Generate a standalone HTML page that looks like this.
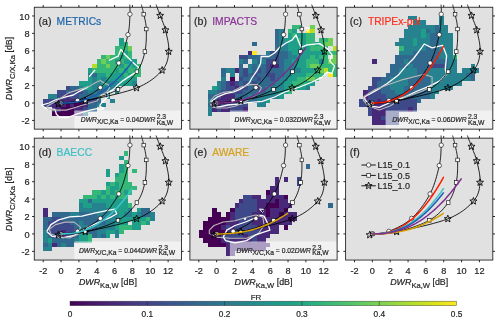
<!DOCTYPE html><html><head><meta charset="utf-8"><style>html,body{margin:0;padding:0;width:500px;height:322px;overflow:hidden;background:#fff}</style></head><body><svg width="500" height="322" viewBox="0 0 500 322" style="position:absolute;left:0;top:0;will-change:transform;font-family:'Liberation Sans', sans-serif">
<rect width="500" height="322" fill="#fff"/>
<rect x="34.30" y="7.25" width="147.20" height="121.90" fill="#e1e1e1"/>
<g shape-rendering="crispEdges">
<rect x="119.05" y="37.73" width="4.46" height="4.35" fill="#1f9e89"/>
<rect x="119.05" y="42.08" width="4.46" height="4.35" fill="#1f9e89"/>
<rect x="123.51" y="42.08" width="4.46" height="4.35" fill="#35b779"/>
<rect x="114.59" y="46.43" width="4.46" height="4.35" fill="#35b779"/>
<rect x="119.05" y="46.43" width="4.46" height="4.35" fill="#35b779"/>
<rect x="123.51" y="46.43" width="4.46" height="4.35" fill="#35b779"/>
<rect x="127.97" y="46.43" width="4.46" height="4.35" fill="#6ece58"/>
<rect x="114.59" y="50.79" width="4.46" height="4.35" fill="#35b779"/>
<rect x="119.05" y="50.79" width="4.46" height="4.35" fill="#35b779"/>
<rect x="123.51" y="50.79" width="4.46" height="4.35" fill="#1f9e89"/>
<rect x="127.97" y="50.79" width="4.46" height="4.35" fill="#35b779"/>
<rect x="101.21" y="55.14" width="4.46" height="4.35" fill="#35b779"/>
<rect x="105.67" y="55.14" width="4.46" height="4.35" fill="#6ece58"/>
<rect x="110.13" y="55.14" width="4.46" height="4.35" fill="#35b779"/>
<rect x="114.59" y="55.14" width="4.46" height="4.35" fill="#35b779"/>
<rect x="119.05" y="55.14" width="4.46" height="4.35" fill="#1f9e89"/>
<rect x="123.51" y="55.14" width="4.46" height="4.35" fill="#35b779"/>
<rect x="127.97" y="55.14" width="4.46" height="4.35" fill="#35b779"/>
<rect x="96.75" y="59.49" width="4.46" height="4.35" fill="#35b779"/>
<rect x="101.21" y="59.49" width="4.46" height="4.35" fill="#6ece58"/>
<rect x="105.67" y="59.49" width="4.46" height="4.35" fill="#35b779"/>
<rect x="110.13" y="59.49" width="4.46" height="4.35" fill="#35b779"/>
<rect x="114.59" y="59.49" width="4.46" height="4.35" fill="#1f9e89"/>
<rect x="119.05" y="59.49" width="4.46" height="4.35" fill="#35b779"/>
<rect x="123.51" y="59.49" width="4.46" height="4.35" fill="#1f9e89"/>
<rect x="127.97" y="59.49" width="4.46" height="4.35" fill="#1f9e89"/>
<rect x="132.43" y="59.49" width="4.46" height="4.35" fill="#1f9e89"/>
<rect x="92.29" y="63.85" width="4.46" height="4.35" fill="#b5de2b"/>
<rect x="96.75" y="63.85" width="4.46" height="4.35" fill="#35b779"/>
<rect x="101.21" y="63.85" width="4.46" height="4.35" fill="#35b779"/>
<rect x="105.67" y="63.85" width="4.46" height="4.35" fill="#6ece58"/>
<rect x="110.13" y="63.85" width="4.46" height="4.35" fill="#35b779"/>
<rect x="114.59" y="63.85" width="4.46" height="4.35" fill="#35b779"/>
<rect x="119.05" y="63.85" width="4.46" height="4.35" fill="#1f9e89"/>
<rect x="123.51" y="63.85" width="4.46" height="4.35" fill="#35b779"/>
<rect x="127.97" y="63.85" width="4.46" height="4.35" fill="#35b779"/>
<rect x="132.43" y="63.85" width="4.46" height="4.35" fill="#1f9e89"/>
<rect x="136.89" y="63.85" width="4.46" height="4.35" fill="#35b779"/>
<rect x="87.83" y="68.20" width="4.46" height="4.35" fill="#1f9e89"/>
<rect x="92.29" y="68.20" width="4.46" height="4.35" fill="#35b779"/>
<rect x="96.75" y="68.20" width="4.46" height="4.35" fill="#35b779"/>
<rect x="101.21" y="68.20" width="4.46" height="4.35" fill="#35b779"/>
<rect x="105.67" y="68.20" width="4.46" height="4.35" fill="#35b779"/>
<rect x="110.13" y="68.20" width="4.46" height="4.35" fill="#35b779"/>
<rect x="114.59" y="68.20" width="4.46" height="4.35" fill="#1f9e89"/>
<rect x="119.05" y="68.20" width="4.46" height="4.35" fill="#35b779"/>
<rect x="123.51" y="68.20" width="4.46" height="4.35" fill="#1f9e89"/>
<rect x="127.97" y="68.20" width="4.46" height="4.35" fill="#35b779"/>
<rect x="132.43" y="68.20" width="4.46" height="4.35" fill="#35b779"/>
<rect x="136.89" y="68.20" width="4.46" height="4.35" fill="#35b779"/>
<rect x="87.83" y="72.55" width="4.46" height="4.35" fill="#26828e"/>
<rect x="92.29" y="72.55" width="4.46" height="4.35" fill="#31688e"/>
<rect x="96.75" y="72.55" width="4.46" height="4.35" fill="#1f9e89"/>
<rect x="101.21" y="72.55" width="4.46" height="4.35" fill="#1f9e89"/>
<rect x="105.67" y="72.55" width="4.46" height="4.35" fill="#35b779"/>
<rect x="110.13" y="72.55" width="4.46" height="4.35" fill="#1f9e89"/>
<rect x="114.59" y="72.55" width="4.46" height="4.35" fill="#1f9e89"/>
<rect x="119.05" y="72.55" width="4.46" height="4.35" fill="#1f9e89"/>
<rect x="123.51" y="72.55" width="4.46" height="4.35" fill="#35b779"/>
<rect x="127.97" y="72.55" width="4.46" height="4.35" fill="#1f9e89"/>
<rect x="132.43" y="72.55" width="4.46" height="4.35" fill="#35b779"/>
<rect x="136.89" y="72.55" width="4.46" height="4.35" fill="#35b779"/>
<rect x="87.83" y="76.91" width="4.46" height="4.35" fill="#1f9e89"/>
<rect x="92.29" y="76.91" width="4.46" height="4.35" fill="#26828e"/>
<rect x="96.75" y="76.91" width="4.46" height="4.35" fill="#1f9e89"/>
<rect x="101.21" y="76.91" width="4.46" height="4.35" fill="#26828e"/>
<rect x="105.67" y="76.91" width="4.46" height="4.35" fill="#1f9e89"/>
<rect x="110.13" y="76.91" width="4.46" height="4.35" fill="#1f9e89"/>
<rect x="114.59" y="76.91" width="4.46" height="4.35" fill="#1f9e89"/>
<rect x="119.05" y="76.91" width="4.46" height="4.35" fill="#1f9e89"/>
<rect x="123.51" y="76.91" width="4.46" height="4.35" fill="#1f9e89"/>
<rect x="127.97" y="76.91" width="4.46" height="4.35" fill="#1f9e89"/>
<rect x="132.43" y="76.91" width="4.46" height="4.35" fill="#1f9e89"/>
<rect x="78.91" y="81.26" width="4.46" height="4.35" fill="#1f9e89"/>
<rect x="83.37" y="81.26" width="4.46" height="4.35" fill="#1f9e89"/>
<rect x="87.83" y="81.26" width="4.46" height="4.35" fill="#1f9e89"/>
<rect x="92.29" y="81.26" width="4.46" height="4.35" fill="#26828e"/>
<rect x="96.75" y="81.26" width="4.46" height="4.35" fill="#26828e"/>
<rect x="101.21" y="81.26" width="4.46" height="4.35" fill="#1f9e89"/>
<rect x="105.67" y="81.26" width="4.46" height="4.35" fill="#26828e"/>
<rect x="110.13" y="81.26" width="4.46" height="4.35" fill="#26828e"/>
<rect x="114.59" y="81.26" width="4.46" height="4.35" fill="#26828e"/>
<rect x="119.05" y="81.26" width="4.46" height="4.35" fill="#1f9e89"/>
<rect x="123.51" y="81.26" width="4.46" height="4.35" fill="#1f9e89"/>
<rect x="127.97" y="81.26" width="4.46" height="4.35" fill="#1f9e89"/>
<rect x="132.43" y="81.26" width="4.46" height="4.35" fill="#26828e"/>
<rect x="65.52" y="85.61" width="4.46" height="4.35" fill="#3e4989"/>
<rect x="69.98" y="85.61" width="4.46" height="4.35" fill="#31688e"/>
<rect x="74.45" y="85.61" width="4.46" height="4.35" fill="#31688e"/>
<rect x="78.91" y="85.61" width="4.46" height="4.35" fill="#26828e"/>
<rect x="83.37" y="85.61" width="4.46" height="4.35" fill="#1f9e89"/>
<rect x="87.83" y="85.61" width="4.46" height="4.35" fill="#1f9e89"/>
<rect x="92.29" y="85.61" width="4.46" height="4.35" fill="#26828e"/>
<rect x="96.75" y="85.61" width="4.46" height="4.35" fill="#26828e"/>
<rect x="101.21" y="85.61" width="4.46" height="4.35" fill="#26828e"/>
<rect x="105.67" y="85.61" width="4.46" height="4.35" fill="#26828e"/>
<rect x="110.13" y="85.61" width="4.46" height="4.35" fill="#26828e"/>
<rect x="114.59" y="85.61" width="4.46" height="4.35" fill="#26828e"/>
<rect x="56.60" y="89.97" width="4.46" height="4.35" fill="#3e4989"/>
<rect x="61.06" y="89.97" width="4.46" height="4.35" fill="#3e4989"/>
<rect x="65.52" y="89.97" width="4.46" height="4.35" fill="#31688e"/>
<rect x="69.98" y="89.97" width="4.46" height="4.35" fill="#3e4989"/>
<rect x="74.45" y="89.97" width="4.46" height="4.35" fill="#3e4989"/>
<rect x="78.91" y="89.97" width="4.46" height="4.35" fill="#3e4989"/>
<rect x="83.37" y="89.97" width="4.46" height="4.35" fill="#31688e"/>
<rect x="87.83" y="89.97" width="4.46" height="4.35" fill="#26828e"/>
<rect x="92.29" y="89.97" width="4.46" height="4.35" fill="#26828e"/>
<rect x="96.75" y="89.97" width="4.46" height="4.35" fill="#31688e"/>
<rect x="101.21" y="89.97" width="4.46" height="4.35" fill="#31688e"/>
<rect x="105.67" y="89.97" width="4.46" height="4.35" fill="#26828e"/>
<rect x="114.59" y="89.97" width="4.46" height="4.35" fill="#26828e"/>
<rect x="47.68" y="94.32" width="4.46" height="4.35" fill="#26828e"/>
<rect x="52.14" y="94.32" width="4.46" height="4.35" fill="#26828e"/>
<rect x="56.60" y="94.32" width="4.46" height="4.35" fill="#3e4989"/>
<rect x="61.06" y="94.32" width="4.46" height="4.35" fill="#3e4989"/>
<rect x="65.52" y="94.32" width="4.46" height="4.35" fill="#482878"/>
<rect x="69.98" y="94.32" width="4.46" height="4.35" fill="#3e4989"/>
<rect x="74.45" y="94.32" width="4.46" height="4.35" fill="#3e4989"/>
<rect x="78.91" y="94.32" width="4.46" height="4.35" fill="#31688e"/>
<rect x="83.37" y="94.32" width="4.46" height="4.35" fill="#31688e"/>
<rect x="87.83" y="94.32" width="4.46" height="4.35" fill="#31688e"/>
<rect x="92.29" y="94.32" width="4.46" height="4.35" fill="#31688e"/>
<rect x="96.75" y="94.32" width="4.46" height="4.35" fill="#26828e"/>
<rect x="105.67" y="94.32" width="4.46" height="4.35" fill="#26828e"/>
<rect x="43.22" y="98.67" width="4.46" height="4.35" fill="#3e4989"/>
<rect x="47.68" y="98.67" width="4.46" height="4.35" fill="#3e4989"/>
<rect x="52.14" y="98.67" width="4.46" height="4.35" fill="#3e4989"/>
<rect x="56.60" y="98.67" width="4.46" height="4.35" fill="#3e4989"/>
<rect x="61.06" y="98.67" width="4.46" height="4.35" fill="#482878"/>
<rect x="65.52" y="98.67" width="4.46" height="4.35" fill="#482878"/>
<rect x="69.98" y="98.67" width="4.46" height="4.35" fill="#482878"/>
<rect x="74.45" y="98.67" width="4.46" height="4.35" fill="#482878"/>
<rect x="78.91" y="98.67" width="4.46" height="4.35" fill="#482878"/>
<rect x="83.37" y="98.67" width="4.46" height="4.35" fill="#3e4989"/>
<rect x="87.83" y="98.67" width="4.46" height="4.35" fill="#3e4989"/>
<rect x="92.29" y="98.67" width="4.46" height="4.35" fill="#3e4989"/>
<rect x="96.75" y="98.67" width="4.46" height="4.35" fill="#31688e"/>
<rect x="110.13" y="98.67" width="4.46" height="4.35" fill="#26828e"/>
<rect x="43.22" y="103.03" width="4.46" height="4.35" fill="#3e4989"/>
<rect x="47.68" y="103.03" width="4.46" height="4.35" fill="#3e4989"/>
<rect x="52.14" y="103.03" width="4.46" height="4.35" fill="#482878"/>
<rect x="56.60" y="103.03" width="4.46" height="4.35" fill="#482878"/>
<rect x="61.06" y="103.03" width="4.46" height="4.35" fill="#482878"/>
<rect x="65.52" y="103.03" width="4.46" height="4.35" fill="#440154"/>
<rect x="69.98" y="103.03" width="4.46" height="4.35" fill="#482878"/>
<rect x="74.45" y="103.03" width="4.46" height="4.35" fill="#440154"/>
<rect x="78.91" y="103.03" width="4.46" height="4.35" fill="#440154"/>
<rect x="83.37" y="103.03" width="4.46" height="4.35" fill="#482878"/>
<rect x="87.83" y="103.03" width="4.46" height="4.35" fill="#31688e"/>
<rect x="92.29" y="103.03" width="4.46" height="4.35" fill="#31688e"/>
<rect x="96.75" y="103.03" width="4.46" height="4.35" fill="#26828e"/>
<rect x="101.21" y="103.03" width="4.46" height="4.35" fill="#26828e"/>
<rect x="52.14" y="107.38" width="4.46" height="4.35" fill="#482878"/>
<rect x="56.60" y="107.38" width="4.46" height="4.35" fill="#482878"/>
<rect x="61.06" y="107.38" width="4.46" height="4.35" fill="#440154"/>
<rect x="65.52" y="107.38" width="4.46" height="4.35" fill="#440154"/>
<rect x="69.98" y="107.38" width="4.46" height="4.35" fill="#440154"/>
<rect x="74.45" y="107.38" width="4.46" height="4.35" fill="#482878"/>
<rect x="78.91" y="107.38" width="4.46" height="4.35" fill="#482878"/>
<rect x="83.37" y="107.38" width="4.46" height="4.35" fill="#3e4989"/>
<rect x="87.83" y="107.38" width="4.46" height="4.35" fill="#31688e"/>
<rect x="92.29" y="107.38" width="4.46" height="4.35" fill="#31688e"/>
<rect x="52.14" y="111.74" width="4.46" height="4.35" fill="#440154"/>
<rect x="56.60" y="111.74" width="4.46" height="4.35" fill="#440154"/>
<rect x="61.06" y="111.74" width="4.46" height="4.35" fill="#440154"/>
<rect x="65.52" y="111.74" width="4.46" height="4.35" fill="#440154"/>
<rect x="69.98" y="111.74" width="4.46" height="4.35" fill="#440154"/>
<rect x="74.45" y="111.74" width="4.46" height="4.35" fill="#482878"/>
<rect x="78.91" y="111.74" width="4.46" height="4.35" fill="#482878"/>
<rect x="83.37" y="111.74" width="4.46" height="4.35" fill="#26828e"/>
</g>
<text x="38.50" y="25.25" font-size="10.6" fill="#262626" stroke="#262626" stroke-width="0.2">(a)</text>
<text x="56.60" y="25.25" font-size="10.3" fill="#1c65ab" stroke="#1c65ab" stroke-width="0.2">METRICs</text>
<path d="M97.0,108.7 L90.0,110.1 L83.0,112.2 L76.0,114.3 L67.6,117.5 L59.9,117.5 L56.4,114.3 L55.0,109.4 L46.6,108.7 L41.7,105.2 L49.0,103.0 L55.0,100.0 L61.5,98.1 L65.8,96.9 L73.3,95.0 L79.5,91.3 L88.2,87.0" fill="none" stroke="#ffffff" stroke-width="1.30" stroke-linejoin="round"/>
<path d="M89.1,76.8 L95.1,69.9" fill="none" stroke="#ffffff" stroke-width="1.30" stroke-linejoin="round"/>
<path d="M108.8,60.5 L118.2,56.2 L120.8,49.4 L125.0,54.5 L131.9,61.4 L138.7,67.4 L137.0,71.6 L130.2,75.9 L123.8,80.1 L118.5,84.3 L114.3,88.6 L111.1,90.7 L107.4,92.8 L108.5,96.5 L101.6,102.8 L99.5,106.0 L103.7,108.6 L99.5,109.7 L97.0,108.7" fill="none" stroke="#ffffff" stroke-width="1.30" stroke-linejoin="round"/>
<path d="M46.6,106.6 L56.4,101.0 L69.0,92.6 L83.0,88.4 L90.0,85.9 L96.3,82.2 L100.6,80.6 L103.7,82.8 L108.5,84.9 L109.5,88.0 L106.9,91.7 L100.6,95.4 L97.0,101.0 L87.2,103.8 L76.0,107.3 L66.2,110.1 L53.6,110.1 L48.0,108.7 L46.6,106.6" fill="none" stroke="#b8b8b8" stroke-width="1.10" stroke-linejoin="round"/>
<path d="M61.06,103.03 L62.02,102.92 L63.21,102.84 L64.61,102.76 L66.18,102.66 L67.89,102.53 L69.72,102.33 L71.64,102.04 L73.60,101.64 L75.59,101.11 L77.57,100.42 L79.61,99.60 L81.79,98.68 L84.07,97.67 L86.42,96.56 L88.82,95.34 L91.23,94.02 L93.61,92.58 L95.94,91.02 L98.19,89.34 L100.32,87.53 L102.38,85.56 L104.43,83.43 L106.46,81.14 L108.46,78.73 L110.40,76.22 L112.27,73.63 L114.06,70.98 L115.75,68.31 L117.33,65.64 L118.78,62.98 L120.11,60.26 L121.33,57.43 L122.45,54.51 L123.47,51.55 L124.41,48.57 L125.26,45.61 L126.04,42.71 L126.75,39.90 L127.39,37.21 L127.97,34.68 L128.47,32.26 L128.86,29.91 L129.16,27.62 L129.38,25.41 L129.54,23.28 L129.65,21.24 L129.73,19.31 L129.80,17.49 L129.86,15.79 L129.94,14.22 L130.00,12.77 L130.03,11.45 L130.03,10.24 L130.01,9.14 L129.97,8.15 L129.92,7.26 L129.86,6.46 L129.82,5.77 L129.78,5.16 L129.76,4.64" fill="none" stroke="#000" stroke-width="0.85"/>
<path d="M61.06,103.03 L62.46,102.96 L64.20,102.92 L66.24,102.90 L68.54,102.87 L71.06,102.80 L73.73,102.67 L76.52,102.46 L79.39,102.15 L82.28,101.71 L85.15,101.11 L88.14,100.37 L91.38,99.50 L94.80,98.52 L98.32,97.44 L101.89,96.27 L105.43,95.02 L108.88,93.70 L112.17,92.33 L115.22,90.90 L117.98,89.45 L120.48,87.93 L122.83,86.32 L125.02,84.64 L127.07,82.89 L128.99,81.09 L130.78,79.25 L132.46,77.38 L134.03,75.48 L135.51,73.58 L136.89,71.68 L138.17,69.78 L139.30,67.85 L140.31,65.90 L141.21,63.92 L142.01,61.93 L142.72,59.90 L143.35,57.86 L143.92,55.79 L144.44,53.69 L144.92,51.57 L145.35,49.38 L145.68,47.09 L145.94,44.74 L146.12,42.35 L146.25,39.96 L146.32,37.60 L146.35,35.29 L146.35,33.07 L146.31,30.97 L146.26,29.02 L146.17,27.20 L146.01,25.48 L145.79,23.84 L145.53,22.29 L145.25,20.81 L144.94,19.39 L144.63,18.03 L144.32,16.72 L144.03,15.45 L143.76,14.22 L143.51,13.00 L143.24,11.81 L142.96,10.66 L142.68,9.55 L142.40,8.50 L142.14,7.53 L141.90,6.64 L141.68,5.86 L141.50,5.18 L141.35,4.64" fill="none" stroke="#000" stroke-width="0.85"/>
<path d="M58.39,104.07 L59.88,103.93 L61.66,103.79 L63.73,103.65 L66.06,103.48 L68.66,103.27 L71.51,102.99 L74.61,102.63 L77.96,102.17 L81.53,101.58 L85.33,100.85 L89.58,99.98 L94.43,98.97 L99.71,97.85 L105.29,96.62 L111.02,95.31 L116.73,93.93 L122.29,92.49 L127.55,91.00 L132.34,89.49 L136.54,87.97 L140.22,86.40 L143.60,84.75 L146.70,83.05 L149.53,81.29 L152.13,79.49 L154.50,77.67 L156.66,75.82 L158.65,73.97 L160.47,72.12 L162.14,70.29 L163.62,68.47 L164.84,66.66 L165.83,64.84 L166.63,63.01 L167.25,61.17 L167.73,59.31 L168.09,57.42 L168.36,55.51 L168.57,53.56 L168.74,51.57 L168.82,49.50 L168.75,47.33 L168.54,45.10 L168.23,42.83 L167.83,40.55 L167.38,38.29 L166.89,36.08 L166.39,33.96 L165.90,31.94 L165.44,30.06 L164.99,28.32 L164.50,26.66 L163.97,25.10 L163.42,23.61 L162.86,22.18 L162.29,20.80 L161.73,19.47 L161.19,18.16 L160.67,16.88 L160.18,15.61 L159.70,14.32 L159.22,13.02 L158.73,11.72 L158.26,10.44 L157.80,9.22 L157.36,8.07 L156.97,7.01 L156.61,6.07 L156.31,5.27 L156.07,4.64" fill="none" stroke="#000" stroke-width="0.85"/>
<circle cx="61.06" cy="103.03" r="2.2" fill="#fff" stroke="#000" stroke-width="0.6"/>
<circle cx="77.57" cy="100.42" r="2.2" fill="#fff" stroke="#000" stroke-width="0.6"/>
<circle cx="100.32" cy="87.53" r="2.2" fill="#fff" stroke="#000" stroke-width="0.6"/>
<circle cx="118.78" cy="62.98" r="2.2" fill="#fff" stroke="#000" stroke-width="0.6"/>
<circle cx="127.97" cy="34.68" r="2.2" fill="#fff" stroke="#000" stroke-width="0.6"/>
<circle cx="129.94" cy="14.22" r="2.2" fill="#fff" stroke="#000" stroke-width="0.6"/>
<rect x="59.26" y="101.23" width="3.6" height="3.6" fill="#fff" stroke="#000" stroke-width="0.6"/>
<rect x="83.35" y="99.31" width="3.6" height="3.6" fill="#fff" stroke="#000" stroke-width="0.6"/>
<rect x="116.18" y="87.65" width="3.6" height="3.6" fill="#fff" stroke="#000" stroke-width="0.6"/>
<rect x="135.09" y="69.88" width="3.6" height="3.6" fill="#fff" stroke="#000" stroke-width="0.6"/>
<rect x="143.12" y="49.77" width="3.6" height="3.6" fill="#fff" stroke="#000" stroke-width="0.6"/>
<rect x="144.46" y="27.22" width="3.6" height="3.6" fill="#fff" stroke="#000" stroke-width="0.6"/>
<rect x="141.96" y="12.42" width="3.6" height="3.6" fill="#fff" stroke="#000" stroke-width="0.6"/>
<polygon points="58.39,100.37 59.33,102.78 61.91,102.93 59.91,104.57 60.56,107.07 58.39,105.67 56.21,107.07 56.87,104.57 54.87,102.93 57.45,102.78" fill="none" stroke="#000" stroke-width="0.85"/>
<polygon points="85.33,97.15 86.27,99.56 88.85,99.71 86.85,101.35 87.50,103.85 85.33,102.45 83.15,103.85 83.81,101.35 81.81,99.71 84.39,99.56" fill="none" stroke="#000" stroke-width="0.85"/>
<polygon points="136.54,84.27 137.48,86.67 140.06,86.82 138.06,88.46 138.71,90.96 136.54,89.57 134.36,90.96 135.02,88.46 133.02,86.82 135.60,86.67" fill="none" stroke="#000" stroke-width="0.85"/>
<polygon points="162.14,66.59 163.08,69.00 165.66,69.15 163.66,70.78 164.32,73.28 162.14,71.89 159.97,73.28 160.62,70.78 158.62,69.15 161.20,69.00" fill="none" stroke="#000" stroke-width="0.85"/>
<polygon points="168.74,47.87 169.68,50.27 172.26,50.43 170.26,52.06 170.92,54.56 168.74,53.17 166.57,54.56 167.22,52.06 165.22,50.43 167.80,50.27" fill="none" stroke="#000" stroke-width="0.85"/>
<polygon points="165.44,26.36 166.38,28.77 168.96,28.92 166.96,30.56 167.62,33.06 165.44,31.66 163.27,33.06 163.92,30.56 161.92,28.92 164.50,28.77" fill="none" stroke="#000" stroke-width="0.85"/>
<polygon points="160.18,11.91 161.12,14.31 163.70,14.47 161.70,16.10 162.35,18.60 160.18,17.21 158.00,18.60 158.66,16.10 156.66,14.47 159.24,14.31" fill="none" stroke="#000" stroke-width="0.85"/>
<path d="M61.06,103.03 L62.89,103.02 L64.72,102.98 L66.55,102.91 L68.38,102.81 L70.21,102.66 L72.04,102.47 L73.87,102.23 L75.70,101.94 L77.53,101.60 L79.36,101.21 L81.19,100.76 L83.02,100.26 L84.85,99.70 L86.68,99.09 L88.51,98.41 L90.34,97.67 L92.17,96.87 L94.00,96.00 L95.83,95.07 L97.66,94.08 L99.49,93.01 L101.32,91.88 L103.15,90.68 L104.98,89.41 L106.81,88.07 L108.64,86.66 L110.47,85.17 L112.30,83.62 L114.13,81.99 L115.96,80.28 L117.79,78.50 L119.62,76.64 L121.45,74.70 L123.28,72.69 L125.11,70.60 L126.94,68.43 L128.77,66.18 L130.60,63.85 L132.43,61.43" fill="none" stroke="#1a5cb0" stroke-width="1.45"/>
<rect x="74.30" y="110.55" width="107.20" height="18.60" fill="#ffffff" fill-opacity="0.55"/>
<text x="127.00" y="121.60" font-size="6.75" text-anchor="middle" fill="#262626" stroke="#262626" stroke-width="0.2"><tspan font-style="italic">DWR</tspan><tspan dy="2.5">X/C,Ka</tspan><tspan dy="-2.5"> = 0.04</tspan><tspan font-style="italic">DWR</tspan><tspan dx="1.3" dy="-2.9">2.3</tspan><tspan dx="-9.4" dy="5.8">Ka,W</tspan></text>
<rect x="34.30" y="7.25" width="147.20" height="121.90" fill="none" stroke="#262626" stroke-width="0.9"/>
<line x1="43.22" y1="129.15" x2="43.22" y2="131.35" stroke="#262626" stroke-width="1.0"/>
<line x1="43.22" y1="7.25" x2="43.22" y2="5.05" stroke="#262626" stroke-width="1.0"/>
<line x1="61.06" y1="129.15" x2="61.06" y2="131.35" stroke="#262626" stroke-width="1.0"/>
<line x1="61.06" y1="7.25" x2="61.06" y2="5.05" stroke="#262626" stroke-width="1.0"/>
<line x1="78.91" y1="129.15" x2="78.91" y2="131.35" stroke="#262626" stroke-width="1.0"/>
<line x1="78.91" y1="7.25" x2="78.91" y2="5.05" stroke="#262626" stroke-width="1.0"/>
<line x1="96.75" y1="129.15" x2="96.75" y2="131.35" stroke="#262626" stroke-width="1.0"/>
<line x1="96.75" y1="7.25" x2="96.75" y2="5.05" stroke="#262626" stroke-width="1.0"/>
<line x1="114.59" y1="129.15" x2="114.59" y2="131.35" stroke="#262626" stroke-width="1.0"/>
<line x1="114.59" y1="7.25" x2="114.59" y2="5.05" stroke="#262626" stroke-width="1.0"/>
<line x1="132.43" y1="129.15" x2="132.43" y2="131.35" stroke="#262626" stroke-width="1.0"/>
<line x1="132.43" y1="7.25" x2="132.43" y2="5.05" stroke="#262626" stroke-width="1.0"/>
<line x1="150.28" y1="129.15" x2="150.28" y2="131.35" stroke="#262626" stroke-width="1.0"/>
<line x1="150.28" y1="7.25" x2="150.28" y2="5.05" stroke="#262626" stroke-width="1.0"/>
<line x1="168.12" y1="129.15" x2="168.12" y2="131.35" stroke="#262626" stroke-width="1.0"/>
<line x1="168.12" y1="7.25" x2="168.12" y2="5.05" stroke="#262626" stroke-width="1.0"/>
<line x1="34.30" y1="120.44" x2="32.10" y2="120.44" stroke="#262626" stroke-width="1.0"/>
<line x1="181.50" y1="120.44" x2="183.70" y2="120.44" stroke="#262626" stroke-width="1.0"/>
<line x1="34.30" y1="103.03" x2="32.10" y2="103.03" stroke="#262626" stroke-width="1.0"/>
<line x1="181.50" y1="103.03" x2="183.70" y2="103.03" stroke="#262626" stroke-width="1.0"/>
<line x1="34.30" y1="85.61" x2="32.10" y2="85.61" stroke="#262626" stroke-width="1.0"/>
<line x1="181.50" y1="85.61" x2="183.70" y2="85.61" stroke="#262626" stroke-width="1.0"/>
<line x1="34.30" y1="68.20" x2="32.10" y2="68.20" stroke="#262626" stroke-width="1.0"/>
<line x1="181.50" y1="68.20" x2="183.70" y2="68.20" stroke="#262626" stroke-width="1.0"/>
<line x1="34.30" y1="50.79" x2="32.10" y2="50.79" stroke="#262626" stroke-width="1.0"/>
<line x1="181.50" y1="50.79" x2="183.70" y2="50.79" stroke="#262626" stroke-width="1.0"/>
<line x1="34.30" y1="33.37" x2="32.10" y2="33.37" stroke="#262626" stroke-width="1.0"/>
<line x1="181.50" y1="33.37" x2="183.70" y2="33.37" stroke="#262626" stroke-width="1.0"/>
<line x1="34.30" y1="15.96" x2="32.10" y2="15.96" stroke="#262626" stroke-width="1.0"/>
<line x1="181.50" y1="15.96" x2="183.70" y2="15.96" stroke="#262626" stroke-width="1.0"/>
<text transform="translate(29.6,124.04) scale(1,1.06)" font-size="9.2" text-anchor="end" fill="#262626" stroke="#262626" stroke-width="0.2">-2</text>
<text transform="translate(29.6,106.63) scale(1,1.06)" font-size="9.2" text-anchor="end" fill="#262626" stroke="#262626" stroke-width="0.2">0</text>
<text transform="translate(29.6,89.21) scale(1,1.06)" font-size="9.2" text-anchor="end" fill="#262626" stroke="#262626" stroke-width="0.2">2</text>
<text transform="translate(29.6,71.80) scale(1,1.06)" font-size="9.2" text-anchor="end" fill="#262626" stroke="#262626" stroke-width="0.2">4</text>
<text transform="translate(29.6,54.39) scale(1,1.06)" font-size="9.2" text-anchor="end" fill="#262626" stroke="#262626" stroke-width="0.2">6</text>
<text transform="translate(29.6,36.97) scale(1,1.06)" font-size="9.2" text-anchor="end" fill="#262626" stroke="#262626" stroke-width="0.2">8</text>
<text transform="translate(29.6,19.56) scale(1,1.06)" font-size="9.2" text-anchor="end" fill="#262626" stroke="#262626" stroke-width="0.2">10</text>
<rect x="189.90" y="7.25" width="147.20" height="121.90" fill="#e1e1e1"/>
<g shape-rendering="crispEdges">
<rect x="292.49" y="24.66" width="4.46" height="4.35" fill="#35b779"/>
<rect x="296.95" y="24.66" width="4.46" height="4.35" fill="#35b779"/>
<rect x="310.34" y="24.66" width="4.46" height="4.35" fill="#6ece58"/>
<rect x="274.65" y="29.02" width="4.46" height="4.35" fill="#31688e"/>
<rect x="279.11" y="29.02" width="4.46" height="4.35" fill="#26828e"/>
<rect x="288.03" y="29.02" width="4.46" height="4.35" fill="#35b779"/>
<rect x="292.49" y="29.02" width="4.46" height="4.35" fill="#1f9e89"/>
<rect x="305.88" y="29.02" width="4.46" height="4.35" fill="#fde725"/>
<rect x="310.34" y="29.02" width="4.46" height="4.35" fill="#b5de2b"/>
<rect x="274.65" y="33.37" width="4.46" height="4.35" fill="#31688e"/>
<rect x="279.11" y="33.37" width="4.46" height="4.35" fill="#26828e"/>
<rect x="288.03" y="33.37" width="4.46" height="4.35" fill="#1f9e89"/>
<rect x="292.49" y="33.37" width="4.46" height="4.35" fill="#35b779"/>
<rect x="296.95" y="33.37" width="4.46" height="4.35" fill="#1f9e89"/>
<rect x="301.42" y="33.37" width="4.46" height="4.35" fill="#1f9e89"/>
<rect x="305.88" y="33.37" width="4.46" height="4.35" fill="#35b779"/>
<rect x="310.34" y="33.37" width="4.46" height="4.35" fill="#35b779"/>
<rect x="274.65" y="37.73" width="4.46" height="4.35" fill="#31688e"/>
<rect x="279.11" y="37.73" width="4.46" height="4.35" fill="#26828e"/>
<rect x="283.57" y="37.73" width="4.46" height="4.35" fill="#1f9e89"/>
<rect x="288.03" y="37.73" width="4.46" height="4.35" fill="#1f9e89"/>
<rect x="292.49" y="37.73" width="4.46" height="4.35" fill="#1f9e89"/>
<rect x="296.95" y="37.73" width="4.46" height="4.35" fill="#35b779"/>
<rect x="301.42" y="37.73" width="4.46" height="4.35" fill="#1f9e89"/>
<rect x="305.88" y="37.73" width="4.46" height="4.35" fill="#35b779"/>
<rect x="310.34" y="37.73" width="4.46" height="4.35" fill="#35b779"/>
<rect x="319.26" y="37.73" width="4.46" height="4.35" fill="#35b779"/>
<rect x="323.72" y="37.73" width="4.46" height="4.35" fill="#35b779"/>
<rect x="328.18" y="37.73" width="4.46" height="4.35" fill="#6ece58"/>
<rect x="252.35" y="42.08" width="4.46" height="4.35" fill="#31688e"/>
<rect x="274.65" y="42.08" width="4.46" height="4.35" fill="#31688e"/>
<rect x="279.11" y="42.08" width="4.46" height="4.35" fill="#26828e"/>
<rect x="283.57" y="42.08" width="4.46" height="4.35" fill="#26828e"/>
<rect x="288.03" y="42.08" width="4.46" height="4.35" fill="#1f9e89"/>
<rect x="292.49" y="42.08" width="4.46" height="4.35" fill="#1f9e89"/>
<rect x="296.95" y="42.08" width="4.46" height="4.35" fill="#1f9e89"/>
<rect x="301.42" y="42.08" width="4.46" height="4.35" fill="#1f9e89"/>
<rect x="305.88" y="42.08" width="4.46" height="4.35" fill="#35b779"/>
<rect x="310.34" y="42.08" width="4.46" height="4.35" fill="#35b779"/>
<rect x="314.80" y="42.08" width="4.46" height="4.35" fill="#1f9e89"/>
<rect x="319.26" y="42.08" width="4.46" height="4.35" fill="#35b779"/>
<rect x="323.72" y="42.08" width="4.46" height="4.35" fill="#6ece58"/>
<rect x="328.18" y="42.08" width="4.46" height="4.35" fill="#6ece58"/>
<rect x="274.65" y="46.43" width="4.46" height="4.35" fill="#31688e"/>
<rect x="279.11" y="46.43" width="4.46" height="4.35" fill="#26828e"/>
<rect x="283.57" y="46.43" width="4.46" height="4.35" fill="#26828e"/>
<rect x="288.03" y="46.43" width="4.46" height="4.35" fill="#1f9e89"/>
<rect x="292.49" y="46.43" width="4.46" height="4.35" fill="#1f9e89"/>
<rect x="296.95" y="46.43" width="4.46" height="4.35" fill="#1f9e89"/>
<rect x="301.42" y="46.43" width="4.46" height="4.35" fill="#1f9e89"/>
<rect x="305.88" y="46.43" width="4.46" height="4.35" fill="#1f9e89"/>
<rect x="310.34" y="46.43" width="4.46" height="4.35" fill="#35b779"/>
<rect x="314.80" y="46.43" width="4.46" height="4.35" fill="#35b779"/>
<rect x="319.26" y="46.43" width="4.46" height="4.35" fill="#35b779"/>
<rect x="323.72" y="46.43" width="4.46" height="4.35" fill="#35b779"/>
<rect x="332.64" y="46.43" width="4.46" height="4.35" fill="#b5de2b"/>
<rect x="247.89" y="50.79" width="4.46" height="4.35" fill="#482878"/>
<rect x="252.35" y="50.79" width="4.46" height="4.35" fill="#fde725"/>
<rect x="265.73" y="50.79" width="4.46" height="4.35" fill="#26828e"/>
<rect x="270.19" y="50.79" width="4.46" height="4.35" fill="#3e4989"/>
<rect x="274.65" y="50.79" width="4.46" height="4.35" fill="#31688e"/>
<rect x="279.11" y="50.79" width="4.46" height="4.35" fill="#31688e"/>
<rect x="283.57" y="50.79" width="4.46" height="4.35" fill="#31688e"/>
<rect x="288.03" y="50.79" width="4.46" height="4.35" fill="#26828e"/>
<rect x="292.49" y="50.79" width="4.46" height="4.35" fill="#1f9e89"/>
<rect x="296.95" y="50.79" width="4.46" height="4.35" fill="#1f9e89"/>
<rect x="301.42" y="50.79" width="4.46" height="4.35" fill="#1f9e89"/>
<rect x="305.88" y="50.79" width="4.46" height="4.35" fill="#1f9e89"/>
<rect x="310.34" y="50.79" width="4.46" height="4.35" fill="#1f9e89"/>
<rect x="314.80" y="50.79" width="4.46" height="4.35" fill="#1f9e89"/>
<rect x="319.26" y="50.79" width="4.46" height="4.35" fill="#1f9e89"/>
<rect x="323.72" y="50.79" width="4.46" height="4.35" fill="#35b779"/>
<rect x="328.18" y="50.79" width="4.46" height="4.35" fill="#35b779"/>
<rect x="332.64" y="50.79" width="4.46" height="4.35" fill="#35b779"/>
<rect x="238.97" y="55.14" width="4.46" height="4.35" fill="#3e4989"/>
<rect x="243.43" y="55.14" width="4.46" height="4.35" fill="#3e4989"/>
<rect x="247.89" y="55.14" width="4.46" height="4.35" fill="#31688e"/>
<rect x="252.35" y="55.14" width="4.46" height="4.35" fill="#31688e"/>
<rect x="256.81" y="55.14" width="4.46" height="4.35" fill="#31688e"/>
<rect x="261.27" y="55.14" width="4.46" height="4.35" fill="#31688e"/>
<rect x="265.73" y="55.14" width="4.46" height="4.35" fill="#31688e"/>
<rect x="270.19" y="55.14" width="4.46" height="4.35" fill="#31688e"/>
<rect x="274.65" y="55.14" width="4.46" height="4.35" fill="#3e4989"/>
<rect x="279.11" y="55.14" width="4.46" height="4.35" fill="#31688e"/>
<rect x="283.57" y="55.14" width="4.46" height="4.35" fill="#31688e"/>
<rect x="288.03" y="55.14" width="4.46" height="4.35" fill="#26828e"/>
<rect x="292.49" y="55.14" width="4.46" height="4.35" fill="#26828e"/>
<rect x="296.95" y="55.14" width="4.46" height="4.35" fill="#1f9e89"/>
<rect x="301.42" y="55.14" width="4.46" height="4.35" fill="#1f9e89"/>
<rect x="305.88" y="55.14" width="4.46" height="4.35" fill="#1f9e89"/>
<rect x="310.34" y="55.14" width="4.46" height="4.35" fill="#35b779"/>
<rect x="314.80" y="55.14" width="4.46" height="4.35" fill="#1f9e89"/>
<rect x="319.26" y="55.14" width="4.46" height="4.35" fill="#35b779"/>
<rect x="323.72" y="55.14" width="4.46" height="4.35" fill="#35b779"/>
<rect x="332.64" y="55.14" width="4.46" height="4.35" fill="#6ece58"/>
<rect x="238.97" y="59.49" width="4.46" height="4.35" fill="#26828e"/>
<rect x="243.43" y="59.49" width="4.46" height="4.35" fill="#31688e"/>
<rect x="252.35" y="59.49" width="4.46" height="4.35" fill="#26828e"/>
<rect x="256.81" y="59.49" width="4.46" height="4.35" fill="#31688e"/>
<rect x="261.27" y="59.49" width="4.46" height="4.35" fill="#26828e"/>
<rect x="265.73" y="59.49" width="4.46" height="4.35" fill="#3e4989"/>
<rect x="270.19" y="59.49" width="4.46" height="4.35" fill="#3e4989"/>
<rect x="274.65" y="59.49" width="4.46" height="4.35" fill="#3e4989"/>
<rect x="279.11" y="59.49" width="4.46" height="4.35" fill="#31688e"/>
<rect x="283.57" y="59.49" width="4.46" height="4.35" fill="#26828e"/>
<rect x="288.03" y="59.49" width="4.46" height="4.35" fill="#26828e"/>
<rect x="292.49" y="59.49" width="4.46" height="4.35" fill="#1f9e89"/>
<rect x="296.95" y="59.49" width="4.46" height="4.35" fill="#1f9e89"/>
<rect x="301.42" y="59.49" width="4.46" height="4.35" fill="#1f9e89"/>
<rect x="305.88" y="59.49" width="4.46" height="4.35" fill="#35b779"/>
<rect x="310.34" y="59.49" width="4.46" height="4.35" fill="#35b779"/>
<rect x="314.80" y="59.49" width="4.46" height="4.35" fill="#35b779"/>
<rect x="319.26" y="59.49" width="4.46" height="4.35" fill="#26828e"/>
<rect x="323.72" y="59.49" width="4.46" height="4.35" fill="#35b779"/>
<rect x="328.18" y="59.49" width="4.46" height="4.35" fill="#6ece58"/>
<rect x="332.64" y="59.49" width="4.46" height="4.35" fill="#6ece58"/>
<rect x="238.97" y="63.85" width="4.46" height="4.35" fill="#31688e"/>
<rect x="247.89" y="63.85" width="4.46" height="4.35" fill="#26828e"/>
<rect x="252.35" y="63.85" width="4.46" height="4.35" fill="#31688e"/>
<rect x="256.81" y="63.85" width="4.46" height="4.35" fill="#26828e"/>
<rect x="261.27" y="63.85" width="4.46" height="4.35" fill="#31688e"/>
<rect x="265.73" y="63.85" width="4.46" height="4.35" fill="#3e4989"/>
<rect x="270.19" y="63.85" width="4.46" height="4.35" fill="#482878"/>
<rect x="274.65" y="63.85" width="4.46" height="4.35" fill="#482878"/>
<rect x="279.11" y="63.85" width="4.46" height="4.35" fill="#31688e"/>
<rect x="283.57" y="63.85" width="4.46" height="4.35" fill="#26828e"/>
<rect x="288.03" y="63.85" width="4.46" height="4.35" fill="#26828e"/>
<rect x="292.49" y="63.85" width="4.46" height="4.35" fill="#26828e"/>
<rect x="296.95" y="63.85" width="4.46" height="4.35" fill="#1f9e89"/>
<rect x="301.42" y="63.85" width="4.46" height="4.35" fill="#1f9e89"/>
<rect x="305.88" y="63.85" width="4.46" height="4.35" fill="#35b779"/>
<rect x="310.34" y="63.85" width="4.46" height="4.35" fill="#6ece58"/>
<rect x="314.80" y="63.85" width="4.46" height="4.35" fill="#6ece58"/>
<rect x="319.26" y="63.85" width="4.46" height="4.35" fill="#35b779"/>
<rect x="323.72" y="63.85" width="4.46" height="4.35" fill="#35b779"/>
<rect x="328.18" y="63.85" width="4.46" height="4.35" fill="#35b779"/>
<rect x="332.64" y="63.85" width="4.46" height="4.35" fill="#35b779"/>
<rect x="221.12" y="68.20" width="4.46" height="4.35" fill="#31688e"/>
<rect x="225.58" y="68.20" width="4.46" height="4.35" fill="#26828e"/>
<rect x="230.05" y="68.20" width="4.46" height="4.35" fill="#26828e"/>
<rect x="234.51" y="68.20" width="4.46" height="4.35" fill="#482878"/>
<rect x="238.97" y="68.20" width="4.46" height="4.35" fill="#31688e"/>
<rect x="243.43" y="68.20" width="4.46" height="4.35" fill="#3e4989"/>
<rect x="247.89" y="68.20" width="4.46" height="4.35" fill="#26828e"/>
<rect x="252.35" y="68.20" width="4.46" height="4.35" fill="#31688e"/>
<rect x="256.81" y="68.20" width="4.46" height="4.35" fill="#3e4989"/>
<rect x="261.27" y="68.20" width="4.46" height="4.35" fill="#31688e"/>
<rect x="265.73" y="68.20" width="4.46" height="4.35" fill="#3e4989"/>
<rect x="270.19" y="68.20" width="4.46" height="4.35" fill="#31688e"/>
<rect x="274.65" y="68.20" width="4.46" height="4.35" fill="#31688e"/>
<rect x="279.11" y="68.20" width="4.46" height="4.35" fill="#31688e"/>
<rect x="283.57" y="68.20" width="4.46" height="4.35" fill="#26828e"/>
<rect x="288.03" y="68.20" width="4.46" height="4.35" fill="#26828e"/>
<rect x="292.49" y="68.20" width="4.46" height="4.35" fill="#26828e"/>
<rect x="296.95" y="68.20" width="4.46" height="4.35" fill="#26828e"/>
<rect x="301.42" y="68.20" width="4.46" height="4.35" fill="#1f9e89"/>
<rect x="305.88" y="68.20" width="4.46" height="4.35" fill="#1f9e89"/>
<rect x="310.34" y="68.20" width="4.46" height="4.35" fill="#1f9e89"/>
<rect x="314.80" y="68.20" width="4.46" height="4.35" fill="#35b779"/>
<rect x="319.26" y="68.20" width="4.46" height="4.35" fill="#6ece58"/>
<rect x="323.72" y="68.20" width="4.46" height="4.35" fill="#b5de2b"/>
<rect x="328.18" y="68.20" width="4.46" height="4.35" fill="#35b779"/>
<rect x="332.64" y="68.20" width="4.46" height="4.35" fill="#35b779"/>
<rect x="221.12" y="72.55" width="4.46" height="4.35" fill="#31688e"/>
<rect x="230.05" y="72.55" width="4.46" height="4.35" fill="#26828e"/>
<rect x="238.97" y="72.55" width="4.46" height="4.35" fill="#31688e"/>
<rect x="243.43" y="72.55" width="4.46" height="4.35" fill="#3e4989"/>
<rect x="247.89" y="72.55" width="4.46" height="4.35" fill="#31688e"/>
<rect x="252.35" y="72.55" width="4.46" height="4.35" fill="#3e4989"/>
<rect x="256.81" y="72.55" width="4.46" height="4.35" fill="#31688e"/>
<rect x="261.27" y="72.55" width="4.46" height="4.35" fill="#31688e"/>
<rect x="265.73" y="72.55" width="4.46" height="4.35" fill="#3e4989"/>
<rect x="270.19" y="72.55" width="4.46" height="4.35" fill="#3e4989"/>
<rect x="274.65" y="72.55" width="4.46" height="4.35" fill="#31688e"/>
<rect x="279.11" y="72.55" width="4.46" height="4.35" fill="#31688e"/>
<rect x="283.57" y="72.55" width="4.46" height="4.35" fill="#26828e"/>
<rect x="288.03" y="72.55" width="4.46" height="4.35" fill="#26828e"/>
<rect x="292.49" y="72.55" width="4.46" height="4.35" fill="#1f9e89"/>
<rect x="296.95" y="72.55" width="4.46" height="4.35" fill="#1f9e89"/>
<rect x="301.42" y="72.55" width="4.46" height="4.35" fill="#1f9e89"/>
<rect x="305.88" y="72.55" width="4.46" height="4.35" fill="#35b779"/>
<rect x="310.34" y="72.55" width="4.46" height="4.35" fill="#35b779"/>
<rect x="314.80" y="72.55" width="4.46" height="4.35" fill="#35b779"/>
<rect x="319.26" y="72.55" width="4.46" height="4.35" fill="#35b779"/>
<rect x="328.18" y="72.55" width="4.46" height="4.35" fill="#fde725"/>
<rect x="332.64" y="72.55" width="4.46" height="4.35" fill="#35b779"/>
<rect x="221.12" y="76.91" width="4.46" height="4.35" fill="#26828e"/>
<rect x="230.05" y="76.91" width="4.46" height="4.35" fill="#440154"/>
<rect x="238.97" y="76.91" width="4.46" height="4.35" fill="#3e4989"/>
<rect x="243.43" y="76.91" width="4.46" height="4.35" fill="#31688e"/>
<rect x="247.89" y="76.91" width="4.46" height="4.35" fill="#31688e"/>
<rect x="252.35" y="76.91" width="4.46" height="4.35" fill="#31688e"/>
<rect x="256.81" y="76.91" width="4.46" height="4.35" fill="#3e4989"/>
<rect x="261.27" y="76.91" width="4.46" height="4.35" fill="#31688e"/>
<rect x="265.73" y="76.91" width="4.46" height="4.35" fill="#31688e"/>
<rect x="270.19" y="76.91" width="4.46" height="4.35" fill="#3e4989"/>
<rect x="274.65" y="76.91" width="4.46" height="4.35" fill="#31688e"/>
<rect x="279.11" y="76.91" width="4.46" height="4.35" fill="#26828e"/>
<rect x="283.57" y="76.91" width="4.46" height="4.35" fill="#26828e"/>
<rect x="288.03" y="76.91" width="4.46" height="4.35" fill="#1f9e89"/>
<rect x="292.49" y="76.91" width="4.46" height="4.35" fill="#1f9e89"/>
<rect x="296.95" y="76.91" width="4.46" height="4.35" fill="#35b779"/>
<rect x="301.42" y="76.91" width="4.46" height="4.35" fill="#35b779"/>
<rect x="305.88" y="76.91" width="4.46" height="4.35" fill="#6ece58"/>
<rect x="310.34" y="76.91" width="4.46" height="4.35" fill="#6ece58"/>
<rect x="314.80" y="76.91" width="4.46" height="4.35" fill="#35b779"/>
<rect x="216.66" y="81.26" width="4.46" height="4.35" fill="#26828e"/>
<rect x="221.12" y="81.26" width="4.46" height="4.35" fill="#31688e"/>
<rect x="225.58" y="81.26" width="4.46" height="4.35" fill="#3e4989"/>
<rect x="230.05" y="81.26" width="4.46" height="4.35" fill="#482878"/>
<rect x="234.51" y="81.26" width="4.46" height="4.35" fill="#3e4989"/>
<rect x="238.97" y="81.26" width="4.46" height="4.35" fill="#31688e"/>
<rect x="243.43" y="81.26" width="4.46" height="4.35" fill="#3e4989"/>
<rect x="247.89" y="81.26" width="4.46" height="4.35" fill="#31688e"/>
<rect x="252.35" y="81.26" width="4.46" height="4.35" fill="#3e4989"/>
<rect x="256.81" y="81.26" width="4.46" height="4.35" fill="#31688e"/>
<rect x="261.27" y="81.26" width="4.46" height="4.35" fill="#31688e"/>
<rect x="265.73" y="81.26" width="4.46" height="4.35" fill="#31688e"/>
<rect x="270.19" y="81.26" width="4.46" height="4.35" fill="#31688e"/>
<rect x="274.65" y="81.26" width="4.46" height="4.35" fill="#26828e"/>
<rect x="279.11" y="81.26" width="4.46" height="4.35" fill="#26828e"/>
<rect x="283.57" y="81.26" width="4.46" height="4.35" fill="#1f9e89"/>
<rect x="288.03" y="81.26" width="4.46" height="4.35" fill="#1f9e89"/>
<rect x="292.49" y="81.26" width="4.46" height="4.35" fill="#35b779"/>
<rect x="296.95" y="81.26" width="4.46" height="4.35" fill="#35b779"/>
<rect x="301.42" y="81.26" width="4.46" height="4.35" fill="#35b779"/>
<rect x="305.88" y="81.26" width="4.46" height="4.35" fill="#1f9e89"/>
<rect x="310.34" y="81.26" width="4.46" height="4.35" fill="#1f9e89"/>
<rect x="212.20" y="85.61" width="4.46" height="4.35" fill="#1f9e89"/>
<rect x="216.66" y="85.61" width="4.46" height="4.35" fill="#26828e"/>
<rect x="221.12" y="85.61" width="4.46" height="4.35" fill="#31688e"/>
<rect x="225.58" y="85.61" width="4.46" height="4.35" fill="#3e4989"/>
<rect x="230.05" y="85.61" width="4.46" height="4.35" fill="#3e4989"/>
<rect x="234.51" y="85.61" width="4.46" height="4.35" fill="#482878"/>
<rect x="238.97" y="85.61" width="4.46" height="4.35" fill="#3e4989"/>
<rect x="243.43" y="85.61" width="4.46" height="4.35" fill="#3e4989"/>
<rect x="247.89" y="85.61" width="4.46" height="4.35" fill="#31688e"/>
<rect x="252.35" y="85.61" width="4.46" height="4.35" fill="#31688e"/>
<rect x="256.81" y="85.61" width="4.46" height="4.35" fill="#3e4989"/>
<rect x="261.27" y="85.61" width="4.46" height="4.35" fill="#31688e"/>
<rect x="265.73" y="85.61" width="4.46" height="4.35" fill="#26828e"/>
<rect x="270.19" y="85.61" width="4.46" height="4.35" fill="#26828e"/>
<rect x="274.65" y="85.61" width="4.46" height="4.35" fill="#26828e"/>
<rect x="279.11" y="85.61" width="4.46" height="4.35" fill="#26828e"/>
<rect x="283.57" y="85.61" width="4.46" height="4.35" fill="#1f9e89"/>
<rect x="288.03" y="85.61" width="4.46" height="4.35" fill="#35b779"/>
<rect x="292.49" y="85.61" width="4.46" height="4.35" fill="#35b779"/>
<rect x="296.95" y="85.61" width="4.46" height="4.35" fill="#1f9e89"/>
<rect x="301.42" y="85.61" width="4.46" height="4.35" fill="#1f9e89"/>
<rect x="305.88" y="85.61" width="4.46" height="4.35" fill="#26828e"/>
<rect x="207.74" y="89.97" width="4.46" height="4.35" fill="#26828e"/>
<rect x="212.20" y="89.97" width="4.46" height="4.35" fill="#26828e"/>
<rect x="216.66" y="89.97" width="4.46" height="4.35" fill="#31688e"/>
<rect x="221.12" y="89.97" width="4.46" height="4.35" fill="#3e4989"/>
<rect x="225.58" y="89.97" width="4.46" height="4.35" fill="#3e4989"/>
<rect x="230.05" y="89.97" width="4.46" height="4.35" fill="#3e4989"/>
<rect x="234.51" y="89.97" width="4.46" height="4.35" fill="#3e4989"/>
<rect x="238.97" y="89.97" width="4.46" height="4.35" fill="#3e4989"/>
<rect x="243.43" y="89.97" width="4.46" height="4.35" fill="#31688e"/>
<rect x="247.89" y="89.97" width="4.46" height="4.35" fill="#31688e"/>
<rect x="252.35" y="89.97" width="4.46" height="4.35" fill="#31688e"/>
<rect x="256.81" y="89.97" width="4.46" height="4.35" fill="#31688e"/>
<rect x="261.27" y="89.97" width="4.46" height="4.35" fill="#31688e"/>
<rect x="265.73" y="89.97" width="4.46" height="4.35" fill="#26828e"/>
<rect x="270.19" y="89.97" width="4.46" height="4.35" fill="#26828e"/>
<rect x="274.65" y="89.97" width="4.46" height="4.35" fill="#26828e"/>
<rect x="279.11" y="89.97" width="4.46" height="4.35" fill="#1f9e89"/>
<rect x="283.57" y="89.97" width="4.46" height="4.35" fill="#1f9e89"/>
<rect x="288.03" y="89.97" width="4.46" height="4.35" fill="#35b779"/>
<rect x="207.74" y="94.32" width="4.46" height="4.35" fill="#31688e"/>
<rect x="212.20" y="94.32" width="4.46" height="4.35" fill="#31688e"/>
<rect x="216.66" y="94.32" width="4.46" height="4.35" fill="#3e4989"/>
<rect x="221.12" y="94.32" width="4.46" height="4.35" fill="#482878"/>
<rect x="225.58" y="94.32" width="4.46" height="4.35" fill="#482878"/>
<rect x="230.05" y="94.32" width="4.46" height="4.35" fill="#482878"/>
<rect x="234.51" y="94.32" width="4.46" height="4.35" fill="#31688e"/>
<rect x="238.97" y="94.32" width="4.46" height="4.35" fill="#31688e"/>
<rect x="243.43" y="94.32" width="4.46" height="4.35" fill="#31688e"/>
<rect x="247.89" y="94.32" width="4.46" height="4.35" fill="#26828e"/>
<rect x="252.35" y="94.32" width="4.46" height="4.35" fill="#31688e"/>
<rect x="256.81" y="94.32" width="4.46" height="4.35" fill="#26828e"/>
<rect x="261.27" y="94.32" width="4.46" height="4.35" fill="#26828e"/>
<rect x="265.73" y="94.32" width="4.46" height="4.35" fill="#26828e"/>
<rect x="270.19" y="94.32" width="4.46" height="4.35" fill="#26828e"/>
<rect x="274.65" y="94.32" width="4.46" height="4.35" fill="#26828e"/>
<rect x="279.11" y="94.32" width="4.46" height="4.35" fill="#1f9e89"/>
<rect x="207.74" y="98.67" width="4.46" height="4.35" fill="#26828e"/>
<rect x="212.20" y="98.67" width="4.46" height="4.35" fill="#3e4989"/>
<rect x="216.66" y="98.67" width="4.46" height="4.35" fill="#482878"/>
<rect x="221.12" y="98.67" width="4.46" height="4.35" fill="#482878"/>
<rect x="225.58" y="98.67" width="4.46" height="4.35" fill="#482878"/>
<rect x="230.05" y="98.67" width="4.46" height="4.35" fill="#482878"/>
<rect x="234.51" y="98.67" width="4.46" height="4.35" fill="#3e4989"/>
<rect x="238.97" y="98.67" width="4.46" height="4.35" fill="#3e4989"/>
<rect x="243.43" y="98.67" width="4.46" height="4.35" fill="#31688e"/>
<rect x="247.89" y="98.67" width="4.46" height="4.35" fill="#31688e"/>
<rect x="252.35" y="98.67" width="4.46" height="4.35" fill="#31688e"/>
<rect x="256.81" y="98.67" width="4.46" height="4.35" fill="#26828e"/>
<rect x="261.27" y="98.67" width="4.46" height="4.35" fill="#26828e"/>
<rect x="265.73" y="98.67" width="4.46" height="4.35" fill="#1f9e89"/>
<rect x="207.74" y="103.03" width="4.46" height="4.35" fill="#31688e"/>
<rect x="212.20" y="103.03" width="4.46" height="4.35" fill="#3e4989"/>
<rect x="216.66" y="103.03" width="4.46" height="4.35" fill="#482878"/>
<rect x="221.12" y="103.03" width="4.46" height="4.35" fill="#3e4989"/>
<rect x="225.58" y="103.03" width="4.46" height="4.35" fill="#3e4989"/>
<rect x="230.05" y="103.03" width="4.46" height="4.35" fill="#3e4989"/>
<rect x="234.51" y="103.03" width="4.46" height="4.35" fill="#3e4989"/>
<rect x="238.97" y="103.03" width="4.46" height="4.35" fill="#3e4989"/>
<rect x="243.43" y="103.03" width="4.46" height="4.35" fill="#3e4989"/>
<rect x="256.81" y="103.03" width="4.46" height="4.35" fill="#26828e"/>
<rect x="261.27" y="103.03" width="4.46" height="4.35" fill="#26828e"/>
<rect x="207.74" y="107.38" width="4.46" height="4.35" fill="#26828e"/>
<rect x="212.20" y="107.38" width="4.46" height="4.35" fill="#482878"/>
<rect x="216.66" y="107.38" width="4.46" height="4.35" fill="#3e4989"/>
<rect x="221.12" y="107.38" width="4.46" height="4.35" fill="#482878"/>
<rect x="225.58" y="107.38" width="4.46" height="4.35" fill="#482878"/>
<rect x="230.05" y="107.38" width="4.46" height="4.35" fill="#3e4989"/>
<rect x="234.51" y="107.38" width="4.46" height="4.35" fill="#3e4989"/>
<rect x="238.97" y="107.38" width="4.46" height="4.35" fill="#3e4989"/>
<rect x="243.43" y="107.38" width="4.46" height="4.35" fill="#482878"/>
<rect x="207.74" y="111.74" width="4.46" height="4.35" fill="#26828e"/>
</g>
<text x="194.10" y="25.25" font-size="10.6" fill="#262626" stroke="#262626" stroke-width="0.2">(b)</text>
<text x="212.20" y="25.25" font-size="10.3" fill="#8a3597" stroke="#8a3597" stroke-width="0.2">IMPACTS</text>
<path d="M211.0,104.4 L212.2,100.8 L217.0,97.2 L225.4,93.6 L233.8,91.8 L239.8,89.4 L244.6,86.4 L249.4,82.8 L251.8,78.0 L257.0,70.6 L260.6,63.5 L261.2,56.5 L268.9,56.5 L274.5,53.0 L279.9,47.3 L286.0,43.0 L292.3,39.9 L296.0,34.9 L301.0,47.3 L307.2,44.8 L319.6,43.6 L327.1,48.5 L332.0,54.7 L329.6,60.9 L334.5,65.9 L332.0,73.3 L327.1,72.1 L322.1,77.1 L312.2,82.0 L299.8,87.0 L284.9,92.0 L274.6,97.0 L262.3,101.4 L248.2,102.6 L241.0,103.8 L235.0,104.4 L227.8,105.0 L219.4,106.8 L212.2,106.8 L211.0,104.4" fill="none" stroke="#ffffff" stroke-width="1.30" stroke-linejoin="round"/>
<path d="M210.4,100.8 L214.6,96.0 L223.0,92.4 L232.6,91.2 L241.0,87.0 L250.6,84.6 L257.8,84.6 L261.4,87.6 L259.0,92.4 L253.0,97.2 L244.6,102.0 L235.0,106.2 L226.6,108.0 L217.0,108.0 L212.2,106.8 L210.4,103.2 L210.4,100.8" fill="none" stroke="#b8b8b8" stroke-width="1.10" stroke-linejoin="round"/>
<path d="M305.5,27.5 L309.0,28.0 L307.5,31.5 L305.5,27.5" fill="none" stroke="#ffffff" stroke-width="1.00" stroke-linejoin="round"/>
<path d="M216.66,103.03 L217.62,102.92 L218.81,102.84 L220.21,102.76 L221.78,102.66 L223.49,102.53 L225.32,102.33 L227.24,102.04 L229.20,101.64 L231.19,101.11 L233.17,100.42 L235.21,99.60 L237.39,98.68 L239.67,97.67 L242.02,96.56 L244.42,95.34 L246.83,94.02 L249.21,92.58 L251.54,91.02 L253.79,89.34 L255.92,87.53 L257.98,85.56 L260.03,83.43 L262.06,81.14 L264.06,78.73 L266.00,76.22 L267.87,73.63 L269.66,70.98 L271.35,68.31 L272.93,65.64 L274.38,62.98 L275.71,60.26 L276.93,57.43 L278.05,54.51 L279.07,51.55 L280.01,48.57 L280.86,45.61 L281.64,42.71 L282.35,39.90 L282.99,37.21 L283.57,34.68 L284.07,32.26 L284.46,29.91 L284.76,27.62 L284.98,25.41 L285.14,23.28 L285.25,21.24 L285.33,19.31 L285.40,17.49 L285.46,15.79 L285.54,14.22 L285.60,12.77 L285.63,11.45 L285.63,10.24 L285.61,9.14 L285.57,8.15 L285.52,7.26 L285.46,6.46 L285.42,5.77 L285.38,5.16 L285.36,4.64" fill="none" stroke="#000" stroke-width="0.85"/>
<path d="M216.66,103.03 L218.06,102.96 L219.80,102.92 L221.84,102.90 L224.14,102.87 L226.66,102.80 L229.33,102.67 L232.12,102.46 L234.99,102.15 L237.88,101.71 L240.75,101.11 L243.74,100.37 L246.98,99.50 L250.40,98.52 L253.92,97.44 L257.49,96.27 L261.03,95.02 L264.48,93.70 L267.77,92.33 L270.82,90.90 L273.58,89.45 L276.08,87.93 L278.43,86.32 L280.62,84.64 L282.67,82.89 L284.59,81.09 L286.38,79.25 L288.06,77.38 L289.63,75.48 L291.11,73.58 L292.49,71.68 L293.77,69.78 L294.90,67.85 L295.91,65.90 L296.81,63.92 L297.61,61.93 L298.32,59.90 L298.95,57.86 L299.52,55.79 L300.04,53.69 L300.52,51.57 L300.95,49.38 L301.28,47.09 L301.54,44.74 L301.72,42.35 L301.85,39.96 L301.92,37.60 L301.95,35.29 L301.95,33.07 L301.91,30.97 L301.86,29.02 L301.77,27.20 L301.61,25.48 L301.39,23.84 L301.13,22.29 L300.85,20.81 L300.54,19.39 L300.23,18.03 L299.92,16.72 L299.63,15.45 L299.36,14.22 L299.11,13.00 L298.84,11.81 L298.56,10.66 L298.28,9.55 L298.00,8.50 L297.74,7.53 L297.50,6.64 L297.28,5.86 L297.10,5.18 L296.95,4.64" fill="none" stroke="#000" stroke-width="0.85"/>
<path d="M213.99,104.07 L215.48,103.93 L217.26,103.79 L219.33,103.65 L221.66,103.48 L224.26,103.27 L227.11,102.99 L230.21,102.63 L233.56,102.17 L237.13,101.58 L240.93,100.85 L245.18,99.98 L250.03,98.97 L255.31,97.85 L260.89,96.62 L266.62,95.31 L272.33,93.93 L277.89,92.49 L283.15,91.00 L287.94,89.49 L292.14,87.97 L295.82,86.40 L299.20,84.75 L302.30,83.05 L305.13,81.29 L307.73,79.49 L310.10,77.67 L312.26,75.82 L314.25,73.97 L316.07,72.12 L317.74,70.29 L319.22,68.47 L320.44,66.66 L321.43,64.84 L322.23,63.01 L322.85,61.17 L323.33,59.31 L323.69,57.42 L323.96,55.51 L324.17,53.56 L324.34,51.57 L324.42,49.50 L324.35,47.33 L324.14,45.10 L323.83,42.83 L323.43,40.55 L322.98,38.29 L322.49,36.08 L321.99,33.96 L321.50,31.94 L321.04,30.06 L320.59,28.32 L320.10,26.66 L319.57,25.10 L319.02,23.61 L318.46,22.18 L317.89,20.80 L317.33,19.47 L316.79,18.16 L316.27,16.88 L315.78,15.61 L315.30,14.32 L314.82,13.02 L314.33,11.72 L313.86,10.44 L313.40,9.22 L312.96,8.07 L312.57,7.01 L312.21,6.07 L311.91,5.27 L311.67,4.64" fill="none" stroke="#000" stroke-width="0.85"/>
<circle cx="216.66" cy="103.03" r="2.2" fill="#fff" stroke="#000" stroke-width="0.6"/>
<circle cx="233.17" cy="100.42" r="2.2" fill="#fff" stroke="#000" stroke-width="0.6"/>
<circle cx="255.92" cy="87.53" r="2.2" fill="#fff" stroke="#000" stroke-width="0.6"/>
<circle cx="274.38" cy="62.98" r="2.2" fill="#fff" stroke="#000" stroke-width="0.6"/>
<circle cx="283.57" cy="34.68" r="2.2" fill="#fff" stroke="#000" stroke-width="0.6"/>
<circle cx="285.54" cy="14.22" r="2.2" fill="#fff" stroke="#000" stroke-width="0.6"/>
<rect x="214.86" y="101.23" width="3.6" height="3.6" fill="#fff" stroke="#000" stroke-width="0.6"/>
<rect x="238.95" y="99.31" width="3.6" height="3.6" fill="#fff" stroke="#000" stroke-width="0.6"/>
<rect x="271.78" y="87.65" width="3.6" height="3.6" fill="#fff" stroke="#000" stroke-width="0.6"/>
<rect x="290.69" y="69.88" width="3.6" height="3.6" fill="#fff" stroke="#000" stroke-width="0.6"/>
<rect x="298.72" y="49.77" width="3.6" height="3.6" fill="#fff" stroke="#000" stroke-width="0.6"/>
<rect x="300.06" y="27.22" width="3.6" height="3.6" fill="#fff" stroke="#000" stroke-width="0.6"/>
<rect x="297.56" y="12.42" width="3.6" height="3.6" fill="#fff" stroke="#000" stroke-width="0.6"/>
<polygon points="213.99,100.37 214.93,102.78 217.51,102.93 215.51,104.57 216.16,107.07 213.99,105.67 211.81,107.07 212.47,104.57 210.47,102.93 213.05,102.78" fill="none" stroke="#000" stroke-width="0.85"/>
<polygon points="240.93,97.15 241.87,99.56 244.45,99.71 242.45,101.35 243.10,103.85 240.93,102.45 238.75,103.85 239.41,101.35 237.41,99.71 239.99,99.56" fill="none" stroke="#000" stroke-width="0.85"/>
<polygon points="292.14,84.27 293.08,86.67 295.66,86.82 293.66,88.46 294.31,90.96 292.14,89.57 289.96,90.96 290.62,88.46 288.62,86.82 291.20,86.67" fill="none" stroke="#000" stroke-width="0.85"/>
<polygon points="317.74,66.59 318.68,69.00 321.26,69.15 319.26,70.78 319.92,73.28 317.74,71.89 315.57,73.28 316.22,70.78 314.22,69.15 316.80,69.00" fill="none" stroke="#000" stroke-width="0.85"/>
<polygon points="324.34,47.87 325.28,50.27 327.86,50.43 325.86,52.06 326.52,54.56 324.34,53.17 322.17,54.56 322.82,52.06 320.82,50.43 323.40,50.27" fill="none" stroke="#000" stroke-width="0.85"/>
<polygon points="321.04,26.36 321.98,28.77 324.56,28.92 322.56,30.56 323.22,33.06 321.04,31.66 318.87,33.06 319.52,30.56 317.52,28.92 320.10,28.77" fill="none" stroke="#000" stroke-width="0.85"/>
<polygon points="315.78,11.91 316.72,14.31 319.30,14.47 317.30,16.10 317.95,18.60 315.78,17.21 313.60,18.60 314.26,16.10 312.26,14.47 314.84,14.31" fill="none" stroke="#000" stroke-width="0.85"/>
<path d="M216.66,103.03 L218.95,103.02 L221.24,102.97 L223.53,102.88 L225.81,102.73 L228.10,102.54 L230.39,102.28 L232.68,101.96 L234.96,101.57 L237.25,101.12 L239.54,100.60 L241.83,100.00 L244.11,99.33 L246.40,98.59 L248.69,97.76 L250.98,96.85 L253.26,95.87 L255.55,94.79 L257.84,93.64 L260.13,92.39 L262.41,91.06 L264.70,89.64 L266.99,88.13 L269.28,86.53 L271.56,84.83 L273.85,83.04 L276.14,81.15 L278.43,79.17 L280.71,77.08 L283.00,74.90 L285.29,72.62 L287.58,70.24 L289.86,67.76 L292.15,65.17 L294.44,62.48 L296.73,59.68 L299.01,56.78 L301.30,53.77 L303.59,50.66 L305.88,47.43" fill="none" stroke="#7e2f8e" stroke-width="1.45"/>
<rect x="229.90" y="110.55" width="107.20" height="18.60" fill="#ffffff" fill-opacity="0.55"/>
<text x="282.60" y="121.60" font-size="6.75" text-anchor="middle" fill="#262626" stroke="#262626" stroke-width="0.2"><tspan font-style="italic">DWR</tspan><tspan dy="2.5">X/C,Ka</tspan><tspan dy="-2.5"> = 0.032</tspan><tspan font-style="italic">DWR</tspan><tspan dx="1.3" dy="-2.9">2.3</tspan><tspan dx="-9.4" dy="5.8">Ka,W</tspan></text>
<rect x="189.90" y="7.25" width="147.20" height="121.90" fill="none" stroke="#262626" stroke-width="0.9"/>
<line x1="198.82" y1="129.15" x2="198.82" y2="131.35" stroke="#262626" stroke-width="1.0"/>
<line x1="198.82" y1="7.25" x2="198.82" y2="5.05" stroke="#262626" stroke-width="1.0"/>
<line x1="216.66" y1="129.15" x2="216.66" y2="131.35" stroke="#262626" stroke-width="1.0"/>
<line x1="216.66" y1="7.25" x2="216.66" y2="5.05" stroke="#262626" stroke-width="1.0"/>
<line x1="234.51" y1="129.15" x2="234.51" y2="131.35" stroke="#262626" stroke-width="1.0"/>
<line x1="234.51" y1="7.25" x2="234.51" y2="5.05" stroke="#262626" stroke-width="1.0"/>
<line x1="252.35" y1="129.15" x2="252.35" y2="131.35" stroke="#262626" stroke-width="1.0"/>
<line x1="252.35" y1="7.25" x2="252.35" y2="5.05" stroke="#262626" stroke-width="1.0"/>
<line x1="270.19" y1="129.15" x2="270.19" y2="131.35" stroke="#262626" stroke-width="1.0"/>
<line x1="270.19" y1="7.25" x2="270.19" y2="5.05" stroke="#262626" stroke-width="1.0"/>
<line x1="288.03" y1="129.15" x2="288.03" y2="131.35" stroke="#262626" stroke-width="1.0"/>
<line x1="288.03" y1="7.25" x2="288.03" y2="5.05" stroke="#262626" stroke-width="1.0"/>
<line x1="305.88" y1="129.15" x2="305.88" y2="131.35" stroke="#262626" stroke-width="1.0"/>
<line x1="305.88" y1="7.25" x2="305.88" y2="5.05" stroke="#262626" stroke-width="1.0"/>
<line x1="323.72" y1="129.15" x2="323.72" y2="131.35" stroke="#262626" stroke-width="1.0"/>
<line x1="323.72" y1="7.25" x2="323.72" y2="5.05" stroke="#262626" stroke-width="1.0"/>
<line x1="189.90" y1="120.44" x2="187.70" y2="120.44" stroke="#262626" stroke-width="1.0"/>
<line x1="337.10" y1="120.44" x2="339.30" y2="120.44" stroke="#262626" stroke-width="1.0"/>
<line x1="189.90" y1="103.03" x2="187.70" y2="103.03" stroke="#262626" stroke-width="1.0"/>
<line x1="337.10" y1="103.03" x2="339.30" y2="103.03" stroke="#262626" stroke-width="1.0"/>
<line x1="189.90" y1="85.61" x2="187.70" y2="85.61" stroke="#262626" stroke-width="1.0"/>
<line x1="337.10" y1="85.61" x2="339.30" y2="85.61" stroke="#262626" stroke-width="1.0"/>
<line x1="189.90" y1="68.20" x2="187.70" y2="68.20" stroke="#262626" stroke-width="1.0"/>
<line x1="337.10" y1="68.20" x2="339.30" y2="68.20" stroke="#262626" stroke-width="1.0"/>
<line x1="189.90" y1="50.79" x2="187.70" y2="50.79" stroke="#262626" stroke-width="1.0"/>
<line x1="337.10" y1="50.79" x2="339.30" y2="50.79" stroke="#262626" stroke-width="1.0"/>
<line x1="189.90" y1="33.37" x2="187.70" y2="33.37" stroke="#262626" stroke-width="1.0"/>
<line x1="337.10" y1="33.37" x2="339.30" y2="33.37" stroke="#262626" stroke-width="1.0"/>
<line x1="189.90" y1="15.96" x2="187.70" y2="15.96" stroke="#262626" stroke-width="1.0"/>
<line x1="337.10" y1="15.96" x2="339.30" y2="15.96" stroke="#262626" stroke-width="1.0"/>
<rect x="345.60" y="7.25" width="147.20" height="121.90" fill="#e1e1e1"/>
<g shape-rendering="crispEdges">
<rect x="408.05" y="15.96" width="4.46" height="4.35" fill="#26828e"/>
<rect x="412.51" y="15.96" width="4.46" height="4.35" fill="#26828e"/>
<rect x="439.27" y="15.96" width="4.46" height="4.35" fill="#26828e"/>
<rect x="412.51" y="20.31" width="4.46" height="4.35" fill="#26828e"/>
<rect x="416.97" y="20.31" width="4.46" height="4.35" fill="#26828e"/>
<rect x="421.43" y="20.31" width="4.46" height="4.35" fill="#26828e"/>
<rect x="439.27" y="20.31" width="4.46" height="4.35" fill="#26828e"/>
<rect x="408.05" y="24.66" width="4.46" height="4.35" fill="#26828e"/>
<rect x="412.51" y="24.66" width="4.46" height="4.35" fill="#26828e"/>
<rect x="416.97" y="24.66" width="4.46" height="4.35" fill="#26828e"/>
<rect x="421.43" y="24.66" width="4.46" height="4.35" fill="#26828e"/>
<rect x="425.89" y="24.66" width="4.46" height="4.35" fill="#26828e"/>
<rect x="430.35" y="24.66" width="4.46" height="4.35" fill="#26828e"/>
<rect x="434.81" y="24.66" width="4.46" height="4.35" fill="#31688e"/>
<rect x="439.27" y="24.66" width="4.46" height="4.35" fill="#26828e"/>
<rect x="443.73" y="24.66" width="4.46" height="4.35" fill="#26828e"/>
<rect x="403.59" y="29.02" width="4.46" height="4.35" fill="#26828e"/>
<rect x="408.05" y="29.02" width="4.46" height="4.35" fill="#26828e"/>
<rect x="412.51" y="29.02" width="4.46" height="4.35" fill="#26828e"/>
<rect x="416.97" y="29.02" width="4.46" height="4.35" fill="#26828e"/>
<rect x="421.43" y="29.02" width="4.46" height="4.35" fill="#1f9e89"/>
<rect x="425.89" y="29.02" width="4.46" height="4.35" fill="#31688e"/>
<rect x="430.35" y="29.02" width="4.46" height="4.35" fill="#26828e"/>
<rect x="434.81" y="29.02" width="4.46" height="4.35" fill="#31688e"/>
<rect x="439.27" y="29.02" width="4.46" height="4.35" fill="#26828e"/>
<rect x="443.73" y="29.02" width="4.46" height="4.35" fill="#26828e"/>
<rect x="403.59" y="33.37" width="4.46" height="4.35" fill="#26828e"/>
<rect x="408.05" y="33.37" width="4.46" height="4.35" fill="#26828e"/>
<rect x="412.51" y="33.37" width="4.46" height="4.35" fill="#26828e"/>
<rect x="416.97" y="33.37" width="4.46" height="4.35" fill="#26828e"/>
<rect x="421.43" y="33.37" width="4.46" height="4.35" fill="#1f9e89"/>
<rect x="425.89" y="33.37" width="4.46" height="4.35" fill="#26828e"/>
<rect x="430.35" y="33.37" width="4.46" height="4.35" fill="#31688e"/>
<rect x="434.81" y="33.37" width="4.46" height="4.35" fill="#31688e"/>
<rect x="439.27" y="33.37" width="4.46" height="4.35" fill="#26828e"/>
<rect x="443.73" y="33.37" width="4.46" height="4.35" fill="#26828e"/>
<rect x="448.19" y="33.37" width="4.46" height="4.35" fill="#26828e"/>
<rect x="399.13" y="37.73" width="4.46" height="4.35" fill="#26828e"/>
<rect x="403.59" y="37.73" width="4.46" height="4.35" fill="#26828e"/>
<rect x="408.05" y="37.73" width="4.46" height="4.35" fill="#26828e"/>
<rect x="412.51" y="37.73" width="4.46" height="4.35" fill="#1f9e89"/>
<rect x="416.97" y="37.73" width="4.46" height="4.35" fill="#26828e"/>
<rect x="421.43" y="37.73" width="4.46" height="4.35" fill="#26828e"/>
<rect x="425.89" y="37.73" width="4.46" height="4.35" fill="#26828e"/>
<rect x="430.35" y="37.73" width="4.46" height="4.35" fill="#31688e"/>
<rect x="434.81" y="37.73" width="4.46" height="4.35" fill="#31688e"/>
<rect x="439.27" y="37.73" width="4.46" height="4.35" fill="#26828e"/>
<rect x="443.73" y="37.73" width="4.46" height="4.35" fill="#26828e"/>
<rect x="448.19" y="37.73" width="4.46" height="4.35" fill="#26828e"/>
<rect x="394.67" y="42.08" width="4.46" height="4.35" fill="#26828e"/>
<rect x="399.13" y="42.08" width="4.46" height="4.35" fill="#26828e"/>
<rect x="403.59" y="42.08" width="4.46" height="4.35" fill="#26828e"/>
<rect x="408.05" y="42.08" width="4.46" height="4.35" fill="#26828e"/>
<rect x="412.51" y="42.08" width="4.46" height="4.35" fill="#1f9e89"/>
<rect x="416.97" y="42.08" width="4.46" height="4.35" fill="#26828e"/>
<rect x="421.43" y="42.08" width="4.46" height="4.35" fill="#26828e"/>
<rect x="425.89" y="42.08" width="4.46" height="4.35" fill="#26828e"/>
<rect x="430.35" y="42.08" width="4.46" height="4.35" fill="#31688e"/>
<rect x="434.81" y="42.08" width="4.46" height="4.35" fill="#31688e"/>
<rect x="439.27" y="42.08" width="4.46" height="4.35" fill="#26828e"/>
<rect x="443.73" y="42.08" width="4.46" height="4.35" fill="#26828e"/>
<rect x="448.19" y="42.08" width="4.46" height="4.35" fill="#26828e"/>
<rect x="399.13" y="46.43" width="4.46" height="4.35" fill="#35b779"/>
<rect x="403.59" y="46.43" width="4.46" height="4.35" fill="#26828e"/>
<rect x="408.05" y="46.43" width="4.46" height="4.35" fill="#26828e"/>
<rect x="412.51" y="46.43" width="4.46" height="4.35" fill="#26828e"/>
<rect x="416.97" y="46.43" width="4.46" height="4.35" fill="#26828e"/>
<rect x="421.43" y="46.43" width="4.46" height="4.35" fill="#26828e"/>
<rect x="425.89" y="46.43" width="4.46" height="4.35" fill="#31688e"/>
<rect x="430.35" y="46.43" width="4.46" height="4.35" fill="#31688e"/>
<rect x="434.81" y="46.43" width="4.46" height="4.35" fill="#31688e"/>
<rect x="439.27" y="46.43" width="4.46" height="4.35" fill="#26828e"/>
<rect x="443.73" y="46.43" width="4.46" height="4.35" fill="#26828e"/>
<rect x="448.19" y="46.43" width="4.46" height="4.35" fill="#26828e"/>
<rect x="399.13" y="50.79" width="4.46" height="4.35" fill="#26828e"/>
<rect x="403.59" y="50.79" width="4.46" height="4.35" fill="#26828e"/>
<rect x="408.05" y="50.79" width="4.46" height="4.35" fill="#26828e"/>
<rect x="412.51" y="50.79" width="4.46" height="4.35" fill="#31688e"/>
<rect x="416.97" y="50.79" width="4.46" height="4.35" fill="#31688e"/>
<rect x="421.43" y="50.79" width="4.46" height="4.35" fill="#31688e"/>
<rect x="425.89" y="50.79" width="4.46" height="4.35" fill="#31688e"/>
<rect x="430.35" y="50.79" width="4.46" height="4.35" fill="#31688e"/>
<rect x="434.81" y="50.79" width="4.46" height="4.35" fill="#31688e"/>
<rect x="439.27" y="50.79" width="4.46" height="4.35" fill="#26828e"/>
<rect x="443.73" y="50.79" width="4.46" height="4.35" fill="#26828e"/>
<rect x="448.19" y="50.79" width="4.46" height="4.35" fill="#26828e"/>
<rect x="394.67" y="55.14" width="4.46" height="4.35" fill="#31688e"/>
<rect x="399.13" y="55.14" width="4.46" height="4.35" fill="#31688e"/>
<rect x="403.59" y="55.14" width="4.46" height="4.35" fill="#31688e"/>
<rect x="408.05" y="55.14" width="4.46" height="4.35" fill="#31688e"/>
<rect x="412.51" y="55.14" width="4.46" height="4.35" fill="#31688e"/>
<rect x="416.97" y="55.14" width="4.46" height="4.35" fill="#31688e"/>
<rect x="421.43" y="55.14" width="4.46" height="4.35" fill="#31688e"/>
<rect x="425.89" y="55.14" width="4.46" height="4.35" fill="#31688e"/>
<rect x="430.35" y="55.14" width="4.46" height="4.35" fill="#31688e"/>
<rect x="434.81" y="55.14" width="4.46" height="4.35" fill="#31688e"/>
<rect x="439.27" y="55.14" width="4.46" height="4.35" fill="#26828e"/>
<rect x="443.73" y="55.14" width="4.46" height="4.35" fill="#26828e"/>
<rect x="448.19" y="55.14" width="4.46" height="4.35" fill="#26828e"/>
<rect x="452.65" y="55.14" width="4.46" height="4.35" fill="#35b779"/>
<rect x="372.36" y="59.49" width="4.46" height="4.35" fill="#482878"/>
<rect x="394.67" y="59.49" width="4.46" height="4.35" fill="#31688e"/>
<rect x="399.13" y="59.49" width="4.46" height="4.35" fill="#31688e"/>
<rect x="403.59" y="59.49" width="4.46" height="4.35" fill="#26828e"/>
<rect x="408.05" y="59.49" width="4.46" height="4.35" fill="#31688e"/>
<rect x="412.51" y="59.49" width="4.46" height="4.35" fill="#31688e"/>
<rect x="416.97" y="59.49" width="4.46" height="4.35" fill="#31688e"/>
<rect x="421.43" y="59.49" width="4.46" height="4.35" fill="#31688e"/>
<rect x="425.89" y="59.49" width="4.46" height="4.35" fill="#31688e"/>
<rect x="430.35" y="59.49" width="4.46" height="4.35" fill="#31688e"/>
<rect x="434.81" y="59.49" width="4.46" height="4.35" fill="#31688e"/>
<rect x="439.27" y="59.49" width="4.46" height="4.35" fill="#31688e"/>
<rect x="443.73" y="59.49" width="4.46" height="4.35" fill="#31688e"/>
<rect x="448.19" y="59.49" width="4.46" height="4.35" fill="#26828e"/>
<rect x="452.65" y="59.49" width="4.46" height="4.35" fill="#26828e"/>
<rect x="390.21" y="63.85" width="4.46" height="4.35" fill="#31688e"/>
<rect x="394.67" y="63.85" width="4.46" height="4.35" fill="#31688e"/>
<rect x="399.13" y="63.85" width="4.46" height="4.35" fill="#31688e"/>
<rect x="403.59" y="63.85" width="4.46" height="4.35" fill="#31688e"/>
<rect x="408.05" y="63.85" width="4.46" height="4.35" fill="#26828e"/>
<rect x="412.51" y="63.85" width="4.46" height="4.35" fill="#31688e"/>
<rect x="416.97" y="63.85" width="4.46" height="4.35" fill="#31688e"/>
<rect x="421.43" y="63.85" width="4.46" height="4.35" fill="#31688e"/>
<rect x="425.89" y="63.85" width="4.46" height="4.35" fill="#31688e"/>
<rect x="430.35" y="63.85" width="4.46" height="4.35" fill="#3e4989"/>
<rect x="434.81" y="63.85" width="4.46" height="4.35" fill="#3e4989"/>
<rect x="439.27" y="63.85" width="4.46" height="4.35" fill="#3e4989"/>
<rect x="443.73" y="63.85" width="4.46" height="4.35" fill="#31688e"/>
<rect x="448.19" y="63.85" width="4.46" height="4.35" fill="#26828e"/>
<rect x="452.65" y="63.85" width="4.46" height="4.35" fill="#26828e"/>
<rect x="470.50" y="63.85" width="4.46" height="4.35" fill="#26828e"/>
<rect x="390.21" y="68.20" width="4.46" height="4.35" fill="#31688e"/>
<rect x="394.67" y="68.20" width="4.46" height="4.35" fill="#31688e"/>
<rect x="399.13" y="68.20" width="4.46" height="4.35" fill="#26828e"/>
<rect x="403.59" y="68.20" width="4.46" height="4.35" fill="#26828e"/>
<rect x="408.05" y="68.20" width="4.46" height="4.35" fill="#26828e"/>
<rect x="412.51" y="68.20" width="4.46" height="4.35" fill="#26828e"/>
<rect x="416.97" y="68.20" width="4.46" height="4.35" fill="#31688e"/>
<rect x="421.43" y="68.20" width="4.46" height="4.35" fill="#31688e"/>
<rect x="425.89" y="68.20" width="4.46" height="4.35" fill="#26828e"/>
<rect x="430.35" y="68.20" width="4.46" height="4.35" fill="#26828e"/>
<rect x="434.81" y="68.20" width="4.46" height="4.35" fill="#26828e"/>
<rect x="439.27" y="68.20" width="4.46" height="4.35" fill="#26828e"/>
<rect x="443.73" y="68.20" width="4.46" height="4.35" fill="#26828e"/>
<rect x="448.19" y="68.20" width="4.46" height="4.35" fill="#26828e"/>
<rect x="452.65" y="68.20" width="4.46" height="4.35" fill="#26828e"/>
<rect x="461.58" y="68.20" width="4.46" height="4.35" fill="#26828e"/>
<rect x="466.04" y="68.20" width="4.46" height="4.35" fill="#26828e"/>
<rect x="470.50" y="68.20" width="4.46" height="4.35" fill="#26828e"/>
<rect x="474.96" y="68.20" width="4.46" height="4.35" fill="#26828e"/>
<rect x="385.75" y="72.55" width="4.46" height="4.35" fill="#31688e"/>
<rect x="390.21" y="72.55" width="4.46" height="4.35" fill="#31688e"/>
<rect x="394.67" y="72.55" width="4.46" height="4.35" fill="#31688e"/>
<rect x="399.13" y="72.55" width="4.46" height="4.35" fill="#26828e"/>
<rect x="403.59" y="72.55" width="4.46" height="4.35" fill="#26828e"/>
<rect x="408.05" y="72.55" width="4.46" height="4.35" fill="#26828e"/>
<rect x="412.51" y="72.55" width="4.46" height="4.35" fill="#26828e"/>
<rect x="416.97" y="72.55" width="4.46" height="4.35" fill="#31688e"/>
<rect x="421.43" y="72.55" width="4.46" height="4.35" fill="#31688e"/>
<rect x="425.89" y="72.55" width="4.46" height="4.35" fill="#26828e"/>
<rect x="430.35" y="72.55" width="4.46" height="4.35" fill="#26828e"/>
<rect x="434.81" y="72.55" width="4.46" height="4.35" fill="#26828e"/>
<rect x="439.27" y="72.55" width="4.46" height="4.35" fill="#26828e"/>
<rect x="443.73" y="72.55" width="4.46" height="4.35" fill="#26828e"/>
<rect x="448.19" y="72.55" width="4.46" height="4.35" fill="#26828e"/>
<rect x="452.65" y="72.55" width="4.46" height="4.35" fill="#26828e"/>
<rect x="457.12" y="72.55" width="4.46" height="4.35" fill="#26828e"/>
<rect x="461.58" y="72.55" width="4.46" height="4.35" fill="#26828e"/>
<rect x="466.04" y="72.55" width="4.46" height="4.35" fill="#31688e"/>
<rect x="470.50" y="72.55" width="4.46" height="4.35" fill="#31688e"/>
<rect x="372.36" y="76.91" width="4.46" height="4.35" fill="#3e4989"/>
<rect x="376.82" y="76.91" width="4.46" height="4.35" fill="#3e4989"/>
<rect x="381.28" y="76.91" width="4.46" height="4.35" fill="#31688e"/>
<rect x="385.75" y="76.91" width="4.46" height="4.35" fill="#31688e"/>
<rect x="390.21" y="76.91" width="4.46" height="4.35" fill="#26828e"/>
<rect x="394.67" y="76.91" width="4.46" height="4.35" fill="#26828e"/>
<rect x="399.13" y="76.91" width="4.46" height="4.35" fill="#26828e"/>
<rect x="403.59" y="76.91" width="4.46" height="4.35" fill="#26828e"/>
<rect x="408.05" y="76.91" width="4.46" height="4.35" fill="#31688e"/>
<rect x="412.51" y="76.91" width="4.46" height="4.35" fill="#31688e"/>
<rect x="416.97" y="76.91" width="4.46" height="4.35" fill="#31688e"/>
<rect x="421.43" y="76.91" width="4.46" height="4.35" fill="#31688e"/>
<rect x="425.89" y="76.91" width="4.46" height="4.35" fill="#31688e"/>
<rect x="430.35" y="76.91" width="4.46" height="4.35" fill="#26828e"/>
<rect x="434.81" y="76.91" width="4.46" height="4.35" fill="#26828e"/>
<rect x="439.27" y="76.91" width="4.46" height="4.35" fill="#26828e"/>
<rect x="443.73" y="76.91" width="4.46" height="4.35" fill="#26828e"/>
<rect x="448.19" y="76.91" width="4.46" height="4.35" fill="#26828e"/>
<rect x="452.65" y="76.91" width="4.46" height="4.35" fill="#26828e"/>
<rect x="457.12" y="76.91" width="4.46" height="4.35" fill="#26828e"/>
<rect x="461.58" y="76.91" width="4.46" height="4.35" fill="#26828e"/>
<rect x="466.04" y="76.91" width="4.46" height="4.35" fill="#26828e"/>
<rect x="470.50" y="76.91" width="4.46" height="4.35" fill="#31688e"/>
<rect x="372.36" y="81.26" width="4.46" height="4.35" fill="#3e4989"/>
<rect x="376.82" y="81.26" width="4.46" height="4.35" fill="#31688e"/>
<rect x="381.28" y="81.26" width="4.46" height="4.35" fill="#31688e"/>
<rect x="385.75" y="81.26" width="4.46" height="4.35" fill="#31688e"/>
<rect x="390.21" y="81.26" width="4.46" height="4.35" fill="#26828e"/>
<rect x="394.67" y="81.26" width="4.46" height="4.35" fill="#26828e"/>
<rect x="399.13" y="81.26" width="4.46" height="4.35" fill="#26828e"/>
<rect x="403.59" y="81.26" width="4.46" height="4.35" fill="#26828e"/>
<rect x="408.05" y="81.26" width="4.46" height="4.35" fill="#31688e"/>
<rect x="412.51" y="81.26" width="4.46" height="4.35" fill="#31688e"/>
<rect x="416.97" y="81.26" width="4.46" height="4.35" fill="#31688e"/>
<rect x="421.43" y="81.26" width="4.46" height="4.35" fill="#31688e"/>
<rect x="425.89" y="81.26" width="4.46" height="4.35" fill="#31688e"/>
<rect x="430.35" y="81.26" width="4.46" height="4.35" fill="#26828e"/>
<rect x="434.81" y="81.26" width="4.46" height="4.35" fill="#26828e"/>
<rect x="439.27" y="81.26" width="4.46" height="4.35" fill="#26828e"/>
<rect x="443.73" y="81.26" width="4.46" height="4.35" fill="#26828e"/>
<rect x="448.19" y="81.26" width="4.46" height="4.35" fill="#26828e"/>
<rect x="452.65" y="81.26" width="4.46" height="4.35" fill="#26828e"/>
<rect x="457.12" y="81.26" width="4.46" height="4.35" fill="#26828e"/>
<rect x="367.90" y="85.61" width="4.46" height="4.35" fill="#3e4989"/>
<rect x="372.36" y="85.61" width="4.46" height="4.35" fill="#3e4989"/>
<rect x="376.82" y="85.61" width="4.46" height="4.35" fill="#31688e"/>
<rect x="381.28" y="85.61" width="4.46" height="4.35" fill="#31688e"/>
<rect x="385.75" y="85.61" width="4.46" height="4.35" fill="#31688e"/>
<rect x="390.21" y="85.61" width="4.46" height="4.35" fill="#26828e"/>
<rect x="394.67" y="85.61" width="4.46" height="4.35" fill="#26828e"/>
<rect x="399.13" y="85.61" width="4.46" height="4.35" fill="#26828e"/>
<rect x="403.59" y="85.61" width="4.46" height="4.35" fill="#31688e"/>
<rect x="408.05" y="85.61" width="4.46" height="4.35" fill="#31688e"/>
<rect x="412.51" y="85.61" width="4.46" height="4.35" fill="#31688e"/>
<rect x="416.97" y="85.61" width="4.46" height="4.35" fill="#31688e"/>
<rect x="421.43" y="85.61" width="4.46" height="4.35" fill="#31688e"/>
<rect x="425.89" y="85.61" width="4.46" height="4.35" fill="#26828e"/>
<rect x="430.35" y="85.61" width="4.46" height="4.35" fill="#26828e"/>
<rect x="434.81" y="85.61" width="4.46" height="4.35" fill="#26828e"/>
<rect x="439.27" y="85.61" width="4.46" height="4.35" fill="#26828e"/>
<rect x="443.73" y="85.61" width="4.46" height="4.35" fill="#26828e"/>
<rect x="448.19" y="85.61" width="4.46" height="4.35" fill="#26828e"/>
<rect x="363.44" y="89.97" width="4.46" height="4.35" fill="#482878"/>
<rect x="367.90" y="89.97" width="4.46" height="4.35" fill="#3e4989"/>
<rect x="372.36" y="89.97" width="4.46" height="4.35" fill="#3e4989"/>
<rect x="376.82" y="89.97" width="4.46" height="4.35" fill="#3e4989"/>
<rect x="381.28" y="89.97" width="4.46" height="4.35" fill="#31688e"/>
<rect x="385.75" y="89.97" width="4.46" height="4.35" fill="#31688e"/>
<rect x="390.21" y="89.97" width="4.46" height="4.35" fill="#31688e"/>
<rect x="394.67" y="89.97" width="4.46" height="4.35" fill="#26828e"/>
<rect x="399.13" y="89.97" width="4.46" height="4.35" fill="#26828e"/>
<rect x="403.59" y="89.97" width="4.46" height="4.35" fill="#31688e"/>
<rect x="408.05" y="89.97" width="4.46" height="4.35" fill="#31688e"/>
<rect x="412.51" y="89.97" width="4.46" height="4.35" fill="#31688e"/>
<rect x="416.97" y="89.97" width="4.46" height="4.35" fill="#31688e"/>
<rect x="421.43" y="89.97" width="4.46" height="4.35" fill="#31688e"/>
<rect x="425.89" y="89.97" width="4.46" height="4.35" fill="#31688e"/>
<rect x="430.35" y="89.97" width="4.46" height="4.35" fill="#26828e"/>
<rect x="434.81" y="89.97" width="4.46" height="4.35" fill="#26828e"/>
<rect x="363.44" y="94.32" width="4.46" height="4.35" fill="#482878"/>
<rect x="367.90" y="94.32" width="4.46" height="4.35" fill="#3e4989"/>
<rect x="372.36" y="94.32" width="4.46" height="4.35" fill="#3e4989"/>
<rect x="376.82" y="94.32" width="4.46" height="4.35" fill="#3e4989"/>
<rect x="381.28" y="94.32" width="4.46" height="4.35" fill="#3e4989"/>
<rect x="385.75" y="94.32" width="4.46" height="4.35" fill="#31688e"/>
<rect x="390.21" y="94.32" width="4.46" height="4.35" fill="#31688e"/>
<rect x="394.67" y="94.32" width="4.46" height="4.35" fill="#31688e"/>
<rect x="399.13" y="94.32" width="4.46" height="4.35" fill="#31688e"/>
<rect x="403.59" y="94.32" width="4.46" height="4.35" fill="#31688e"/>
<rect x="408.05" y="94.32" width="4.46" height="4.35" fill="#31688e"/>
<rect x="412.51" y="94.32" width="4.46" height="4.35" fill="#31688e"/>
<rect x="416.97" y="94.32" width="4.46" height="4.35" fill="#31688e"/>
<rect x="421.43" y="94.32" width="4.46" height="4.35" fill="#31688e"/>
<rect x="425.89" y="94.32" width="4.46" height="4.35" fill="#31688e"/>
<rect x="430.35" y="94.32" width="4.46" height="4.35" fill="#26828e"/>
<rect x="358.98" y="98.67" width="4.46" height="4.35" fill="#3e4989"/>
<rect x="363.44" y="98.67" width="4.46" height="4.35" fill="#3e4989"/>
<rect x="367.90" y="98.67" width="4.46" height="4.35" fill="#3e4989"/>
<rect x="372.36" y="98.67" width="4.46" height="4.35" fill="#3e4989"/>
<rect x="376.82" y="98.67" width="4.46" height="4.35" fill="#482878"/>
<rect x="381.28" y="98.67" width="4.46" height="4.35" fill="#3e4989"/>
<rect x="385.75" y="98.67" width="4.46" height="4.35" fill="#3e4989"/>
<rect x="390.21" y="98.67" width="4.46" height="4.35" fill="#3e4989"/>
<rect x="394.67" y="98.67" width="4.46" height="4.35" fill="#3e4989"/>
<rect x="399.13" y="98.67" width="4.46" height="4.35" fill="#3e4989"/>
<rect x="403.59" y="98.67" width="4.46" height="4.35" fill="#3e4989"/>
<rect x="408.05" y="98.67" width="4.46" height="4.35" fill="#3e4989"/>
<rect x="412.51" y="98.67" width="4.46" height="4.35" fill="#3e4989"/>
<rect x="416.97" y="98.67" width="4.46" height="4.35" fill="#31688e"/>
<rect x="358.98" y="103.03" width="4.46" height="4.35" fill="#3e4989"/>
<rect x="363.44" y="103.03" width="4.46" height="4.35" fill="#3e4989"/>
<rect x="367.90" y="103.03" width="4.46" height="4.35" fill="#3e4989"/>
<rect x="372.36" y="103.03" width="4.46" height="4.35" fill="#482878"/>
<rect x="376.82" y="103.03" width="4.46" height="4.35" fill="#482878"/>
<rect x="381.28" y="103.03" width="4.46" height="4.35" fill="#3e4989"/>
<rect x="385.75" y="103.03" width="4.46" height="4.35" fill="#3e4989"/>
<rect x="390.21" y="103.03" width="4.46" height="4.35" fill="#3e4989"/>
<rect x="394.67" y="103.03" width="4.46" height="4.35" fill="#3e4989"/>
<rect x="399.13" y="103.03" width="4.46" height="4.35" fill="#3e4989"/>
<rect x="403.59" y="103.03" width="4.46" height="4.35" fill="#3e4989"/>
<rect x="408.05" y="103.03" width="4.46" height="4.35" fill="#3e4989"/>
<rect x="412.51" y="103.03" width="4.46" height="4.35" fill="#3e4989"/>
<rect x="367.90" y="107.38" width="4.46" height="4.35" fill="#3e4989"/>
<rect x="372.36" y="107.38" width="4.46" height="4.35" fill="#482878"/>
<rect x="376.82" y="107.38" width="4.46" height="4.35" fill="#482878"/>
<rect x="381.28" y="107.38" width="4.46" height="4.35" fill="#482878"/>
<rect x="385.75" y="107.38" width="4.46" height="4.35" fill="#3e4989"/>
<rect x="390.21" y="107.38" width="4.46" height="4.35" fill="#3e4989"/>
<rect x="394.67" y="107.38" width="4.46" height="4.35" fill="#3e4989"/>
<rect x="399.13" y="107.38" width="4.46" height="4.35" fill="#3e4989"/>
<rect x="403.59" y="107.38" width="4.46" height="4.35" fill="#3e4989"/>
<rect x="408.05" y="107.38" width="4.46" height="4.35" fill="#482878"/>
<rect x="412.51" y="107.38" width="4.46" height="4.35" fill="#3e4989"/>
<rect x="367.90" y="111.74" width="4.46" height="4.35" fill="#3e4989"/>
<rect x="372.36" y="111.74" width="4.46" height="4.35" fill="#482878"/>
<rect x="376.82" y="111.74" width="4.46" height="4.35" fill="#482878"/>
<rect x="381.28" y="111.74" width="4.46" height="4.35" fill="#482878"/>
<rect x="385.75" y="111.74" width="4.46" height="4.35" fill="#3e4989"/>
<rect x="390.21" y="111.74" width="4.46" height="4.35" fill="#3e4989"/>
<rect x="394.67" y="111.74" width="4.46" height="4.35" fill="#3e4989"/>
<rect x="372.36" y="116.09" width="4.46" height="4.35" fill="#482878"/>
<rect x="376.82" y="116.09" width="4.46" height="4.35" fill="#482878"/>
<rect x="381.28" y="116.09" width="4.46" height="4.35" fill="#3e4989"/>
<rect x="385.75" y="116.09" width="4.46" height="4.35" fill="#3e4989"/>
<rect x="390.21" y="116.09" width="4.46" height="4.35" fill="#3e4989"/>
<rect x="394.67" y="116.09" width="4.46" height="4.35" fill="#3e4989"/>
<rect x="372.36" y="120.44" width="4.46" height="4.35" fill="#482878"/>
<rect x="376.82" y="120.44" width="4.46" height="4.35" fill="#482878"/>
<rect x="381.28" y="120.44" width="4.46" height="4.35" fill="#482878"/>
<rect x="385.75" y="120.44" width="4.46" height="4.35" fill="#3e4989"/>
<rect x="390.21" y="120.44" width="4.46" height="4.35" fill="#3e4989"/>
<rect x="394.67" y="120.44" width="4.46" height="4.35" fill="#3e4989"/>
</g>
<text x="349.80" y="25.25" font-size="10.6" fill="#262626" stroke="#262626" stroke-width="0.2">(c)</text>
<text x="367.90" y="25.25" font-size="10.3" fill="#ff3020" stroke="#ff3020" stroke-width="0.2">TRIPEx-pol</text>
<path d="M364.8,99.4 L364.8,96.7 L376.7,90.1 L387.2,83.5 L397.8,75.6 L405.7,66.4 L413.6,58.5 L421.5,47.9 L424.2,44.0 L432.1,47.9 L442.6,45.3 L446.6,55.8 L445.3,69.0 L446.6,74.3 L440.0,80.9 L429.4,86.2 L416.2,91.5 L405.7,96.7 L391.2,102.0 L379.3,107.3 L370.1,106.0 L364.8,99.4" fill="none" stroke="#ffffff" stroke-width="1.30" stroke-linejoin="round"/>
<path d="M363.5,96.7 L374.0,90.1 L387.2,84.9 L403.0,79.6 L424.2,74.3 L432.1,76.9 L432.1,86.2 L421.5,91.5 L405.7,96.7 L389.9,106.0 L379.3,109.9 L368.7,106.0 L363.5,100.7 L363.5,96.7" fill="none" stroke="#b8b8b8" stroke-width="1.10" stroke-linejoin="round"/>
<path d="M372.36,103.03 L373.32,102.92 L374.51,102.84 L375.91,102.76 L377.48,102.66 L379.19,102.53 L381.02,102.33 L382.94,102.04 L384.90,101.64 L386.89,101.11 L388.87,100.42 L390.91,99.60 L393.09,98.68 L395.37,97.67 L397.72,96.56 L400.12,95.34 L402.53,94.02 L404.91,92.58 L407.24,91.02 L409.49,89.34 L411.62,87.53 L413.68,85.56 L415.73,83.43 L417.76,81.14 L419.76,78.73 L421.70,76.22 L423.57,73.63 L425.36,70.98 L427.05,68.31 L428.63,65.64 L430.08,62.98 L431.41,60.26 L432.63,57.43 L433.75,54.51 L434.77,51.55 L435.71,48.57 L436.56,45.61 L437.34,42.71 L438.05,39.90 L438.69,37.21 L439.27,34.68 L439.77,32.26 L440.16,29.91 L440.46,27.62 L440.68,25.41 L440.84,23.28 L440.95,21.24 L441.03,19.31 L441.10,17.49 L441.16,15.79 L441.24,14.22 L441.30,12.77 L441.33,11.45 L441.33,10.24 L441.31,9.14 L441.27,8.15 L441.22,7.26 L441.16,6.46 L441.12,5.77 L441.08,5.16 L441.06,4.64" fill="none" stroke="#000" stroke-width="0.85"/>
<path d="M372.36,103.03 L373.76,102.96 L375.50,102.92 L377.54,102.90 L379.84,102.87 L382.36,102.80 L385.03,102.67 L387.82,102.46 L390.69,102.15 L393.58,101.71 L396.45,101.11 L399.44,100.37 L402.68,99.50 L406.10,98.52 L409.62,97.44 L413.19,96.27 L416.73,95.02 L420.18,93.70 L423.47,92.33 L426.52,90.90 L429.28,89.45 L431.78,87.93 L434.13,86.32 L436.32,84.64 L438.37,82.89 L440.29,81.09 L442.08,79.25 L443.76,77.38 L445.33,75.48 L446.81,73.58 L448.19,71.68 L449.47,69.78 L450.60,67.85 L451.61,65.90 L452.51,63.92 L453.31,61.93 L454.02,59.90 L454.65,57.86 L455.22,55.79 L455.74,53.69 L456.22,51.57 L456.65,49.38 L456.98,47.09 L457.24,44.74 L457.42,42.35 L457.55,39.96 L457.62,37.60 L457.65,35.29 L457.65,33.07 L457.61,30.97 L457.56,29.02 L457.47,27.20 L457.31,25.48 L457.09,23.84 L456.83,22.29 L456.55,20.81 L456.24,19.39 L455.93,18.03 L455.62,16.72 L455.33,15.45 L455.06,14.22 L454.81,13.00 L454.54,11.81 L454.26,10.66 L453.98,9.55 L453.70,8.50 L453.44,7.53 L453.20,6.64 L452.98,5.86 L452.80,5.18 L452.65,4.64" fill="none" stroke="#000" stroke-width="0.85"/>
<path d="M369.69,104.07 L371.18,103.93 L372.96,103.79 L375.03,103.65 L377.36,103.48 L379.96,103.27 L382.81,102.99 L385.91,102.63 L389.26,102.17 L392.83,101.58 L396.63,100.85 L400.88,99.98 L405.73,98.97 L411.01,97.85 L416.59,96.62 L422.32,95.31 L428.03,93.93 L433.59,92.49 L438.85,91.00 L443.64,89.49 L447.84,87.97 L451.52,86.40 L454.90,84.75 L458.00,83.05 L460.83,81.29 L463.43,79.49 L465.80,77.67 L467.96,75.82 L469.95,73.97 L471.77,72.12 L473.44,70.29 L474.92,68.47 L476.14,66.66 L477.13,64.84 L477.93,63.01 L478.55,61.17 L479.03,59.31 L479.39,57.42 L479.66,55.51 L479.87,53.56 L480.04,51.57 L480.12,49.50 L480.05,47.33 L479.84,45.10 L479.53,42.83 L479.13,40.55 L478.68,38.29 L478.19,36.08 L477.69,33.96 L477.20,31.94 L476.74,30.06 L476.29,28.32 L475.80,26.66 L475.27,25.10 L474.72,23.61 L474.16,22.18 L473.59,20.80 L473.03,19.47 L472.49,18.16 L471.97,16.88 L471.48,15.61 L471.00,14.32 L470.52,13.02 L470.03,11.72 L469.56,10.44 L469.10,9.22 L468.66,8.07 L468.27,7.01 L467.91,6.07 L467.61,5.27 L467.37,4.64" fill="none" stroke="#000" stroke-width="0.85"/>
<circle cx="372.36" cy="103.03" r="2.2" fill="#fff" stroke="#000" stroke-width="0.6"/>
<circle cx="388.87" cy="100.42" r="2.2" fill="#fff" stroke="#000" stroke-width="0.6"/>
<circle cx="411.62" cy="87.53" r="2.2" fill="#fff" stroke="#000" stroke-width="0.6"/>
<circle cx="430.08" cy="62.98" r="2.2" fill="#fff" stroke="#000" stroke-width="0.6"/>
<circle cx="439.27" cy="34.68" r="2.2" fill="#fff" stroke="#000" stroke-width="0.6"/>
<circle cx="441.24" cy="14.22" r="2.2" fill="#fff" stroke="#000" stroke-width="0.6"/>
<rect x="370.56" y="101.23" width="3.6" height="3.6" fill="#fff" stroke="#000" stroke-width="0.6"/>
<rect x="394.65" y="99.31" width="3.6" height="3.6" fill="#fff" stroke="#000" stroke-width="0.6"/>
<rect x="427.48" y="87.65" width="3.6" height="3.6" fill="#fff" stroke="#000" stroke-width="0.6"/>
<rect x="446.39" y="69.88" width="3.6" height="3.6" fill="#fff" stroke="#000" stroke-width="0.6"/>
<rect x="454.42" y="49.77" width="3.6" height="3.6" fill="#fff" stroke="#000" stroke-width="0.6"/>
<rect x="455.76" y="27.22" width="3.6" height="3.6" fill="#fff" stroke="#000" stroke-width="0.6"/>
<rect x="453.26" y="12.42" width="3.6" height="3.6" fill="#fff" stroke="#000" stroke-width="0.6"/>
<polygon points="369.69,100.37 370.63,102.78 373.21,102.93 371.21,104.57 371.86,107.07 369.69,105.67 367.51,107.07 368.17,104.57 366.17,102.93 368.75,102.78" fill="none" stroke="#000" stroke-width="0.85"/>
<polygon points="396.63,97.15 397.57,99.56 400.15,99.71 398.15,101.35 398.80,103.85 396.63,102.45 394.45,103.85 395.11,101.35 393.11,99.71 395.69,99.56" fill="none" stroke="#000" stroke-width="0.85"/>
<polygon points="447.84,84.27 448.78,86.67 451.36,86.82 449.36,88.46 450.01,90.96 447.84,89.57 445.66,90.96 446.32,88.46 444.32,86.82 446.90,86.67" fill="none" stroke="#000" stroke-width="0.85"/>
<polygon points="473.44,66.59 474.38,69.00 476.96,69.15 474.96,70.78 475.62,73.28 473.44,71.89 471.27,73.28 471.92,70.78 469.92,69.15 472.50,69.00" fill="none" stroke="#000" stroke-width="0.85"/>
<polygon points="480.04,47.87 480.98,50.27 483.56,50.43 481.56,52.06 482.22,54.56 480.04,53.17 477.87,54.56 478.52,52.06 476.52,50.43 479.10,50.27" fill="none" stroke="#000" stroke-width="0.85"/>
<polygon points="476.74,26.36 477.68,28.77 480.26,28.92 478.26,30.56 478.92,33.06 476.74,31.66 474.57,33.06 475.22,30.56 473.22,28.92 475.80,28.77" fill="none" stroke="#000" stroke-width="0.85"/>
<polygon points="471.48,11.91 472.42,14.31 475.00,14.47 473.00,16.10 473.65,18.60 471.48,17.21 469.30,18.60 469.96,16.10 467.96,14.47 470.54,14.31" fill="none" stroke="#000" stroke-width="0.85"/>
<path d="M372.36,103.03 L374.19,103.02 L376.02,102.97 L377.85,102.87 L379.68,102.72 L381.51,102.52 L383.34,102.26 L385.17,101.93 L387.00,101.53 L388.83,101.07 L390.66,100.53 L392.49,99.92 L394.32,99.23 L396.15,98.46 L397.98,97.61 L399.81,96.68 L401.64,95.66 L403.47,94.56 L405.30,93.37 L407.13,92.09 L408.96,90.72 L410.79,89.26 L412.62,87.70 L414.45,86.05 L416.28,84.31 L418.11,82.46 L419.94,80.52 L421.77,78.48 L423.60,76.34 L425.43,74.09 L427.26,71.75 L429.09,69.30 L430.92,66.74 L432.75,64.08 L434.58,61.31 L436.41,58.44 L438.24,55.45 L440.07,52.36 L441.90,49.15 L443.73,45.84" fill="none" stroke="#ff1a00" stroke-width="1.45"/>
<rect x="385.60" y="110.55" width="107.20" height="18.60" fill="#ffffff" fill-opacity="0.55"/>
<text x="438.30" y="121.60" font-size="6.75" text-anchor="middle" fill="#262626" stroke="#262626" stroke-width="0.2"><tspan font-style="italic">DWR</tspan><tspan dy="2.5">X/C,Ka</tspan><tspan dy="-2.5"> = 0.06</tspan><tspan font-style="italic">DWR</tspan><tspan dx="1.3" dy="-2.9">2.3</tspan><tspan dx="-9.4" dy="5.8">Ka,W</tspan></text>
<rect x="345.60" y="7.25" width="147.20" height="121.90" fill="none" stroke="#262626" stroke-width="0.9"/>
<line x1="354.52" y1="129.15" x2="354.52" y2="131.35" stroke="#262626" stroke-width="1.0"/>
<line x1="354.52" y1="7.25" x2="354.52" y2="5.05" stroke="#262626" stroke-width="1.0"/>
<line x1="372.36" y1="129.15" x2="372.36" y2="131.35" stroke="#262626" stroke-width="1.0"/>
<line x1="372.36" y1="7.25" x2="372.36" y2="5.05" stroke="#262626" stroke-width="1.0"/>
<line x1="390.21" y1="129.15" x2="390.21" y2="131.35" stroke="#262626" stroke-width="1.0"/>
<line x1="390.21" y1="7.25" x2="390.21" y2="5.05" stroke="#262626" stroke-width="1.0"/>
<line x1="408.05" y1="129.15" x2="408.05" y2="131.35" stroke="#262626" stroke-width="1.0"/>
<line x1="408.05" y1="7.25" x2="408.05" y2="5.05" stroke="#262626" stroke-width="1.0"/>
<line x1="425.89" y1="129.15" x2="425.89" y2="131.35" stroke="#262626" stroke-width="1.0"/>
<line x1="425.89" y1="7.25" x2="425.89" y2="5.05" stroke="#262626" stroke-width="1.0"/>
<line x1="443.73" y1="129.15" x2="443.73" y2="131.35" stroke="#262626" stroke-width="1.0"/>
<line x1="443.73" y1="7.25" x2="443.73" y2="5.05" stroke="#262626" stroke-width="1.0"/>
<line x1="461.58" y1="129.15" x2="461.58" y2="131.35" stroke="#262626" stroke-width="1.0"/>
<line x1="461.58" y1="7.25" x2="461.58" y2="5.05" stroke="#262626" stroke-width="1.0"/>
<line x1="479.42" y1="129.15" x2="479.42" y2="131.35" stroke="#262626" stroke-width="1.0"/>
<line x1="479.42" y1="7.25" x2="479.42" y2="5.05" stroke="#262626" stroke-width="1.0"/>
<line x1="345.60" y1="120.44" x2="343.40" y2="120.44" stroke="#262626" stroke-width="1.0"/>
<line x1="492.80" y1="120.44" x2="495.00" y2="120.44" stroke="#262626" stroke-width="1.0"/>
<line x1="345.60" y1="103.03" x2="343.40" y2="103.03" stroke="#262626" stroke-width="1.0"/>
<line x1="492.80" y1="103.03" x2="495.00" y2="103.03" stroke="#262626" stroke-width="1.0"/>
<line x1="345.60" y1="85.61" x2="343.40" y2="85.61" stroke="#262626" stroke-width="1.0"/>
<line x1="492.80" y1="85.61" x2="495.00" y2="85.61" stroke="#262626" stroke-width="1.0"/>
<line x1="345.60" y1="68.20" x2="343.40" y2="68.20" stroke="#262626" stroke-width="1.0"/>
<line x1="492.80" y1="68.20" x2="495.00" y2="68.20" stroke="#262626" stroke-width="1.0"/>
<line x1="345.60" y1="50.79" x2="343.40" y2="50.79" stroke="#262626" stroke-width="1.0"/>
<line x1="492.80" y1="50.79" x2="495.00" y2="50.79" stroke="#262626" stroke-width="1.0"/>
<line x1="345.60" y1="33.37" x2="343.40" y2="33.37" stroke="#262626" stroke-width="1.0"/>
<line x1="492.80" y1="33.37" x2="495.00" y2="33.37" stroke="#262626" stroke-width="1.0"/>
<line x1="345.60" y1="15.96" x2="343.40" y2="15.96" stroke="#262626" stroke-width="1.0"/>
<line x1="492.80" y1="15.96" x2="495.00" y2="15.96" stroke="#262626" stroke-width="1.0"/>
<rect x="34.30" y="138.15" width="147.20" height="121.90" fill="#e1e1e1"/>
<g shape-rendering="crispEdges">
<rect x="123.51" y="151.21" width="4.46" height="4.35" fill="#35b779"/>
<rect x="119.05" y="155.56" width="4.46" height="4.35" fill="#1f9e89"/>
<rect x="123.51" y="159.92" width="4.46" height="4.35" fill="#35b779"/>
<rect x="119.05" y="164.27" width="4.46" height="4.35" fill="#1f9e89"/>
<rect x="123.51" y="164.27" width="4.46" height="4.35" fill="#35b779"/>
<rect x="105.67" y="168.62" width="4.46" height="4.35" fill="#1f9e89"/>
<rect x="119.05" y="168.62" width="4.46" height="4.35" fill="#1f9e89"/>
<rect x="123.51" y="168.62" width="4.46" height="4.35" fill="#35b779"/>
<rect x="132.43" y="168.62" width="4.46" height="4.35" fill="#35b779"/>
<rect x="105.67" y="172.98" width="4.46" height="4.35" fill="#1f9e89"/>
<rect x="114.59" y="172.98" width="4.46" height="4.35" fill="#1f9e89"/>
<rect x="119.05" y="172.98" width="4.46" height="4.35" fill="#35b779"/>
<rect x="123.51" y="172.98" width="4.46" height="4.35" fill="#35b779"/>
<rect x="114.59" y="177.33" width="4.46" height="4.35" fill="#35b779"/>
<rect x="119.05" y="177.33" width="4.46" height="4.35" fill="#35b779"/>
<rect x="123.51" y="177.33" width="4.46" height="4.35" fill="#35b779"/>
<rect x="105.67" y="181.69" width="4.46" height="4.35" fill="#1f9e89"/>
<rect x="110.13" y="181.69" width="4.46" height="4.35" fill="#35b779"/>
<rect x="114.59" y="181.69" width="4.46" height="4.35" fill="#1f9e89"/>
<rect x="119.05" y="181.69" width="4.46" height="4.35" fill="#35b779"/>
<rect x="123.51" y="181.69" width="4.46" height="4.35" fill="#35b779"/>
<rect x="127.97" y="181.69" width="4.46" height="4.35" fill="#35b779"/>
<rect x="105.67" y="186.04" width="4.46" height="4.35" fill="#35b779"/>
<rect x="110.13" y="186.04" width="4.46" height="4.35" fill="#1f9e89"/>
<rect x="114.59" y="186.04" width="4.46" height="4.35" fill="#1f9e89"/>
<rect x="119.05" y="186.04" width="4.46" height="4.35" fill="#35b779"/>
<rect x="123.51" y="186.04" width="4.46" height="4.35" fill="#35b779"/>
<rect x="127.97" y="186.04" width="4.46" height="4.35" fill="#35b779"/>
<rect x="132.43" y="186.04" width="4.46" height="4.35" fill="#35b779"/>
<rect x="92.29" y="190.39" width="4.46" height="4.35" fill="#35b779"/>
<rect x="96.75" y="190.39" width="4.46" height="4.35" fill="#35b779"/>
<rect x="101.21" y="190.39" width="4.46" height="4.35" fill="#1f9e89"/>
<rect x="105.67" y="190.39" width="4.46" height="4.35" fill="#35b779"/>
<rect x="110.13" y="190.39" width="4.46" height="4.35" fill="#1f9e89"/>
<rect x="114.59" y="190.39" width="4.46" height="4.35" fill="#35b779"/>
<rect x="119.05" y="190.39" width="4.46" height="4.35" fill="#35b779"/>
<rect x="123.51" y="190.39" width="4.46" height="4.35" fill="#1f9e89"/>
<rect x="127.97" y="190.39" width="4.46" height="4.35" fill="#35b779"/>
<rect x="83.37" y="194.75" width="4.46" height="4.35" fill="#35b779"/>
<rect x="87.83" y="194.75" width="4.46" height="4.35" fill="#35b779"/>
<rect x="92.29" y="194.75" width="4.46" height="4.35" fill="#35b779"/>
<rect x="96.75" y="194.75" width="4.46" height="4.35" fill="#1f9e89"/>
<rect x="101.21" y="194.75" width="4.46" height="4.35" fill="#35b779"/>
<rect x="105.67" y="194.75" width="4.46" height="4.35" fill="#1f9e89"/>
<rect x="110.13" y="194.75" width="4.46" height="4.35" fill="#35b779"/>
<rect x="114.59" y="194.75" width="4.46" height="4.35" fill="#1f9e89"/>
<rect x="119.05" y="194.75" width="4.46" height="4.35" fill="#35b779"/>
<rect x="123.51" y="194.75" width="4.46" height="4.35" fill="#35b779"/>
<rect x="78.91" y="199.10" width="4.46" height="4.35" fill="#1f9e89"/>
<rect x="83.37" y="199.10" width="4.46" height="4.35" fill="#1f9e89"/>
<rect x="87.83" y="199.10" width="4.46" height="4.35" fill="#31688e"/>
<rect x="92.29" y="199.10" width="4.46" height="4.35" fill="#1f9e89"/>
<rect x="96.75" y="199.10" width="4.46" height="4.35" fill="#1f9e89"/>
<rect x="101.21" y="199.10" width="4.46" height="4.35" fill="#1f9e89"/>
<rect x="105.67" y="199.10" width="4.46" height="4.35" fill="#1f9e89"/>
<rect x="110.13" y="199.10" width="4.46" height="4.35" fill="#1f9e89"/>
<rect x="114.59" y="199.10" width="4.46" height="4.35" fill="#1f9e89"/>
<rect x="119.05" y="199.10" width="4.46" height="4.35" fill="#1f9e89"/>
<rect x="123.51" y="199.10" width="4.46" height="4.35" fill="#1f9e89"/>
<rect x="78.91" y="203.45" width="4.46" height="4.35" fill="#26828e"/>
<rect x="83.37" y="203.45" width="4.46" height="4.35" fill="#1f9e89"/>
<rect x="87.83" y="203.45" width="4.46" height="4.35" fill="#1f9e89"/>
<rect x="92.29" y="203.45" width="4.46" height="4.35" fill="#26828e"/>
<rect x="96.75" y="203.45" width="4.46" height="4.35" fill="#26828e"/>
<rect x="101.21" y="203.45" width="4.46" height="4.35" fill="#26828e"/>
<rect x="105.67" y="203.45" width="4.46" height="4.35" fill="#1f9e89"/>
<rect x="110.13" y="203.45" width="4.46" height="4.35" fill="#1f9e89"/>
<rect x="114.59" y="203.45" width="4.46" height="4.35" fill="#1f9e89"/>
<rect x="119.05" y="203.45" width="4.46" height="4.35" fill="#1f9e89"/>
<rect x="123.51" y="203.45" width="4.46" height="4.35" fill="#1f9e89"/>
<rect x="127.97" y="203.45" width="4.46" height="4.35" fill="#35b779"/>
<rect x="43.22" y="207.81" width="4.46" height="4.35" fill="#482878"/>
<rect x="78.91" y="207.81" width="4.46" height="4.35" fill="#26828e"/>
<rect x="83.37" y="207.81" width="4.46" height="4.35" fill="#26828e"/>
<rect x="87.83" y="207.81" width="4.46" height="4.35" fill="#26828e"/>
<rect x="92.29" y="207.81" width="4.46" height="4.35" fill="#26828e"/>
<rect x="96.75" y="207.81" width="4.46" height="4.35" fill="#26828e"/>
<rect x="101.21" y="207.81" width="4.46" height="4.35" fill="#26828e"/>
<rect x="105.67" y="207.81" width="4.46" height="4.35" fill="#26828e"/>
<rect x="110.13" y="207.81" width="4.46" height="4.35" fill="#1f9e89"/>
<rect x="114.59" y="207.81" width="4.46" height="4.35" fill="#1f9e89"/>
<rect x="119.05" y="207.81" width="4.46" height="4.35" fill="#1f9e89"/>
<rect x="123.51" y="207.81" width="4.46" height="4.35" fill="#1f9e89"/>
<rect x="127.97" y="207.81" width="4.46" height="4.35" fill="#26828e"/>
<rect x="136.89" y="207.81" width="4.46" height="4.35" fill="#1f9e89"/>
<rect x="141.35" y="207.81" width="4.46" height="4.35" fill="#31688e"/>
<rect x="145.82" y="207.81" width="4.46" height="4.35" fill="#31688e"/>
<rect x="43.22" y="212.16" width="4.46" height="4.35" fill="#482878"/>
<rect x="52.14" y="212.16" width="4.46" height="4.35" fill="#31688e"/>
<rect x="56.60" y="212.16" width="4.46" height="4.35" fill="#31688e"/>
<rect x="61.06" y="212.16" width="4.46" height="4.35" fill="#31688e"/>
<rect x="65.52" y="212.16" width="4.46" height="4.35" fill="#31688e"/>
<rect x="69.98" y="212.16" width="4.46" height="4.35" fill="#26828e"/>
<rect x="74.45" y="212.16" width="4.46" height="4.35" fill="#26828e"/>
<rect x="78.91" y="212.16" width="4.46" height="4.35" fill="#31688e"/>
<rect x="83.37" y="212.16" width="4.46" height="4.35" fill="#31688e"/>
<rect x="87.83" y="212.16" width="4.46" height="4.35" fill="#31688e"/>
<rect x="92.29" y="212.16" width="4.46" height="4.35" fill="#31688e"/>
<rect x="96.75" y="212.16" width="4.46" height="4.35" fill="#26828e"/>
<rect x="101.21" y="212.16" width="4.46" height="4.35" fill="#26828e"/>
<rect x="105.67" y="212.16" width="4.46" height="4.35" fill="#26828e"/>
<rect x="110.13" y="212.16" width="4.46" height="4.35" fill="#26828e"/>
<rect x="114.59" y="212.16" width="4.46" height="4.35" fill="#26828e"/>
<rect x="119.05" y="212.16" width="4.46" height="4.35" fill="#1f9e89"/>
<rect x="123.51" y="212.16" width="4.46" height="4.35" fill="#26828e"/>
<rect x="127.97" y="212.16" width="4.46" height="4.35" fill="#26828e"/>
<rect x="132.43" y="212.16" width="4.46" height="4.35" fill="#1f9e89"/>
<rect x="136.89" y="212.16" width="4.46" height="4.35" fill="#26828e"/>
<rect x="141.35" y="212.16" width="4.46" height="4.35" fill="#31688e"/>
<rect x="145.82" y="212.16" width="4.46" height="4.35" fill="#31688e"/>
<rect x="150.28" y="212.16" width="4.46" height="4.35" fill="#26828e"/>
<rect x="43.22" y="216.51" width="4.46" height="4.35" fill="#31688e"/>
<rect x="47.68" y="216.51" width="4.46" height="4.35" fill="#31688e"/>
<rect x="52.14" y="216.51" width="4.46" height="4.35" fill="#3e4989"/>
<rect x="56.60" y="216.51" width="4.46" height="4.35" fill="#3e4989"/>
<rect x="61.06" y="216.51" width="4.46" height="4.35" fill="#31688e"/>
<rect x="65.52" y="216.51" width="4.46" height="4.35" fill="#31688e"/>
<rect x="69.98" y="216.51" width="4.46" height="4.35" fill="#31688e"/>
<rect x="74.45" y="216.51" width="4.46" height="4.35" fill="#31688e"/>
<rect x="78.91" y="216.51" width="4.46" height="4.35" fill="#31688e"/>
<rect x="83.37" y="216.51" width="4.46" height="4.35" fill="#31688e"/>
<rect x="87.83" y="216.51" width="4.46" height="4.35" fill="#31688e"/>
<rect x="92.29" y="216.51" width="4.46" height="4.35" fill="#31688e"/>
<rect x="96.75" y="216.51" width="4.46" height="4.35" fill="#31688e"/>
<rect x="101.21" y="216.51" width="4.46" height="4.35" fill="#31688e"/>
<rect x="105.67" y="216.51" width="4.46" height="4.35" fill="#26828e"/>
<rect x="110.13" y="216.51" width="4.46" height="4.35" fill="#26828e"/>
<rect x="114.59" y="216.51" width="4.46" height="4.35" fill="#26828e"/>
<rect x="119.05" y="216.51" width="4.46" height="4.35" fill="#1f9e89"/>
<rect x="123.51" y="216.51" width="4.46" height="4.35" fill="#1f9e89"/>
<rect x="127.97" y="216.51" width="4.46" height="4.35" fill="#1f9e89"/>
<rect x="132.43" y="216.51" width="4.46" height="4.35" fill="#1f9e89"/>
<rect x="136.89" y="216.51" width="4.46" height="4.35" fill="#1f9e89"/>
<rect x="141.35" y="216.51" width="4.46" height="4.35" fill="#1f9e89"/>
<rect x="145.82" y="216.51" width="4.46" height="4.35" fill="#35b779"/>
<rect x="150.28" y="216.51" width="4.46" height="4.35" fill="#26828e"/>
<rect x="43.22" y="220.87" width="4.46" height="4.35" fill="#31688e"/>
<rect x="47.68" y="220.87" width="4.46" height="4.35" fill="#3e4989"/>
<rect x="52.14" y="220.87" width="4.46" height="4.35" fill="#3e4989"/>
<rect x="56.60" y="220.87" width="4.46" height="4.35" fill="#3e4989"/>
<rect x="61.06" y="220.87" width="4.46" height="4.35" fill="#3e4989"/>
<rect x="65.52" y="220.87" width="4.46" height="4.35" fill="#3e4989"/>
<rect x="69.98" y="220.87" width="4.46" height="4.35" fill="#31688e"/>
<rect x="74.45" y="220.87" width="4.46" height="4.35" fill="#31688e"/>
<rect x="78.91" y="220.87" width="4.46" height="4.35" fill="#26828e"/>
<rect x="83.37" y="220.87" width="4.46" height="4.35" fill="#31688e"/>
<rect x="87.83" y="220.87" width="4.46" height="4.35" fill="#31688e"/>
<rect x="92.29" y="220.87" width="4.46" height="4.35" fill="#31688e"/>
<rect x="96.75" y="220.87" width="4.46" height="4.35" fill="#31688e"/>
<rect x="101.21" y="220.87" width="4.46" height="4.35" fill="#31688e"/>
<rect x="105.67" y="220.87" width="4.46" height="4.35" fill="#26828e"/>
<rect x="110.13" y="220.87" width="4.46" height="4.35" fill="#26828e"/>
<rect x="114.59" y="220.87" width="4.46" height="4.35" fill="#1f9e89"/>
<rect x="119.05" y="220.87" width="4.46" height="4.35" fill="#1f9e89"/>
<rect x="123.51" y="220.87" width="4.46" height="4.35" fill="#1f9e89"/>
<rect x="132.43" y="220.87" width="4.46" height="4.35" fill="#1f9e89"/>
<rect x="136.89" y="220.87" width="4.46" height="4.35" fill="#1f9e89"/>
<rect x="141.35" y="220.87" width="4.46" height="4.35" fill="#35b779"/>
<rect x="145.82" y="220.87" width="4.46" height="4.35" fill="#1f9e89"/>
<rect x="43.22" y="225.22" width="4.46" height="4.35" fill="#31688e"/>
<rect x="47.68" y="225.22" width="4.46" height="4.35" fill="#3e4989"/>
<rect x="52.14" y="225.22" width="4.46" height="4.35" fill="#3e4989"/>
<rect x="56.60" y="225.22" width="4.46" height="4.35" fill="#3e4989"/>
<rect x="61.06" y="225.22" width="4.46" height="4.35" fill="#3e4989"/>
<rect x="65.52" y="225.22" width="4.46" height="4.35" fill="#3e4989"/>
<rect x="69.98" y="225.22" width="4.46" height="4.35" fill="#3e4989"/>
<rect x="74.45" y="225.22" width="4.46" height="4.35" fill="#31688e"/>
<rect x="78.91" y="225.22" width="4.46" height="4.35" fill="#26828e"/>
<rect x="83.37" y="225.22" width="4.46" height="4.35" fill="#26828e"/>
<rect x="87.83" y="225.22" width="4.46" height="4.35" fill="#31688e"/>
<rect x="92.29" y="225.22" width="4.46" height="4.35" fill="#31688e"/>
<rect x="96.75" y="225.22" width="4.46" height="4.35" fill="#26828e"/>
<rect x="101.21" y="225.22" width="4.46" height="4.35" fill="#26828e"/>
<rect x="105.67" y="225.22" width="4.46" height="4.35" fill="#26828e"/>
<rect x="110.13" y="225.22" width="4.46" height="4.35" fill="#26828e"/>
<rect x="114.59" y="225.22" width="4.46" height="4.35" fill="#1f9e89"/>
<rect x="119.05" y="225.22" width="4.46" height="4.35" fill="#35b779"/>
<rect x="123.51" y="225.22" width="4.46" height="4.35" fill="#35b779"/>
<rect x="127.97" y="225.22" width="4.46" height="4.35" fill="#35b779"/>
<rect x="132.43" y="225.22" width="4.46" height="4.35" fill="#1f9e89"/>
<rect x="136.89" y="225.22" width="4.46" height="4.35" fill="#1f9e89"/>
<rect x="43.22" y="229.57" width="4.46" height="4.35" fill="#26828e"/>
<rect x="47.68" y="229.57" width="4.46" height="4.35" fill="#3e4989"/>
<rect x="52.14" y="229.57" width="4.46" height="4.35" fill="#3e4989"/>
<rect x="56.60" y="229.57" width="4.46" height="4.35" fill="#3e4989"/>
<rect x="61.06" y="229.57" width="4.46" height="4.35" fill="#482878"/>
<rect x="65.52" y="229.57" width="4.46" height="4.35" fill="#3e4989"/>
<rect x="69.98" y="229.57" width="4.46" height="4.35" fill="#3e4989"/>
<rect x="74.45" y="229.57" width="4.46" height="4.35" fill="#31688e"/>
<rect x="78.91" y="229.57" width="4.46" height="4.35" fill="#1f9e89"/>
<rect x="83.37" y="229.57" width="4.46" height="4.35" fill="#26828e"/>
<rect x="87.83" y="229.57" width="4.46" height="4.35" fill="#31688e"/>
<rect x="92.29" y="229.57" width="4.46" height="4.35" fill="#31688e"/>
<rect x="96.75" y="229.57" width="4.46" height="4.35" fill="#26828e"/>
<rect x="101.21" y="229.57" width="4.46" height="4.35" fill="#26828e"/>
<rect x="105.67" y="229.57" width="4.46" height="4.35" fill="#1f9e89"/>
<rect x="110.13" y="229.57" width="4.46" height="4.35" fill="#1f9e89"/>
<rect x="114.59" y="229.57" width="4.46" height="4.35" fill="#26828e"/>
<rect x="119.05" y="229.57" width="4.46" height="4.35" fill="#35b779"/>
<rect x="43.22" y="233.93" width="4.46" height="4.35" fill="#26828e"/>
<rect x="47.68" y="233.93" width="4.46" height="4.35" fill="#31688e"/>
<rect x="52.14" y="233.93" width="4.46" height="4.35" fill="#3e4989"/>
<rect x="56.60" y="233.93" width="4.46" height="4.35" fill="#3e4989"/>
<rect x="61.06" y="233.93" width="4.46" height="4.35" fill="#482878"/>
<rect x="65.52" y="233.93" width="4.46" height="4.35" fill="#3e4989"/>
<rect x="69.98" y="233.93" width="4.46" height="4.35" fill="#3e4989"/>
<rect x="74.45" y="233.93" width="4.46" height="4.35" fill="#31688e"/>
<rect x="78.91" y="233.93" width="4.46" height="4.35" fill="#1f9e89"/>
<rect x="83.37" y="233.93" width="4.46" height="4.35" fill="#1f9e89"/>
<rect x="87.83" y="233.93" width="4.46" height="4.35" fill="#35b779"/>
<rect x="92.29" y="233.93" width="4.46" height="4.35" fill="#31688e"/>
<rect x="96.75" y="233.93" width="4.46" height="4.35" fill="#26828e"/>
<rect x="101.21" y="233.93" width="4.46" height="4.35" fill="#31688e"/>
<rect x="105.67" y="233.93" width="4.46" height="4.35" fill="#1f9e89"/>
<rect x="114.59" y="233.93" width="4.46" height="4.35" fill="#26828e"/>
<rect x="43.22" y="238.28" width="4.46" height="4.35" fill="#26828e"/>
<rect x="47.68" y="238.28" width="4.46" height="4.35" fill="#1f9e89"/>
<rect x="52.14" y="238.28" width="4.46" height="4.35" fill="#31688e"/>
<rect x="56.60" y="238.28" width="4.46" height="4.35" fill="#31688e"/>
<rect x="61.06" y="238.28" width="4.46" height="4.35" fill="#31688e"/>
<rect x="65.52" y="238.28" width="4.46" height="4.35" fill="#31688e"/>
<rect x="69.98" y="238.28" width="4.46" height="4.35" fill="#31688e"/>
<rect x="74.45" y="238.28" width="4.46" height="4.35" fill="#26828e"/>
<rect x="78.91" y="238.28" width="4.46" height="4.35" fill="#1f9e89"/>
<rect x="83.37" y="238.28" width="4.46" height="4.35" fill="#1f9e89"/>
<rect x="87.83" y="238.28" width="4.46" height="4.35" fill="#35b779"/>
<rect x="43.22" y="242.64" width="4.46" height="4.35" fill="#31688e"/>
<rect x="47.68" y="242.64" width="4.46" height="4.35" fill="#26828e"/>
<rect x="52.14" y="242.64" width="4.46" height="4.35" fill="#482878"/>
<rect x="56.60" y="242.64" width="4.46" height="4.35" fill="#31688e"/>
<rect x="61.06" y="242.64" width="4.46" height="4.35" fill="#26828e"/>
<rect x="65.52" y="242.64" width="4.46" height="4.35" fill="#31688e"/>
<rect x="69.98" y="242.64" width="4.46" height="4.35" fill="#31688e"/>
<rect x="43.22" y="246.99" width="4.46" height="4.35" fill="#26828e"/>
<rect x="47.68" y="246.99" width="4.46" height="4.35" fill="#26828e"/>
</g>
<text x="38.50" y="156.15" font-size="10.6" fill="#262626" stroke="#262626" stroke-width="0.2">(d)</text>
<text x="56.60" y="156.15" font-size="10.3" fill="#3dbfc6" stroke="#3dbfc6" stroke-width="0.2">BAECC</text>
<path d="M46.8,231.4 L50.9,224.6 L58.7,219.9 L69.5,216.8 L82.0,216.2 L94.4,213.1 L106.8,210.6 L114.6,209.1 L116.8,213.7 L111.5,216.8 L100.6,221.5 L86.6,227.7 L74.2,235.5 L63.3,237.7 L52.4,236.4 L46.8,231.4" fill="none" stroke="#ffffff" stroke-width="1.30" stroke-linejoin="round"/>
<path d="M49.3,229.3 L55.5,224.6 L64.9,222.1 L74.2,222.1 L80.4,227.1 L78.9,233.9 L69.5,238.0 L58.7,237.0 L50.9,233.9 L49.3,229.3" fill="none" stroke="#b8b8b8" stroke-width="1.10" stroke-linejoin="round"/>
<path d="M61.06,233.93 L62.02,233.82 L63.21,233.74 L64.61,233.66 L66.18,233.56 L67.89,233.43 L69.72,233.23 L71.64,232.94 L73.60,232.54 L75.59,232.01 L77.57,231.32 L79.61,230.50 L81.79,229.58 L84.07,228.57 L86.42,227.46 L88.82,226.24 L91.23,224.92 L93.61,223.48 L95.94,221.92 L98.19,220.24 L100.32,218.43 L102.38,216.46 L104.43,214.33 L106.46,212.04 L108.46,209.63 L110.40,207.12 L112.27,204.53 L114.06,201.88 L115.75,199.21 L117.33,196.54 L118.78,193.88 L120.11,191.16 L121.33,188.33 L122.45,185.41 L123.47,182.45 L124.41,179.47 L125.26,176.51 L126.04,173.61 L126.75,170.80 L127.39,168.11 L127.97,165.58 L128.47,163.16 L128.86,160.81 L129.16,158.52 L129.38,156.31 L129.54,154.18 L129.65,152.14 L129.73,150.21 L129.80,148.39 L129.86,146.69 L129.94,145.12 L130.00,143.67 L130.03,142.35 L130.03,141.14 L130.01,140.04 L129.97,139.05 L129.92,138.16 L129.86,137.36 L129.82,136.67 L129.78,136.06 L129.76,135.54" fill="none" stroke="#000" stroke-width="0.85"/>
<path d="M61.06,233.93 L62.46,233.86 L64.20,233.82 L66.24,233.80 L68.54,233.77 L71.06,233.70 L73.73,233.57 L76.52,233.36 L79.39,233.05 L82.28,232.61 L85.15,232.01 L88.14,231.27 L91.38,230.40 L94.80,229.42 L98.32,228.34 L101.89,227.17 L105.43,225.92 L108.88,224.60 L112.17,223.23 L115.22,221.80 L117.98,220.35 L120.48,218.83 L122.83,217.22 L125.02,215.54 L127.07,213.79 L128.99,211.99 L130.78,210.15 L132.46,208.28 L134.03,206.38 L135.51,204.48 L136.89,202.58 L138.17,200.68 L139.30,198.75 L140.31,196.80 L141.21,194.82 L142.01,192.83 L142.72,190.80 L143.35,188.76 L143.92,186.69 L144.44,184.59 L144.92,182.47 L145.35,180.28 L145.68,177.99 L145.94,175.64 L146.12,173.25 L146.25,170.86 L146.32,168.50 L146.35,166.19 L146.35,163.97 L146.31,161.87 L146.26,159.92 L146.17,158.10 L146.01,156.38 L145.79,154.74 L145.53,153.19 L145.25,151.71 L144.94,150.29 L144.63,148.93 L144.32,147.62 L144.03,146.35 L143.76,145.12 L143.51,143.90 L143.24,142.71 L142.96,141.56 L142.68,140.45 L142.40,139.40 L142.14,138.43 L141.90,137.54 L141.68,136.76 L141.50,136.08 L141.35,135.54" fill="none" stroke="#000" stroke-width="0.85"/>
<path d="M58.39,234.97 L59.88,234.83 L61.66,234.69 L63.73,234.55 L66.06,234.38 L68.66,234.17 L71.51,233.89 L74.61,233.53 L77.96,233.07 L81.53,232.48 L85.33,231.75 L89.58,230.88 L94.43,229.87 L99.71,228.75 L105.29,227.52 L111.02,226.21 L116.73,224.83 L122.29,223.39 L127.55,221.90 L132.34,220.39 L136.54,218.87 L140.22,217.30 L143.60,215.65 L146.70,213.95 L149.53,212.19 L152.13,210.39 L154.50,208.57 L156.66,206.72 L158.65,204.87 L160.47,203.02 L162.14,201.19 L163.62,199.37 L164.84,197.56 L165.83,195.74 L166.63,193.91 L167.25,192.07 L167.73,190.21 L168.09,188.32 L168.36,186.41 L168.57,184.46 L168.74,182.47 L168.82,180.40 L168.75,178.23 L168.54,176.00 L168.23,173.73 L167.83,171.45 L167.38,169.19 L166.89,166.98 L166.39,164.86 L165.90,162.84 L165.44,160.96 L164.99,159.22 L164.50,157.56 L163.97,156.00 L163.42,154.51 L162.86,153.08 L162.29,151.70 L161.73,150.37 L161.19,149.06 L160.67,147.78 L160.18,146.51 L159.70,145.22 L159.22,143.92 L158.73,142.62 L158.26,141.34 L157.80,140.12 L157.36,138.97 L156.97,137.91 L156.61,136.97 L156.31,136.17 L156.07,135.54" fill="none" stroke="#000" stroke-width="0.85"/>
<circle cx="61.06" cy="233.93" r="2.2" fill="#fff" stroke="#000" stroke-width="0.6"/>
<circle cx="77.57" cy="231.32" r="2.2" fill="#fff" stroke="#000" stroke-width="0.6"/>
<circle cx="100.32" cy="218.43" r="2.2" fill="#fff" stroke="#000" stroke-width="0.6"/>
<circle cx="118.78" cy="193.88" r="2.2" fill="#fff" stroke="#000" stroke-width="0.6"/>
<circle cx="127.97" cy="165.58" r="2.2" fill="#fff" stroke="#000" stroke-width="0.6"/>
<circle cx="129.94" cy="145.12" r="2.2" fill="#fff" stroke="#000" stroke-width="0.6"/>
<rect x="59.26" y="232.13" width="3.6" height="3.6" fill="#fff" stroke="#000" stroke-width="0.6"/>
<rect x="83.35" y="230.21" width="3.6" height="3.6" fill="#fff" stroke="#000" stroke-width="0.6"/>
<rect x="116.18" y="218.55" width="3.6" height="3.6" fill="#fff" stroke="#000" stroke-width="0.6"/>
<rect x="135.09" y="200.78" width="3.6" height="3.6" fill="#fff" stroke="#000" stroke-width="0.6"/>
<rect x="143.12" y="180.67" width="3.6" height="3.6" fill="#fff" stroke="#000" stroke-width="0.6"/>
<rect x="144.46" y="158.12" width="3.6" height="3.6" fill="#fff" stroke="#000" stroke-width="0.6"/>
<rect x="141.96" y="143.32" width="3.6" height="3.6" fill="#fff" stroke="#000" stroke-width="0.6"/>
<polygon points="58.39,231.27 59.33,233.68 61.91,233.83 59.91,235.47 60.56,237.97 58.39,236.57 56.21,237.97 56.87,235.47 54.87,233.83 57.45,233.68" fill="none" stroke="#000" stroke-width="0.85"/>
<polygon points="85.33,228.05 86.27,230.46 88.85,230.61 86.85,232.25 87.50,234.75 85.33,233.35 83.15,234.75 83.81,232.25 81.81,230.61 84.39,230.46" fill="none" stroke="#000" stroke-width="0.85"/>
<polygon points="136.54,215.17 137.48,217.57 140.06,217.72 138.06,219.36 138.71,221.86 136.54,220.47 134.36,221.86 135.02,219.36 133.02,217.72 135.60,217.57" fill="none" stroke="#000" stroke-width="0.85"/>
<polygon points="162.14,197.49 163.08,199.90 165.66,200.05 163.66,201.68 164.32,204.18 162.14,202.79 159.97,204.18 160.62,201.68 158.62,200.05 161.20,199.90" fill="none" stroke="#000" stroke-width="0.85"/>
<polygon points="168.74,178.77 169.68,181.17 172.26,181.33 170.26,182.96 170.92,185.46 168.74,184.07 166.57,185.46 167.22,182.96 165.22,181.33 167.80,181.17" fill="none" stroke="#000" stroke-width="0.85"/>
<polygon points="165.44,157.26 166.38,159.67 168.96,159.82 166.96,161.46 167.62,163.96 165.44,162.56 163.27,163.96 163.92,161.46 161.92,159.82 164.50,159.67" fill="none" stroke="#000" stroke-width="0.85"/>
<polygon points="160.18,142.81 161.12,145.21 163.70,145.37 161.70,147.00 162.35,149.50 160.18,148.11 158.00,149.50 158.66,147.00 156.66,145.37 159.24,145.21" fill="none" stroke="#000" stroke-width="0.85"/>
<path d="M61.06,233.93 L62.89,233.92 L64.72,233.88 L66.55,233.80 L68.38,233.69 L70.21,233.52 L72.04,233.31 L73.87,233.05 L75.70,232.73 L77.53,232.36 L79.36,231.93 L81.19,231.44 L83.02,230.89 L84.85,230.27 L86.68,229.59 L88.51,228.85 L90.34,228.03 L92.17,227.15 L94.00,226.20 L95.83,225.18 L97.66,224.08 L99.49,222.91 L101.32,221.67 L103.15,220.35 L104.98,218.95 L106.81,217.48 L108.64,215.92 L110.47,214.29 L112.30,212.58 L114.13,210.78 L115.96,208.90 L117.79,206.94 L119.62,204.90 L121.45,202.77 L123.28,200.56 L125.11,198.26 L126.94,195.87 L128.77,193.39 L130.60,190.83 L132.43,188.17" fill="none" stroke="#3cc2c8" stroke-width="1.60"/>
<rect x="74.30" y="241.45" width="107.20" height="18.60" fill="#ffffff" fill-opacity="0.55"/>
<text x="127.00" y="252.50" font-size="6.75" text-anchor="middle" fill="#262626" stroke="#262626" stroke-width="0.2"><tspan font-style="italic">DWR</tspan><tspan dy="2.5">X/C,Ka</tspan><tspan dy="-2.5"> = 0.044</tspan><tspan font-style="italic">DWR</tspan><tspan dx="1.3" dy="-2.9">2.3</tspan><tspan dx="-9.4" dy="5.8">Ka,W</tspan></text>
<rect x="34.30" y="138.15" width="147.20" height="121.90" fill="none" stroke="#262626" stroke-width="0.9"/>
<line x1="43.22" y1="260.05" x2="43.22" y2="262.25" stroke="#262626" stroke-width="1.0"/>
<line x1="43.22" y1="138.15" x2="43.22" y2="135.95" stroke="#262626" stroke-width="1.0"/>
<line x1="61.06" y1="260.05" x2="61.06" y2="262.25" stroke="#262626" stroke-width="1.0"/>
<line x1="61.06" y1="138.15" x2="61.06" y2="135.95" stroke="#262626" stroke-width="1.0"/>
<line x1="78.91" y1="260.05" x2="78.91" y2="262.25" stroke="#262626" stroke-width="1.0"/>
<line x1="78.91" y1="138.15" x2="78.91" y2="135.95" stroke="#262626" stroke-width="1.0"/>
<line x1="96.75" y1="260.05" x2="96.75" y2="262.25" stroke="#262626" stroke-width="1.0"/>
<line x1="96.75" y1="138.15" x2="96.75" y2="135.95" stroke="#262626" stroke-width="1.0"/>
<line x1="114.59" y1="260.05" x2="114.59" y2="262.25" stroke="#262626" stroke-width="1.0"/>
<line x1="114.59" y1="138.15" x2="114.59" y2="135.95" stroke="#262626" stroke-width="1.0"/>
<line x1="132.43" y1="260.05" x2="132.43" y2="262.25" stroke="#262626" stroke-width="1.0"/>
<line x1="132.43" y1="138.15" x2="132.43" y2="135.95" stroke="#262626" stroke-width="1.0"/>
<line x1="150.28" y1="260.05" x2="150.28" y2="262.25" stroke="#262626" stroke-width="1.0"/>
<line x1="150.28" y1="138.15" x2="150.28" y2="135.95" stroke="#262626" stroke-width="1.0"/>
<line x1="168.12" y1="260.05" x2="168.12" y2="262.25" stroke="#262626" stroke-width="1.0"/>
<line x1="168.12" y1="138.15" x2="168.12" y2="135.95" stroke="#262626" stroke-width="1.0"/>
<line x1="34.30" y1="251.34" x2="32.10" y2="251.34" stroke="#262626" stroke-width="1.0"/>
<line x1="181.50" y1="251.34" x2="183.70" y2="251.34" stroke="#262626" stroke-width="1.0"/>
<line x1="34.30" y1="233.93" x2="32.10" y2="233.93" stroke="#262626" stroke-width="1.0"/>
<line x1="181.50" y1="233.93" x2="183.70" y2="233.93" stroke="#262626" stroke-width="1.0"/>
<line x1="34.30" y1="216.51" x2="32.10" y2="216.51" stroke="#262626" stroke-width="1.0"/>
<line x1="181.50" y1="216.51" x2="183.70" y2="216.51" stroke="#262626" stroke-width="1.0"/>
<line x1="34.30" y1="199.10" x2="32.10" y2="199.10" stroke="#262626" stroke-width="1.0"/>
<line x1="181.50" y1="199.10" x2="183.70" y2="199.10" stroke="#262626" stroke-width="1.0"/>
<line x1="34.30" y1="181.69" x2="32.10" y2="181.69" stroke="#262626" stroke-width="1.0"/>
<line x1="181.50" y1="181.69" x2="183.70" y2="181.69" stroke="#262626" stroke-width="1.0"/>
<line x1="34.30" y1="164.27" x2="32.10" y2="164.27" stroke="#262626" stroke-width="1.0"/>
<line x1="181.50" y1="164.27" x2="183.70" y2="164.27" stroke="#262626" stroke-width="1.0"/>
<line x1="34.30" y1="146.86" x2="32.10" y2="146.86" stroke="#262626" stroke-width="1.0"/>
<line x1="181.50" y1="146.86" x2="183.70" y2="146.86" stroke="#262626" stroke-width="1.0"/>
<text transform="translate(43.22,273.8) scale(1,1.06)" font-size="9.2" text-anchor="middle" fill="#262626" stroke="#262626" stroke-width="0.2">-2</text>
<text transform="translate(61.06,273.8) scale(1,1.06)" font-size="9.2" text-anchor="middle" fill="#262626" stroke="#262626" stroke-width="0.2">0</text>
<text transform="translate(78.91,273.8) scale(1,1.06)" font-size="9.2" text-anchor="middle" fill="#262626" stroke="#262626" stroke-width="0.2">2</text>
<text transform="translate(96.75,273.8) scale(1,1.06)" font-size="9.2" text-anchor="middle" fill="#262626" stroke="#262626" stroke-width="0.2">4</text>
<text transform="translate(114.59,273.8) scale(1,1.06)" font-size="9.2" text-anchor="middle" fill="#262626" stroke="#262626" stroke-width="0.2">6</text>
<text transform="translate(132.43,273.8) scale(1,1.06)" font-size="9.2" text-anchor="middle" fill="#262626" stroke="#262626" stroke-width="0.2">8</text>
<text transform="translate(150.28,273.8) scale(1,1.06)" font-size="9.2" text-anchor="middle" fill="#262626" stroke="#262626" stroke-width="0.2">10</text>
<text transform="translate(168.12,273.8) scale(1,1.06)" font-size="9.2" text-anchor="middle" fill="#262626" stroke="#262626" stroke-width="0.2">12</text>
<text transform="translate(29.6,254.94) scale(1,1.06)" font-size="9.2" text-anchor="end" fill="#262626" stroke="#262626" stroke-width="0.2">-2</text>
<text transform="translate(29.6,237.53) scale(1,1.06)" font-size="9.2" text-anchor="end" fill="#262626" stroke="#262626" stroke-width="0.2">0</text>
<text transform="translate(29.6,220.11) scale(1,1.06)" font-size="9.2" text-anchor="end" fill="#262626" stroke="#262626" stroke-width="0.2">2</text>
<text transform="translate(29.6,202.70) scale(1,1.06)" font-size="9.2" text-anchor="end" fill="#262626" stroke="#262626" stroke-width="0.2">4</text>
<text transform="translate(29.6,185.29) scale(1,1.06)" font-size="9.2" text-anchor="end" fill="#262626" stroke="#262626" stroke-width="0.2">6</text>
<text transform="translate(29.6,167.87) scale(1,1.06)" font-size="9.2" text-anchor="end" fill="#262626" stroke="#262626" stroke-width="0.2">8</text>
<text transform="translate(29.6,150.46) scale(1,1.06)" font-size="9.2" text-anchor="end" fill="#262626" stroke="#262626" stroke-width="0.2">10</text>
<rect x="189.90" y="138.15" width="147.20" height="121.90" fill="#e1e1e1"/>
<g shape-rendering="crispEdges">
<rect x="305.88" y="164.27" width="4.46" height="4.35" fill="#31688e"/>
<rect x="274.65" y="177.33" width="4.46" height="4.35" fill="#482878"/>
<rect x="283.57" y="177.33" width="4.46" height="4.35" fill="#482878"/>
<rect x="296.95" y="177.33" width="4.46" height="4.35" fill="#3e4989"/>
<rect x="274.65" y="181.69" width="4.46" height="4.35" fill="#482878"/>
<rect x="296.95" y="181.69" width="4.46" height="4.35" fill="#3e4989"/>
<rect x="270.19" y="186.04" width="4.46" height="4.35" fill="#482878"/>
<rect x="274.65" y="186.04" width="4.46" height="4.35" fill="#482878"/>
<rect x="265.73" y="190.39" width="4.46" height="4.35" fill="#440154"/>
<rect x="270.19" y="190.39" width="4.46" height="4.35" fill="#482878"/>
<rect x="274.65" y="190.39" width="4.46" height="4.35" fill="#482878"/>
<rect x="243.43" y="194.75" width="4.46" height="4.35" fill="#3e4989"/>
<rect x="247.89" y="194.75" width="4.46" height="4.35" fill="#3e4989"/>
<rect x="252.35" y="194.75" width="4.46" height="4.35" fill="#482878"/>
<rect x="256.81" y="194.75" width="4.46" height="4.35" fill="#482878"/>
<rect x="265.73" y="194.75" width="4.46" height="4.35" fill="#482878"/>
<rect x="270.19" y="194.75" width="4.46" height="4.35" fill="#482878"/>
<rect x="274.65" y="194.75" width="4.46" height="4.35" fill="#482878"/>
<rect x="279.11" y="194.75" width="4.46" height="4.35" fill="#482878"/>
<rect x="283.57" y="194.75" width="4.46" height="4.35" fill="#440154"/>
<rect x="238.97" y="199.10" width="4.46" height="4.35" fill="#482878"/>
<rect x="243.43" y="199.10" width="4.46" height="4.35" fill="#3e4989"/>
<rect x="247.89" y="199.10" width="4.46" height="4.35" fill="#3e4989"/>
<rect x="252.35" y="199.10" width="4.46" height="4.35" fill="#3e4989"/>
<rect x="256.81" y="199.10" width="4.46" height="4.35" fill="#482878"/>
<rect x="261.27" y="199.10" width="4.46" height="4.35" fill="#482878"/>
<rect x="265.73" y="199.10" width="4.46" height="4.35" fill="#482878"/>
<rect x="270.19" y="199.10" width="4.46" height="4.35" fill="#482878"/>
<rect x="274.65" y="199.10" width="4.46" height="4.35" fill="#440154"/>
<rect x="279.11" y="199.10" width="4.46" height="4.35" fill="#482878"/>
<rect x="283.57" y="199.10" width="4.46" height="4.35" fill="#482878"/>
<rect x="234.51" y="203.45" width="4.46" height="4.35" fill="#482878"/>
<rect x="238.97" y="203.45" width="4.46" height="4.35" fill="#3e4989"/>
<rect x="243.43" y="203.45" width="4.46" height="4.35" fill="#3e4989"/>
<rect x="247.89" y="203.45" width="4.46" height="4.35" fill="#3e4989"/>
<rect x="252.35" y="203.45" width="4.46" height="4.35" fill="#3e4989"/>
<rect x="256.81" y="203.45" width="4.46" height="4.35" fill="#482878"/>
<rect x="261.27" y="203.45" width="4.46" height="4.35" fill="#482878"/>
<rect x="265.73" y="203.45" width="4.46" height="4.35" fill="#440154"/>
<rect x="270.19" y="203.45" width="4.46" height="4.35" fill="#440154"/>
<rect x="274.65" y="203.45" width="4.46" height="4.35" fill="#440154"/>
<rect x="279.11" y="203.45" width="4.46" height="4.35" fill="#482878"/>
<rect x="283.57" y="203.45" width="4.46" height="4.35" fill="#482878"/>
<rect x="288.03" y="203.45" width="4.46" height="4.35" fill="#482878"/>
<rect x="328.18" y="203.45" width="4.46" height="4.35" fill="#31688e"/>
<rect x="212.20" y="207.81" width="4.46" height="4.35" fill="#440154"/>
<rect x="230.05" y="207.81" width="4.46" height="4.35" fill="#440154"/>
<rect x="234.51" y="207.81" width="4.46" height="4.35" fill="#3e4989"/>
<rect x="238.97" y="207.81" width="4.46" height="4.35" fill="#3e4989"/>
<rect x="243.43" y="207.81" width="4.46" height="4.35" fill="#3e4989"/>
<rect x="247.89" y="207.81" width="4.46" height="4.35" fill="#3e4989"/>
<rect x="252.35" y="207.81" width="4.46" height="4.35" fill="#3e4989"/>
<rect x="256.81" y="207.81" width="4.46" height="4.35" fill="#482878"/>
<rect x="261.27" y="207.81" width="4.46" height="4.35" fill="#482878"/>
<rect x="265.73" y="207.81" width="4.46" height="4.35" fill="#440154"/>
<rect x="270.19" y="207.81" width="4.46" height="4.35" fill="#482878"/>
<rect x="274.65" y="207.81" width="4.46" height="4.35" fill="#482878"/>
<rect x="279.11" y="207.81" width="4.46" height="4.35" fill="#482878"/>
<rect x="283.57" y="207.81" width="4.46" height="4.35" fill="#440154"/>
<rect x="212.20" y="212.16" width="4.46" height="4.35" fill="#440154"/>
<rect x="216.66" y="212.16" width="4.46" height="4.35" fill="#440154"/>
<rect x="225.58" y="212.16" width="4.46" height="4.35" fill="#440154"/>
<rect x="230.05" y="212.16" width="4.46" height="4.35" fill="#482878"/>
<rect x="234.51" y="212.16" width="4.46" height="4.35" fill="#3e4989"/>
<rect x="238.97" y="212.16" width="4.46" height="4.35" fill="#3e4989"/>
<rect x="243.43" y="212.16" width="4.46" height="4.35" fill="#3e4989"/>
<rect x="247.89" y="212.16" width="4.46" height="4.35" fill="#3e4989"/>
<rect x="252.35" y="212.16" width="4.46" height="4.35" fill="#482878"/>
<rect x="256.81" y="212.16" width="4.46" height="4.35" fill="#482878"/>
<rect x="261.27" y="212.16" width="4.46" height="4.35" fill="#482878"/>
<rect x="265.73" y="212.16" width="4.46" height="4.35" fill="#440154"/>
<rect x="270.19" y="212.16" width="4.46" height="4.35" fill="#482878"/>
<rect x="274.65" y="212.16" width="4.46" height="4.35" fill="#482878"/>
<rect x="279.11" y="212.16" width="4.46" height="4.35" fill="#440154"/>
<rect x="283.57" y="212.16" width="4.46" height="4.35" fill="#482878"/>
<rect x="288.03" y="212.16" width="4.46" height="4.35" fill="#482878"/>
<rect x="292.49" y="212.16" width="4.46" height="4.35" fill="#482878"/>
<rect x="207.74" y="216.51" width="4.46" height="4.35" fill="#440154"/>
<rect x="212.20" y="216.51" width="4.46" height="4.35" fill="#440154"/>
<rect x="216.66" y="216.51" width="4.46" height="4.35" fill="#440154"/>
<rect x="221.12" y="216.51" width="4.46" height="4.35" fill="#440154"/>
<rect x="225.58" y="216.51" width="4.46" height="4.35" fill="#440154"/>
<rect x="230.05" y="216.51" width="4.46" height="4.35" fill="#482878"/>
<rect x="234.51" y="216.51" width="4.46" height="4.35" fill="#3e4989"/>
<rect x="238.97" y="216.51" width="4.46" height="4.35" fill="#3e4989"/>
<rect x="243.43" y="216.51" width="4.46" height="4.35" fill="#3e4989"/>
<rect x="247.89" y="216.51" width="4.46" height="4.35" fill="#3e4989"/>
<rect x="252.35" y="216.51" width="4.46" height="4.35" fill="#482878"/>
<rect x="256.81" y="216.51" width="4.46" height="4.35" fill="#482878"/>
<rect x="261.27" y="216.51" width="4.46" height="4.35" fill="#482878"/>
<rect x="265.73" y="216.51" width="4.46" height="4.35" fill="#482878"/>
<rect x="270.19" y="216.51" width="4.46" height="4.35" fill="#482878"/>
<rect x="274.65" y="216.51" width="4.46" height="4.35" fill="#482878"/>
<rect x="279.11" y="216.51" width="4.46" height="4.35" fill="#482878"/>
<rect x="283.57" y="216.51" width="4.46" height="4.35" fill="#482878"/>
<rect x="288.03" y="216.51" width="4.46" height="4.35" fill="#440154"/>
<rect x="292.49" y="216.51" width="4.46" height="4.35" fill="#482878"/>
<rect x="203.28" y="220.87" width="4.46" height="4.35" fill="#440154"/>
<rect x="207.74" y="220.87" width="4.46" height="4.35" fill="#440154"/>
<rect x="212.20" y="220.87" width="4.46" height="4.35" fill="#440154"/>
<rect x="216.66" y="220.87" width="4.46" height="4.35" fill="#440154"/>
<rect x="221.12" y="220.87" width="4.46" height="4.35" fill="#440154"/>
<rect x="225.58" y="220.87" width="4.46" height="4.35" fill="#482878"/>
<rect x="230.05" y="220.87" width="4.46" height="4.35" fill="#482878"/>
<rect x="234.51" y="220.87" width="4.46" height="4.35" fill="#482878"/>
<rect x="238.97" y="220.87" width="4.46" height="4.35" fill="#3e4989"/>
<rect x="243.43" y="220.87" width="4.46" height="4.35" fill="#3e4989"/>
<rect x="247.89" y="220.87" width="4.46" height="4.35" fill="#3e4989"/>
<rect x="252.35" y="220.87" width="4.46" height="4.35" fill="#482878"/>
<rect x="256.81" y="220.87" width="4.46" height="4.35" fill="#482878"/>
<rect x="261.27" y="220.87" width="4.46" height="4.35" fill="#482878"/>
<rect x="265.73" y="220.87" width="4.46" height="4.35" fill="#482878"/>
<rect x="270.19" y="220.87" width="4.46" height="4.35" fill="#482878"/>
<rect x="274.65" y="220.87" width="4.46" height="4.35" fill="#482878"/>
<rect x="279.11" y="220.87" width="4.46" height="4.35" fill="#482878"/>
<rect x="283.57" y="220.87" width="4.46" height="4.35" fill="#482878"/>
<rect x="288.03" y="220.87" width="4.46" height="4.35" fill="#482878"/>
<rect x="203.28" y="225.22" width="4.46" height="4.35" fill="#440154"/>
<rect x="207.74" y="225.22" width="4.46" height="4.35" fill="#440154"/>
<rect x="212.20" y="225.22" width="4.46" height="4.35" fill="#440154"/>
<rect x="216.66" y="225.22" width="4.46" height="4.35" fill="#440154"/>
<rect x="221.12" y="225.22" width="4.46" height="4.35" fill="#482878"/>
<rect x="225.58" y="225.22" width="4.46" height="4.35" fill="#3e4989"/>
<rect x="230.05" y="225.22" width="4.46" height="4.35" fill="#482878"/>
<rect x="234.51" y="225.22" width="4.46" height="4.35" fill="#3e4989"/>
<rect x="238.97" y="225.22" width="4.46" height="4.35" fill="#3e4989"/>
<rect x="243.43" y="225.22" width="4.46" height="4.35" fill="#3e4989"/>
<rect x="247.89" y="225.22" width="4.46" height="4.35" fill="#3e4989"/>
<rect x="252.35" y="225.22" width="4.46" height="4.35" fill="#3e4989"/>
<rect x="256.81" y="225.22" width="4.46" height="4.35" fill="#482878"/>
<rect x="261.27" y="225.22" width="4.46" height="4.35" fill="#482878"/>
<rect x="265.73" y="225.22" width="4.46" height="4.35" fill="#482878"/>
<rect x="270.19" y="225.22" width="4.46" height="4.35" fill="#482878"/>
<rect x="274.65" y="225.22" width="4.46" height="4.35" fill="#482878"/>
<rect x="283.57" y="225.22" width="4.46" height="4.35" fill="#440154"/>
<rect x="198.82" y="229.57" width="4.46" height="4.35" fill="#440154"/>
<rect x="203.28" y="229.57" width="4.46" height="4.35" fill="#440154"/>
<rect x="207.74" y="229.57" width="4.46" height="4.35" fill="#440154"/>
<rect x="212.20" y="229.57" width="4.46" height="4.35" fill="#440154"/>
<rect x="216.66" y="229.57" width="4.46" height="4.35" fill="#440154"/>
<rect x="221.12" y="229.57" width="4.46" height="4.35" fill="#440154"/>
<rect x="225.58" y="229.57" width="4.46" height="4.35" fill="#482878"/>
<rect x="230.05" y="229.57" width="4.46" height="4.35" fill="#3e4989"/>
<rect x="234.51" y="229.57" width="4.46" height="4.35" fill="#3e4989"/>
<rect x="238.97" y="229.57" width="4.46" height="4.35" fill="#3e4989"/>
<rect x="243.43" y="229.57" width="4.46" height="4.35" fill="#3e4989"/>
<rect x="247.89" y="229.57" width="4.46" height="4.35" fill="#3e4989"/>
<rect x="252.35" y="229.57" width="4.46" height="4.35" fill="#3e4989"/>
<rect x="256.81" y="229.57" width="4.46" height="4.35" fill="#3e4989"/>
<rect x="261.27" y="229.57" width="4.46" height="4.35" fill="#482878"/>
<rect x="265.73" y="229.57" width="4.46" height="4.35" fill="#482878"/>
<rect x="270.19" y="229.57" width="4.46" height="4.35" fill="#482878"/>
<rect x="274.65" y="229.57" width="4.46" height="4.35" fill="#482878"/>
<rect x="198.82" y="233.93" width="4.46" height="4.35" fill="#440154"/>
<rect x="203.28" y="233.93" width="4.46" height="4.35" fill="#440154"/>
<rect x="207.74" y="233.93" width="4.46" height="4.35" fill="#440154"/>
<rect x="212.20" y="233.93" width="4.46" height="4.35" fill="#440154"/>
<rect x="216.66" y="233.93" width="4.46" height="4.35" fill="#440154"/>
<rect x="221.12" y="233.93" width="4.46" height="4.35" fill="#3e4989"/>
<rect x="225.58" y="233.93" width="4.46" height="4.35" fill="#3e4989"/>
<rect x="230.05" y="233.93" width="4.46" height="4.35" fill="#3e4989"/>
<rect x="234.51" y="233.93" width="4.46" height="4.35" fill="#3e4989"/>
<rect x="238.97" y="233.93" width="4.46" height="4.35" fill="#3e4989"/>
<rect x="243.43" y="233.93" width="4.46" height="4.35" fill="#482878"/>
<rect x="247.89" y="233.93" width="4.46" height="4.35" fill="#3e4989"/>
<rect x="252.35" y="233.93" width="4.46" height="4.35" fill="#3e4989"/>
<rect x="256.81" y="233.93" width="4.46" height="4.35" fill="#482878"/>
<rect x="261.27" y="233.93" width="4.46" height="4.35" fill="#482878"/>
<rect x="265.73" y="233.93" width="4.46" height="4.35" fill="#482878"/>
<rect x="203.28" y="238.28" width="4.46" height="4.35" fill="#440154"/>
<rect x="207.74" y="238.28" width="4.46" height="4.35" fill="#440154"/>
<rect x="212.20" y="238.28" width="4.46" height="4.35" fill="#440154"/>
<rect x="216.66" y="238.28" width="4.46" height="4.35" fill="#440154"/>
<rect x="221.12" y="238.28" width="4.46" height="4.35" fill="#482878"/>
<rect x="225.58" y="238.28" width="4.46" height="4.35" fill="#3e4989"/>
<rect x="230.05" y="238.28" width="4.46" height="4.35" fill="#482878"/>
<rect x="234.51" y="238.28" width="4.46" height="4.35" fill="#482878"/>
<rect x="238.97" y="238.28" width="4.46" height="4.35" fill="#482878"/>
<rect x="243.43" y="238.28" width="4.46" height="4.35" fill="#482878"/>
<rect x="247.89" y="238.28" width="4.46" height="4.35" fill="#482878"/>
<rect x="252.35" y="238.28" width="4.46" height="4.35" fill="#3e4989"/>
<rect x="256.81" y="238.28" width="4.46" height="4.35" fill="#482878"/>
<rect x="261.27" y="238.28" width="4.46" height="4.35" fill="#482878"/>
<rect x="207.74" y="242.64" width="4.46" height="4.35" fill="#440154"/>
<rect x="212.20" y="242.64" width="4.46" height="4.35" fill="#440154"/>
<rect x="216.66" y="242.64" width="4.46" height="4.35" fill="#440154"/>
<rect x="221.12" y="242.64" width="4.46" height="4.35" fill="#440154"/>
<rect x="225.58" y="242.64" width="4.46" height="4.35" fill="#482878"/>
<rect x="230.05" y="242.64" width="4.46" height="4.35" fill="#482878"/>
<rect x="234.51" y="242.64" width="4.46" height="4.35" fill="#482878"/>
<rect x="238.97" y="242.64" width="4.46" height="4.35" fill="#482878"/>
<rect x="243.43" y="242.64" width="4.46" height="4.35" fill="#482878"/>
<rect x="247.89" y="242.64" width="4.46" height="4.35" fill="#482878"/>
<rect x="252.35" y="242.64" width="4.46" height="4.35" fill="#482878"/>
<rect x="256.81" y="242.64" width="4.46" height="4.35" fill="#482878"/>
<rect x="261.27" y="242.64" width="4.46" height="4.35" fill="#482878"/>
<rect x="265.73" y="242.64" width="4.46" height="4.35" fill="#482878"/>
<rect x="225.58" y="246.99" width="4.46" height="4.35" fill="#482878"/>
<rect x="230.05" y="246.99" width="4.46" height="4.35" fill="#482878"/>
<rect x="234.51" y="246.99" width="4.46" height="4.35" fill="#482878"/>
<rect x="238.97" y="246.99" width="4.46" height="4.35" fill="#482878"/>
<rect x="243.43" y="246.99" width="4.46" height="4.35" fill="#482878"/>
<rect x="247.89" y="246.99" width="4.46" height="4.35" fill="#482878"/>
<rect x="252.35" y="246.99" width="4.46" height="4.35" fill="#482878"/>
<rect x="256.81" y="246.99" width="4.46" height="4.35" fill="#482878"/>
<rect x="261.27" y="246.99" width="4.46" height="4.35" fill="#482878"/>
<rect x="225.58" y="251.34" width="4.46" height="4.35" fill="#482878"/>
<rect x="230.05" y="251.34" width="4.46" height="4.35" fill="#482878"/>
</g>
<text x="194.10" y="156.15" font-size="10.6" fill="#262626" stroke="#262626" stroke-width="0.2">(e)</text>
<text x="212.20" y="156.15" font-size="10.3" fill="#d6a11e" stroke="#d6a11e" stroke-width="0.2">AWARE</text>
<path d="M209.3,230.1 L214.0,225.5 L223.3,222.0 L235.0,220.8 L246.6,217.3 L255.9,215.0 L262.9,217.3 L264.1,225.5 L258.3,233.6 L246.6,238.3 L230.3,238.3 L216.3,237.1 L209.3,233.6 L209.3,230.1" fill="none" stroke="#b8b8b8" stroke-width="1.10" stroke-linejoin="round"/>
<path d="M223.3,237.1 L226.8,230.1 L235.0,225.5 L245.5,222.0 L253.6,218.5 L259.4,215.0 L264.1,216.1 L267.6,223.1 L269.9,230.1 L262.9,232.4 L255.9,234.8 L246.6,240.6 L235.0,242.9 L225.6,240.6 L223.3,237.1" fill="none" stroke="#ffffff" stroke-width="1.30" stroke-linejoin="round"/>
<path d="M259.5,209.0 L264.0,209.5 L262.5,212.5 L259.5,209.0" fill="none" stroke="#ffffff" stroke-width="1.00" stroke-linejoin="round"/>
<path d="M244.0,218.5 L246.0,218.5 L245.0,220.0 L244.0,218.5" fill="none" stroke="#ffffff" stroke-width="0.90" stroke-linejoin="round"/>
<path d="M216.66,233.93 L217.62,233.82 L218.81,233.74 L220.21,233.66 L221.78,233.56 L223.49,233.43 L225.32,233.23 L227.24,232.94 L229.20,232.54 L231.19,232.01 L233.17,231.32 L235.21,230.50 L237.39,229.58 L239.67,228.57 L242.02,227.46 L244.42,226.24 L246.83,224.92 L249.21,223.48 L251.54,221.92 L253.79,220.24 L255.92,218.43 L257.98,216.46 L260.03,214.33 L262.06,212.04 L264.06,209.63 L266.00,207.12 L267.87,204.53 L269.66,201.88 L271.35,199.21 L272.93,196.54 L274.38,193.88 L275.71,191.16 L276.93,188.33 L278.05,185.41 L279.07,182.45 L280.01,179.47 L280.86,176.51 L281.64,173.61 L282.35,170.80 L282.99,168.11 L283.57,165.58 L284.07,163.16 L284.46,160.81 L284.76,158.52 L284.98,156.31 L285.14,154.18 L285.25,152.14 L285.33,150.21 L285.40,148.39 L285.46,146.69 L285.54,145.12 L285.60,143.67 L285.63,142.35 L285.63,141.14 L285.61,140.04 L285.57,139.05 L285.52,138.16 L285.46,137.36 L285.42,136.67 L285.38,136.06 L285.36,135.54" fill="none" stroke="#000" stroke-width="0.85"/>
<path d="M216.66,233.93 L218.06,233.86 L219.80,233.82 L221.84,233.80 L224.14,233.77 L226.66,233.70 L229.33,233.57 L232.12,233.36 L234.99,233.05 L237.88,232.61 L240.75,232.01 L243.74,231.27 L246.98,230.40 L250.40,229.42 L253.92,228.34 L257.49,227.17 L261.03,225.92 L264.48,224.60 L267.77,223.23 L270.82,221.80 L273.58,220.35 L276.08,218.83 L278.43,217.22 L280.62,215.54 L282.67,213.79 L284.59,211.99 L286.38,210.15 L288.06,208.28 L289.63,206.38 L291.11,204.48 L292.49,202.58 L293.77,200.68 L294.90,198.75 L295.91,196.80 L296.81,194.82 L297.61,192.83 L298.32,190.80 L298.95,188.76 L299.52,186.69 L300.04,184.59 L300.52,182.47 L300.95,180.28 L301.28,177.99 L301.54,175.64 L301.72,173.25 L301.85,170.86 L301.92,168.50 L301.95,166.19 L301.95,163.97 L301.91,161.87 L301.86,159.92 L301.77,158.10 L301.61,156.38 L301.39,154.74 L301.13,153.19 L300.85,151.71 L300.54,150.29 L300.23,148.93 L299.92,147.62 L299.63,146.35 L299.36,145.12 L299.11,143.90 L298.84,142.71 L298.56,141.56 L298.28,140.45 L298.00,139.40 L297.74,138.43 L297.50,137.54 L297.28,136.76 L297.10,136.08 L296.95,135.54" fill="none" stroke="#000" stroke-width="0.85"/>
<path d="M213.99,234.97 L215.48,234.83 L217.26,234.69 L219.33,234.55 L221.66,234.38 L224.26,234.17 L227.11,233.89 L230.21,233.53 L233.56,233.07 L237.13,232.48 L240.93,231.75 L245.18,230.88 L250.03,229.87 L255.31,228.75 L260.89,227.52 L266.62,226.21 L272.33,224.83 L277.89,223.39 L283.15,221.90 L287.94,220.39 L292.14,218.87 L295.82,217.30 L299.20,215.65 L302.30,213.95 L305.13,212.19 L307.73,210.39 L310.10,208.57 L312.26,206.72 L314.25,204.87 L316.07,203.02 L317.74,201.19 L319.22,199.37 L320.44,197.56 L321.43,195.74 L322.23,193.91 L322.85,192.07 L323.33,190.21 L323.69,188.32 L323.96,186.41 L324.17,184.46 L324.34,182.47 L324.42,180.40 L324.35,178.23 L324.14,176.00 L323.83,173.73 L323.43,171.45 L322.98,169.19 L322.49,166.98 L321.99,164.86 L321.50,162.84 L321.04,160.96 L320.59,159.22 L320.10,157.56 L319.57,156.00 L319.02,154.51 L318.46,153.08 L317.89,151.70 L317.33,150.37 L316.79,149.06 L316.27,147.78 L315.78,146.51 L315.30,145.22 L314.82,143.92 L314.33,142.62 L313.86,141.34 L313.40,140.12 L312.96,138.97 L312.57,137.91 L312.21,136.97 L311.91,136.17 L311.67,135.54" fill="none" stroke="#000" stroke-width="0.85"/>
<circle cx="216.66" cy="233.93" r="2.2" fill="#fff" stroke="#000" stroke-width="0.6"/>
<circle cx="233.17" cy="231.32" r="2.2" fill="#fff" stroke="#000" stroke-width="0.6"/>
<circle cx="255.92" cy="218.43" r="2.2" fill="#fff" stroke="#000" stroke-width="0.6"/>
<circle cx="274.38" cy="193.88" r="2.2" fill="#fff" stroke="#000" stroke-width="0.6"/>
<circle cx="283.57" cy="165.58" r="2.2" fill="#fff" stroke="#000" stroke-width="0.6"/>
<circle cx="285.54" cy="145.12" r="2.2" fill="#fff" stroke="#000" stroke-width="0.6"/>
<rect x="214.86" y="232.13" width="3.6" height="3.6" fill="#fff" stroke="#000" stroke-width="0.6"/>
<rect x="238.95" y="230.21" width="3.6" height="3.6" fill="#fff" stroke="#000" stroke-width="0.6"/>
<rect x="271.78" y="218.55" width="3.6" height="3.6" fill="#fff" stroke="#000" stroke-width="0.6"/>
<rect x="290.69" y="200.78" width="3.6" height="3.6" fill="#fff" stroke="#000" stroke-width="0.6"/>
<rect x="298.72" y="180.67" width="3.6" height="3.6" fill="#fff" stroke="#000" stroke-width="0.6"/>
<rect x="300.06" y="158.12" width="3.6" height="3.6" fill="#fff" stroke="#000" stroke-width="0.6"/>
<rect x="297.56" y="143.32" width="3.6" height="3.6" fill="#fff" stroke="#000" stroke-width="0.6"/>
<polygon points="213.99,231.27 214.93,233.68 217.51,233.83 215.51,235.47 216.16,237.97 213.99,236.57 211.81,237.97 212.47,235.47 210.47,233.83 213.05,233.68" fill="none" stroke="#000" stroke-width="0.85"/>
<polygon points="240.93,228.05 241.87,230.46 244.45,230.61 242.45,232.25 243.10,234.75 240.93,233.35 238.75,234.75 239.41,232.25 237.41,230.61 239.99,230.46" fill="none" stroke="#000" stroke-width="0.85"/>
<polygon points="292.14,215.17 293.08,217.57 295.66,217.72 293.66,219.36 294.31,221.86 292.14,220.47 289.96,221.86 290.62,219.36 288.62,217.72 291.20,217.57" fill="none" stroke="#000" stroke-width="0.85"/>
<polygon points="317.74,197.49 318.68,199.90 321.26,200.05 319.26,201.68 319.92,204.18 317.74,202.79 315.57,204.18 316.22,201.68 314.22,200.05 316.80,199.90" fill="none" stroke="#000" stroke-width="0.85"/>
<polygon points="324.34,178.77 325.28,181.17 327.86,181.33 325.86,182.96 326.52,185.46 324.34,184.07 322.17,185.46 322.82,182.96 320.82,181.33 323.40,181.17" fill="none" stroke="#000" stroke-width="0.85"/>
<polygon points="321.04,157.26 321.98,159.67 324.56,159.82 322.56,161.46 323.22,163.96 321.04,162.56 318.87,163.96 319.52,161.46 317.52,159.82 320.10,159.67" fill="none" stroke="#000" stroke-width="0.85"/>
<polygon points="315.78,142.81 316.72,145.21 319.30,145.37 317.30,147.00 317.95,149.50 315.78,148.11 313.60,149.50 314.26,147.00 312.26,145.37 314.84,145.21" fill="none" stroke="#000" stroke-width="0.85"/>
<path d="M216.66,233.93 L218.49,233.92 L220.32,233.91 L222.15,233.87 L223.98,233.82 L225.81,233.74 L227.64,233.65 L229.47,233.53 L231.30,233.38 L233.13,233.22 L234.96,233.02 L236.79,232.80 L238.62,232.55 L240.45,232.27 L242.28,231.96 L244.11,231.62 L245.94,231.25 L247.77,230.85 L249.60,230.42 L251.43,229.95 L253.26,229.45 L255.09,228.92 L256.92,228.35 L258.75,227.75 L260.58,227.12 L262.41,226.45 L264.24,225.74 L266.07,225.00 L267.90,224.22 L269.73,223.41 L271.56,222.55 L273.39,221.66 L275.22,220.73 L277.05,219.77 L278.88,218.76 L280.71,217.71 L282.54,216.63 L284.37,215.50 L286.20,214.34 L288.03,213.13" fill="none" stroke="#d6a000" stroke-width="1.45"/>
<rect x="229.90" y="241.45" width="107.20" height="18.60" fill="#ffffff" fill-opacity="0.55"/>
<text x="282.60" y="252.50" font-size="6.75" text-anchor="middle" fill="#262626" stroke="#262626" stroke-width="0.2"><tspan font-style="italic">DWR</tspan><tspan dy="2.5">X/C,Ka</tspan><tspan dy="-2.5"> = 0.02</tspan><tspan font-style="italic">DWR</tspan><tspan dx="1.3" dy="-2.9">2.3</tspan><tspan dx="-9.4" dy="5.8">Ka,W</tspan></text>
<rect x="189.90" y="138.15" width="147.20" height="121.90" fill="none" stroke="#262626" stroke-width="0.9"/>
<line x1="198.82" y1="260.05" x2="198.82" y2="262.25" stroke="#262626" stroke-width="1.0"/>
<line x1="198.82" y1="138.15" x2="198.82" y2="135.95" stroke="#262626" stroke-width="1.0"/>
<line x1="216.66" y1="260.05" x2="216.66" y2="262.25" stroke="#262626" stroke-width="1.0"/>
<line x1="216.66" y1="138.15" x2="216.66" y2="135.95" stroke="#262626" stroke-width="1.0"/>
<line x1="234.51" y1="260.05" x2="234.51" y2="262.25" stroke="#262626" stroke-width="1.0"/>
<line x1="234.51" y1="138.15" x2="234.51" y2="135.95" stroke="#262626" stroke-width="1.0"/>
<line x1="252.35" y1="260.05" x2="252.35" y2="262.25" stroke="#262626" stroke-width="1.0"/>
<line x1="252.35" y1="138.15" x2="252.35" y2="135.95" stroke="#262626" stroke-width="1.0"/>
<line x1="270.19" y1="260.05" x2="270.19" y2="262.25" stroke="#262626" stroke-width="1.0"/>
<line x1="270.19" y1="138.15" x2="270.19" y2="135.95" stroke="#262626" stroke-width="1.0"/>
<line x1="288.03" y1="260.05" x2="288.03" y2="262.25" stroke="#262626" stroke-width="1.0"/>
<line x1="288.03" y1="138.15" x2="288.03" y2="135.95" stroke="#262626" stroke-width="1.0"/>
<line x1="305.88" y1="260.05" x2="305.88" y2="262.25" stroke="#262626" stroke-width="1.0"/>
<line x1="305.88" y1="138.15" x2="305.88" y2="135.95" stroke="#262626" stroke-width="1.0"/>
<line x1="323.72" y1="260.05" x2="323.72" y2="262.25" stroke="#262626" stroke-width="1.0"/>
<line x1="323.72" y1="138.15" x2="323.72" y2="135.95" stroke="#262626" stroke-width="1.0"/>
<line x1="189.90" y1="251.34" x2="187.70" y2="251.34" stroke="#262626" stroke-width="1.0"/>
<line x1="337.10" y1="251.34" x2="339.30" y2="251.34" stroke="#262626" stroke-width="1.0"/>
<line x1="189.90" y1="233.93" x2="187.70" y2="233.93" stroke="#262626" stroke-width="1.0"/>
<line x1="337.10" y1="233.93" x2="339.30" y2="233.93" stroke="#262626" stroke-width="1.0"/>
<line x1="189.90" y1="216.51" x2="187.70" y2="216.51" stroke="#262626" stroke-width="1.0"/>
<line x1="337.10" y1="216.51" x2="339.30" y2="216.51" stroke="#262626" stroke-width="1.0"/>
<line x1="189.90" y1="199.10" x2="187.70" y2="199.10" stroke="#262626" stroke-width="1.0"/>
<line x1="337.10" y1="199.10" x2="339.30" y2="199.10" stroke="#262626" stroke-width="1.0"/>
<line x1="189.90" y1="181.69" x2="187.70" y2="181.69" stroke="#262626" stroke-width="1.0"/>
<line x1="337.10" y1="181.69" x2="339.30" y2="181.69" stroke="#262626" stroke-width="1.0"/>
<line x1="189.90" y1="164.27" x2="187.70" y2="164.27" stroke="#262626" stroke-width="1.0"/>
<line x1="337.10" y1="164.27" x2="339.30" y2="164.27" stroke="#262626" stroke-width="1.0"/>
<line x1="189.90" y1="146.86" x2="187.70" y2="146.86" stroke="#262626" stroke-width="1.0"/>
<line x1="337.10" y1="146.86" x2="339.30" y2="146.86" stroke="#262626" stroke-width="1.0"/>
<text transform="translate(198.82,273.8) scale(1,1.06)" font-size="9.2" text-anchor="middle" fill="#262626" stroke="#262626" stroke-width="0.2">-2</text>
<text transform="translate(216.66,273.8) scale(1,1.06)" font-size="9.2" text-anchor="middle" fill="#262626" stroke="#262626" stroke-width="0.2">0</text>
<text transform="translate(234.51,273.8) scale(1,1.06)" font-size="9.2" text-anchor="middle" fill="#262626" stroke="#262626" stroke-width="0.2">2</text>
<text transform="translate(252.35,273.8) scale(1,1.06)" font-size="9.2" text-anchor="middle" fill="#262626" stroke="#262626" stroke-width="0.2">4</text>
<text transform="translate(270.19,273.8) scale(1,1.06)" font-size="9.2" text-anchor="middle" fill="#262626" stroke="#262626" stroke-width="0.2">6</text>
<text transform="translate(288.03,273.8) scale(1,1.06)" font-size="9.2" text-anchor="middle" fill="#262626" stroke="#262626" stroke-width="0.2">8</text>
<text transform="translate(305.88,273.8) scale(1,1.06)" font-size="9.2" text-anchor="middle" fill="#262626" stroke="#262626" stroke-width="0.2">10</text>
<text transform="translate(323.72,273.8) scale(1,1.06)" font-size="9.2" text-anchor="middle" fill="#262626" stroke="#262626" stroke-width="0.2">12</text>
<rect x="345.60" y="138.15" width="147.20" height="121.90" fill="#e1e1e1"/>
<text x="349.80" y="156.15" font-size="10.6" fill="#262626" stroke="#262626" stroke-width="0.2">(f)</text>
<path d="M372.36,233.93 L373.32,233.82 L374.51,233.74 L375.91,233.66 L377.48,233.56 L379.19,233.43 L381.02,233.23 L382.94,232.94 L384.90,232.54 L386.89,232.01 L388.87,231.32 L390.91,230.50 L393.09,229.58 L395.37,228.57 L397.72,227.46 L400.12,226.24 L402.53,224.92 L404.91,223.48 L407.24,221.92 L409.49,220.24 L411.62,218.43 L413.68,216.46 L415.73,214.33 L417.76,212.04 L419.76,209.63 L421.70,207.12 L423.57,204.53 L425.36,201.88 L427.05,199.21 L428.63,196.54 L430.08,193.88 L431.41,191.16 L432.63,188.33 L433.75,185.41 L434.77,182.45 L435.71,179.47 L436.56,176.51 L437.34,173.61 L438.05,170.80 L438.69,168.11 L439.27,165.58 L439.77,163.16 L440.16,160.81 L440.46,158.52 L440.68,156.31 L440.84,154.18 L440.95,152.14 L441.03,150.21 L441.10,148.39 L441.16,146.69 L441.24,145.12 L441.30,143.67 L441.33,142.35 L441.33,141.14 L441.31,140.04 L441.27,139.05 L441.22,138.16 L441.16,137.36 L441.12,136.67 L441.08,136.06 L441.06,135.54" fill="none" stroke="#000" stroke-width="0.85"/>
<path d="M372.36,233.93 L373.76,233.86 L375.50,233.82 L377.54,233.80 L379.84,233.77 L382.36,233.70 L385.03,233.57 L387.82,233.36 L390.69,233.05 L393.58,232.61 L396.45,232.01 L399.44,231.27 L402.68,230.40 L406.10,229.42 L409.62,228.34 L413.19,227.17 L416.73,225.92 L420.18,224.60 L423.47,223.23 L426.52,221.80 L429.28,220.35 L431.78,218.83 L434.13,217.22 L436.32,215.54 L438.37,213.79 L440.29,211.99 L442.08,210.15 L443.76,208.28 L445.33,206.38 L446.81,204.48 L448.19,202.58 L449.47,200.68 L450.60,198.75 L451.61,196.80 L452.51,194.82 L453.31,192.83 L454.02,190.80 L454.65,188.76 L455.22,186.69 L455.74,184.59 L456.22,182.47 L456.65,180.28 L456.98,177.99 L457.24,175.64 L457.42,173.25 L457.55,170.86 L457.62,168.50 L457.65,166.19 L457.65,163.97 L457.61,161.87 L457.56,159.92 L457.47,158.10 L457.31,156.38 L457.09,154.74 L456.83,153.19 L456.55,151.71 L456.24,150.29 L455.93,148.93 L455.62,147.62 L455.33,146.35 L455.06,145.12 L454.81,143.90 L454.54,142.71 L454.26,141.56 L453.98,140.45 L453.70,139.40 L453.44,138.43 L453.20,137.54 L452.98,136.76 L452.80,136.08 L452.65,135.54" fill="none" stroke="#000" stroke-width="0.85"/>
<path d="M369.69,234.97 L371.18,234.83 L372.96,234.69 L375.03,234.55 L377.36,234.38 L379.96,234.17 L382.81,233.89 L385.91,233.53 L389.26,233.07 L392.83,232.48 L396.63,231.75 L400.88,230.88 L405.73,229.87 L411.01,228.75 L416.59,227.52 L422.32,226.21 L428.03,224.83 L433.59,223.39 L438.85,221.90 L443.64,220.39 L447.84,218.87 L451.52,217.30 L454.90,215.65 L458.00,213.95 L460.83,212.19 L463.43,210.39 L465.80,208.57 L467.96,206.72 L469.95,204.87 L471.77,203.02 L473.44,201.19 L474.92,199.37 L476.14,197.56 L477.13,195.74 L477.93,193.91 L478.55,192.07 L479.03,190.21 L479.39,188.32 L479.66,186.41 L479.87,184.46 L480.04,182.47 L480.12,180.40 L480.05,178.23 L479.84,176.00 L479.53,173.73 L479.13,171.45 L478.68,169.19 L478.19,166.98 L477.69,164.86 L477.20,162.84 L476.74,160.96 L476.29,159.22 L475.80,157.56 L475.27,156.00 L474.72,154.51 L474.16,153.08 L473.59,151.70 L473.03,150.37 L472.49,149.06 L471.97,147.78 L471.48,146.51 L471.00,145.22 L470.52,143.92 L470.03,142.62 L469.56,141.34 L469.10,140.12 L468.66,138.97 L468.27,137.91 L467.91,136.97 L467.61,136.17 L467.37,135.54" fill="none" stroke="#000" stroke-width="0.85"/>
<circle cx="372.36" cy="233.93" r="2.2" fill="#fff" stroke="#000" stroke-width="0.6"/>
<circle cx="388.87" cy="231.32" r="2.2" fill="#fff" stroke="#000" stroke-width="0.6"/>
<circle cx="411.62" cy="218.43" r="2.2" fill="#fff" stroke="#000" stroke-width="0.6"/>
<circle cx="430.08" cy="193.88" r="2.2" fill="#fff" stroke="#000" stroke-width="0.6"/>
<circle cx="439.27" cy="165.58" r="2.2" fill="#fff" stroke="#000" stroke-width="0.6"/>
<circle cx="441.24" cy="145.12" r="2.2" fill="#fff" stroke="#000" stroke-width="0.6"/>
<rect x="370.56" y="232.13" width="3.6" height="3.6" fill="#fff" stroke="#000" stroke-width="0.6"/>
<rect x="394.65" y="230.21" width="3.6" height="3.6" fill="#fff" stroke="#000" stroke-width="0.6"/>
<rect x="427.48" y="218.55" width="3.6" height="3.6" fill="#fff" stroke="#000" stroke-width="0.6"/>
<rect x="446.39" y="200.78" width="3.6" height="3.6" fill="#fff" stroke="#000" stroke-width="0.6"/>
<rect x="454.42" y="180.67" width="3.6" height="3.6" fill="#fff" stroke="#000" stroke-width="0.6"/>
<rect x="455.76" y="158.12" width="3.6" height="3.6" fill="#fff" stroke="#000" stroke-width="0.6"/>
<rect x="453.26" y="143.32" width="3.6" height="3.6" fill="#fff" stroke="#000" stroke-width="0.6"/>
<polygon points="369.69,231.27 370.63,233.68 373.21,233.83 371.21,235.47 371.86,237.97 369.69,236.57 367.51,237.97 368.17,235.47 366.17,233.83 368.75,233.68" fill="none" stroke="#000" stroke-width="0.85"/>
<polygon points="396.63,228.05 397.57,230.46 400.15,230.61 398.15,232.25 398.80,234.75 396.63,233.35 394.45,234.75 395.11,232.25 393.11,230.61 395.69,230.46" fill="none" stroke="#000" stroke-width="0.85"/>
<polygon points="447.84,215.17 448.78,217.57 451.36,217.72 449.36,219.36 450.01,221.86 447.84,220.47 445.66,221.86 446.32,219.36 444.32,217.72 446.90,217.57" fill="none" stroke="#000" stroke-width="0.85"/>
<polygon points="473.44,197.49 474.38,199.90 476.96,200.05 474.96,201.68 475.62,204.18 473.44,202.79 471.27,204.18 471.92,201.68 469.92,200.05 472.50,199.90" fill="none" stroke="#000" stroke-width="0.85"/>
<polygon points="480.04,178.77 480.98,181.17 483.56,181.33 481.56,182.96 482.22,185.46 480.04,184.07 477.87,185.46 478.52,182.96 476.52,181.33 479.10,181.17" fill="none" stroke="#000" stroke-width="0.85"/>
<polygon points="476.74,157.26 477.68,159.67 480.26,159.82 478.26,161.46 478.92,163.96 476.74,162.56 474.57,163.96 475.22,161.46 473.22,159.82 475.80,159.67" fill="none" stroke="#000" stroke-width="0.85"/>
<polygon points="471.48,142.81 472.42,145.21 475.00,145.37 473.00,147.00 473.65,149.50 471.48,148.11 469.30,149.50 469.96,147.00 467.96,145.37 470.54,145.21" fill="none" stroke="#000" stroke-width="0.85"/>
<path d="M372.36,233.93 L374.19,233.92 L376.02,233.87 L377.85,233.77 L379.68,233.62 L381.51,233.42 L383.34,233.16 L385.17,232.83 L387.00,232.43 L388.83,231.97 L390.66,231.43 L392.49,230.82 L394.32,230.13 L396.15,229.36 L397.98,228.51 L399.81,227.58 L401.64,226.56 L403.47,225.46 L405.30,224.27 L407.13,222.99 L408.96,221.62 L410.79,220.16 L412.62,218.60 L414.45,216.95 L416.28,215.21 L418.11,213.36 L419.94,211.42 L421.77,209.38 L423.60,207.24 L425.43,204.99 L427.26,202.65 L429.09,200.20 L430.92,197.64 L432.75,194.98 L434.58,192.21 L436.41,189.34 L438.24,186.35 L440.07,183.26 L441.90,180.05 L443.73,176.74" fill="none" stroke="#ff1a00" stroke-width="1.50"/>
<path d="M372.36,233.93 L374.19,233.92 L376.02,233.88 L377.85,233.80 L379.68,233.69 L381.51,233.52 L383.34,233.31 L385.17,233.05 L387.00,232.73 L388.83,232.36 L390.66,231.93 L392.49,231.44 L394.32,230.89 L396.15,230.27 L397.98,229.59 L399.81,228.85 L401.64,228.03 L403.47,227.15 L405.30,226.20 L407.13,225.18 L408.96,224.08 L410.79,222.91 L412.62,221.67 L414.45,220.35 L416.28,218.95 L418.11,217.48 L419.94,215.92 L421.77,214.29 L423.60,212.58 L425.43,210.78 L427.26,208.90 L429.09,206.94 L430.92,204.90 L432.75,202.77 L434.58,200.56 L436.41,198.26 L438.24,195.87 L440.07,193.39 L441.90,190.83 L443.73,188.17" fill="none" stroke="#3cc2c8" stroke-width="1.50"/>
<path d="M372.36,233.93 L374.19,233.92 L376.02,233.88 L377.85,233.81 L379.68,233.71 L381.51,233.56 L383.34,233.37 L385.17,233.13 L387.00,232.84 L388.83,232.50 L390.66,232.11 L392.49,231.66 L394.32,231.16 L396.15,230.60 L397.98,229.99 L399.81,229.31 L401.64,228.57 L403.47,227.77 L405.30,226.90 L407.13,225.97 L408.96,224.98 L410.79,223.91 L412.62,222.78 L414.45,221.58 L416.28,220.31 L418.11,218.97 L419.94,217.56 L421.77,216.07 L423.60,214.52 L425.43,212.89 L427.26,211.18 L429.09,209.40 L430.92,207.54 L432.75,205.60 L434.58,203.59 L436.41,201.50 L438.24,199.33 L440.07,197.08 L441.90,194.75 L443.73,192.33" fill="none" stroke="#1a5cb0" stroke-width="1.50"/>
<path d="M372.36,233.93 L374.19,233.92 L376.02,233.91 L377.85,233.87 L379.68,233.82 L381.51,233.74 L383.34,233.65 L385.17,233.53 L387.00,233.38 L388.83,233.22 L390.66,233.02 L392.49,232.80 L394.32,232.55 L396.15,232.27 L397.98,231.96 L399.81,231.62 L401.64,231.25 L403.47,230.85 L405.30,230.42 L407.13,229.95 L408.96,229.45 L410.79,228.92 L412.62,228.35 L414.45,227.75 L416.28,227.12 L418.11,226.45 L419.94,225.74 L421.77,225.00 L423.60,224.22 L425.43,223.41 L427.26,222.55 L429.09,221.66 L430.92,220.73 L432.75,219.77 L434.58,218.76 L436.41,217.71 L438.24,216.63 L440.07,215.50 L441.90,214.34 L443.73,213.13" fill="none" stroke="#d6a000" stroke-width="1.50"/>
<path d="M372.36,233.93 L374.65,233.92 L376.94,233.87 L379.23,233.78 L381.51,233.63 L383.80,233.44 L386.09,233.18 L388.38,232.86 L390.66,232.47 L392.95,232.02 L395.24,231.50 L397.53,230.90 L399.81,230.23 L402.10,229.49 L404.39,228.66 L406.68,227.75 L408.96,226.77 L411.25,225.69 L413.54,224.54 L415.83,223.29 L418.11,221.96 L420.40,220.54 L422.69,219.03 L424.98,217.43 L427.26,215.73 L429.55,213.94 L431.84,212.05 L434.13,210.07 L436.41,207.98 L438.70,205.80 L440.99,203.52 L443.28,201.14 L445.56,198.66 L447.85,196.07 L450.14,193.38 L452.43,190.58 L454.71,187.68 L457.00,184.67 L459.29,181.56 L461.58,178.33" fill="none" stroke="#7e2f8e" stroke-width="1.50"/>
<rect x="345.60" y="138.15" width="147.20" height="121.90" fill="none" stroke="#262626" stroke-width="0.9"/>
<line x1="354.52" y1="260.05" x2="354.52" y2="262.25" stroke="#262626" stroke-width="1.0"/>
<line x1="354.52" y1="138.15" x2="354.52" y2="135.95" stroke="#262626" stroke-width="1.0"/>
<line x1="372.36" y1="260.05" x2="372.36" y2="262.25" stroke="#262626" stroke-width="1.0"/>
<line x1="372.36" y1="138.15" x2="372.36" y2="135.95" stroke="#262626" stroke-width="1.0"/>
<line x1="390.21" y1="260.05" x2="390.21" y2="262.25" stroke="#262626" stroke-width="1.0"/>
<line x1="390.21" y1="138.15" x2="390.21" y2="135.95" stroke="#262626" stroke-width="1.0"/>
<line x1="408.05" y1="260.05" x2="408.05" y2="262.25" stroke="#262626" stroke-width="1.0"/>
<line x1="408.05" y1="138.15" x2="408.05" y2="135.95" stroke="#262626" stroke-width="1.0"/>
<line x1="425.89" y1="260.05" x2="425.89" y2="262.25" stroke="#262626" stroke-width="1.0"/>
<line x1="425.89" y1="138.15" x2="425.89" y2="135.95" stroke="#262626" stroke-width="1.0"/>
<line x1="443.73" y1="260.05" x2="443.73" y2="262.25" stroke="#262626" stroke-width="1.0"/>
<line x1="443.73" y1="138.15" x2="443.73" y2="135.95" stroke="#262626" stroke-width="1.0"/>
<line x1="461.58" y1="260.05" x2="461.58" y2="262.25" stroke="#262626" stroke-width="1.0"/>
<line x1="461.58" y1="138.15" x2="461.58" y2="135.95" stroke="#262626" stroke-width="1.0"/>
<line x1="479.42" y1="260.05" x2="479.42" y2="262.25" stroke="#262626" stroke-width="1.0"/>
<line x1="479.42" y1="138.15" x2="479.42" y2="135.95" stroke="#262626" stroke-width="1.0"/>
<line x1="345.60" y1="251.34" x2="343.40" y2="251.34" stroke="#262626" stroke-width="1.0"/>
<line x1="492.80" y1="251.34" x2="495.00" y2="251.34" stroke="#262626" stroke-width="1.0"/>
<line x1="345.60" y1="233.93" x2="343.40" y2="233.93" stroke="#262626" stroke-width="1.0"/>
<line x1="492.80" y1="233.93" x2="495.00" y2="233.93" stroke="#262626" stroke-width="1.0"/>
<line x1="345.60" y1="216.51" x2="343.40" y2="216.51" stroke="#262626" stroke-width="1.0"/>
<line x1="492.80" y1="216.51" x2="495.00" y2="216.51" stroke="#262626" stroke-width="1.0"/>
<line x1="345.60" y1="199.10" x2="343.40" y2="199.10" stroke="#262626" stroke-width="1.0"/>
<line x1="492.80" y1="199.10" x2="495.00" y2="199.10" stroke="#262626" stroke-width="1.0"/>
<line x1="345.60" y1="181.69" x2="343.40" y2="181.69" stroke="#262626" stroke-width="1.0"/>
<line x1="492.80" y1="181.69" x2="495.00" y2="181.69" stroke="#262626" stroke-width="1.0"/>
<line x1="345.60" y1="164.27" x2="343.40" y2="164.27" stroke="#262626" stroke-width="1.0"/>
<line x1="492.80" y1="164.27" x2="495.00" y2="164.27" stroke="#262626" stroke-width="1.0"/>
<line x1="345.60" y1="146.86" x2="343.40" y2="146.86" stroke="#262626" stroke-width="1.0"/>
<line x1="492.80" y1="146.86" x2="495.00" y2="146.86" stroke="#262626" stroke-width="1.0"/>
<text transform="translate(354.52,273.8) scale(1,1.06)" font-size="9.2" text-anchor="middle" fill="#262626" stroke="#262626" stroke-width="0.2">-2</text>
<text transform="translate(372.36,273.8) scale(1,1.06)" font-size="9.2" text-anchor="middle" fill="#262626" stroke="#262626" stroke-width="0.2">0</text>
<text transform="translate(390.21,273.8) scale(1,1.06)" font-size="9.2" text-anchor="middle" fill="#262626" stroke="#262626" stroke-width="0.2">2</text>
<text transform="translate(408.05,273.8) scale(1,1.06)" font-size="9.2" text-anchor="middle" fill="#262626" stroke="#262626" stroke-width="0.2">4</text>
<text transform="translate(425.89,273.8) scale(1,1.06)" font-size="9.2" text-anchor="middle" fill="#262626" stroke="#262626" stroke-width="0.2">6</text>
<text transform="translate(443.73,273.8) scale(1,1.06)" font-size="9.2" text-anchor="middle" fill="#262626" stroke="#262626" stroke-width="0.2">8</text>
<text transform="translate(461.58,273.8) scale(1,1.06)" font-size="9.2" text-anchor="middle" fill="#262626" stroke="#262626" stroke-width="0.2">10</text>
<text transform="translate(479.42,273.8) scale(1,1.06)" font-size="9.2" text-anchor="middle" fill="#262626" stroke="#262626" stroke-width="0.2">12</text>
<line x1="361.4" y1="165.00" x2="375.8" y2="165.00" stroke="#000" stroke-width="0.9"/>
<circle cx="368.6" cy="165.00" r="2.2" fill="#fff" stroke="#000" stroke-width="0.6"/>
<text x="377.4" y="168.20" font-size="9" fill="#262626" stroke="#262626" stroke-width="0.2">L15_0.1</text>
<line x1="361.4" y1="175.40" x2="375.8" y2="175.40" stroke="#000" stroke-width="0.9"/>
<rect x="366.8" y="173.60" width="3.6" height="3.6" fill="#fff" stroke="#000" stroke-width="0.6"/>
<text x="377.4" y="178.60" font-size="9" fill="#262626" stroke="#262626" stroke-width="0.2">L15_0.5</text>
<line x1="361.4" y1="185.80" x2="375.8" y2="185.80" stroke="#000" stroke-width="0.9"/>
<polygon points="368.60,182.10 369.54,184.51 372.12,184.66 370.12,186.29 370.77,188.79 368.60,187.40 366.43,188.79 367.08,186.29 365.08,184.66 367.66,184.51" fill="none" stroke="#000" stroke-width="0.85"/>
<text x="377.4" y="189.00" font-size="9" fill="#262626" stroke="#262626" stroke-width="0.2">L15_1.0</text>
<text transform="translate(11.6,68.50) rotate(-90)" font-size="8.9" text-anchor="middle" fill="#262626" stroke="#262626" stroke-width="0.2"><tspan font-style="italic">DWR</tspan><tspan font-size="7.6" dy="2.9">C/X,Ka</tspan><tspan dy="-2.9"> [dB]</tspan></text>
<text transform="translate(11.6,199.40) rotate(-90)" font-size="8.9" text-anchor="middle" fill="#262626" stroke="#262626" stroke-width="0.2"><tspan font-style="italic">DWR</tspan><tspan font-size="7.6" dy="2.9">C/X,Ka</tspan><tspan dy="-2.9"> [dB]</tspan></text>
<text x="107.90" y="284.7" font-size="8.9" text-anchor="middle" fill="#262626" stroke="#262626" stroke-width="0.2"><tspan font-style="italic">DWR</tspan><tspan font-size="7.6" dy="3.1">Ka,W</tspan><tspan dy="-3.1"> [dB]</tspan></text>
<text x="263.50" y="284.7" font-size="8.9" text-anchor="middle" fill="#262626" stroke="#262626" stroke-width="0.2"><tspan font-style="italic">DWR</tspan><tspan font-size="7.6" dy="3.1">Ka,W</tspan><tspan dy="-3.1"> [dB]</tspan></text>
<text x="419.20" y="284.7" font-size="8.9" text-anchor="middle" fill="#262626" stroke="#262626" stroke-width="0.2"><tspan font-style="italic">DWR</tspan><tspan font-size="7.6" dy="3.1">Ka,W</tspan><tspan dy="-3.1"> [dB]</tspan></text>
<defs><linearGradient id="vg" x1="0" x2="1" y1="0" y2="0"><stop offset="0.000" stop-color="#440154"/><stop offset="0.050" stop-color="#471365"/><stop offset="0.100" stop-color="#482475"/><stop offset="0.150" stop-color="#463480"/><stop offset="0.200" stop-color="#414487"/><stop offset="0.250" stop-color="#3b528b"/><stop offset="0.300" stop-color="#355f8d"/><stop offset="0.350" stop-color="#2f6c8e"/><stop offset="0.400" stop-color="#2a788e"/><stop offset="0.450" stop-color="#25848e"/><stop offset="0.500" stop-color="#21918c"/><stop offset="0.550" stop-color="#1e9c89"/><stop offset="0.600" stop-color="#22a884"/><stop offset="0.650" stop-color="#2fb47c"/><stop offset="0.700" stop-color="#44bf70"/><stop offset="0.750" stop-color="#5ec962"/><stop offset="0.800" stop-color="#7ad151"/><stop offset="0.850" stop-color="#9bd93c"/><stop offset="0.900" stop-color="#bddf26"/><stop offset="0.950" stop-color="#dfe318"/><stop offset="1.000" stop-color="#fde725"/></linearGradient></defs>
<rect x="70.00" y="301.20" width="386.60" height="4.50" fill="url(#vg)" stroke="#3a3a3a" stroke-width="0.55" stroke-opacity="0.8"/>
<text transform="translate(70.00,316.9) scale(1,1.1)" font-size="8.3" text-anchor="middle" fill="#262626" stroke="#262626" stroke-width="0.2">0</text>
<line x1="147.32" y1="301.20" x2="147.32" y2="305.70" stroke="#262626" stroke-width="0.6" stroke-opacity="0.8"/>
<text transform="translate(147.32,316.9) scale(1,1.1)" font-size="8.3" text-anchor="middle" fill="#262626" stroke="#262626" stroke-width="0.2">0.1</text>
<line x1="224.64" y1="301.20" x2="224.64" y2="305.70" stroke="#262626" stroke-width="0.6" stroke-opacity="0.8"/>
<text transform="translate(224.64,316.9) scale(1,1.1)" font-size="8.3" text-anchor="middle" fill="#262626" stroke="#262626" stroke-width="0.2">0.2</text>
<line x1="301.96" y1="301.20" x2="301.96" y2="305.70" stroke="#262626" stroke-width="0.6" stroke-opacity="0.8"/>
<text transform="translate(301.96,316.9) scale(1,1.1)" font-size="8.3" text-anchor="middle" fill="#262626" stroke="#262626" stroke-width="0.2">0.3</text>
<line x1="379.28" y1="301.20" x2="379.28" y2="305.70" stroke="#262626" stroke-width="0.6" stroke-opacity="0.8"/>
<text transform="translate(379.28,316.9) scale(1,1.1)" font-size="8.3" text-anchor="middle" fill="#262626" stroke="#262626" stroke-width="0.2">0.4</text>
<text transform="translate(456.60,316.9) scale(1,1.1)" font-size="8.3" text-anchor="middle" fill="#262626" stroke="#262626" stroke-width="0.2">0.5</text>
<text x="256.0" y="299.8" font-size="8.0" text-anchor="middle" fill="#262626" stroke="#262626" stroke-width="0.2">FR</text>
</svg></body></html>
